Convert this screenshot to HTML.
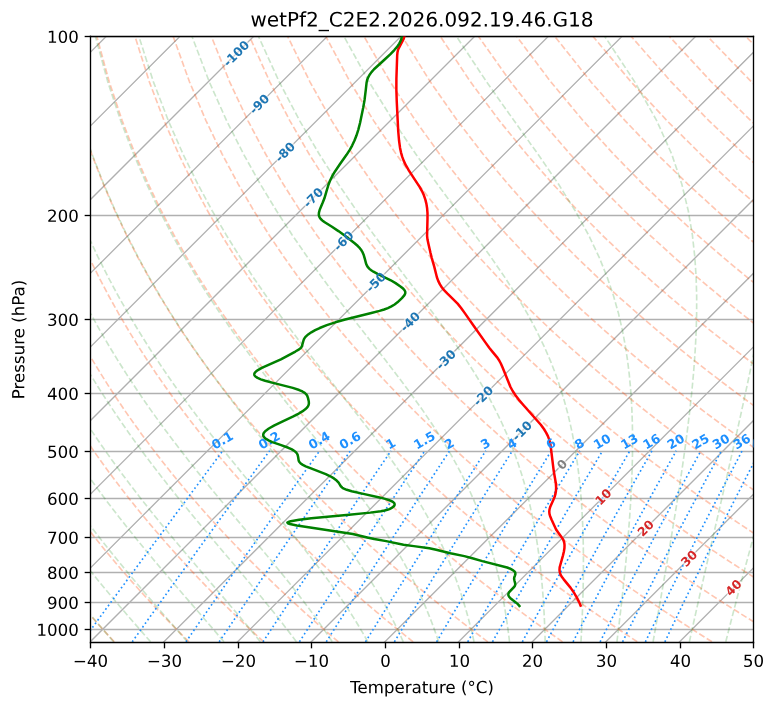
<!DOCTYPE html>
<html><head><meta charset="utf-8"><title>Skew-T</title>
<style>html,body{margin:0;padding:0;background:#fff;width:775px;height:708px;overflow:hidden;font-family:"Liberation Sans",sans-serif}svg{display:block}</style>
</head><body>
<svg width="775" height="708" viewBox="0 0 465 424.8" version="1.1">
 
 <defs>
  <style type="text/css">*{stroke-linejoin: round; stroke-linecap: butt}</style>
 </defs>
 <g id="figure_1">
  <g id="patch_1">
   <path d="M 0 424.8 
L 465 424.8 
L 465 0 
L 0 0 
z
" style="fill: #ffffff"/>
  </g>
  <g id="axes_1">
   <g id="patch_2">
    <path d="M 54.3 385.5 
L 452.1 385.5 
L 452.1 21.9 
L 54.3 21.9 
z
" style="fill: #ffffff"/>
   </g>
   <g id="line2d_1">
    <path d="M 10.1 21.9 
L 466 21.9 
" clip-path="url(#p07b7da3071)" style="fill: none; stroke: #b0b0b0; stroke-width: 0.8"/>
   </g>
   <g id="line2d_2">
    <path d="M 10.1 129.3 
L 466 129.3 
" clip-path="url(#p07b7da3071)" style="fill: none; stroke: #b0b0b0; stroke-width: 0.8"/>
   </g>
   <g id="line2d_3">
    <path d="M 10.1 191.7 
L 466 191.7 
" clip-path="url(#p07b7da3071)" style="fill: none; stroke: #b0b0b0; stroke-width: 0.8"/>
   </g>
   <g id="line2d_4">
    <path d="M 10.1 236.1 
L 466 236.1 
" clip-path="url(#p07b7da3071)" style="fill: none; stroke: #b0b0b0; stroke-width: 0.8"/>
   </g>
   <g id="line2d_5">
    <path d="M 10.1 270.9 
L 466 270.9 
" clip-path="url(#p07b7da3071)" style="fill: none; stroke: #b0b0b0; stroke-width: 0.8"/>
   </g>
   <g id="line2d_6">
    <path d="M 10.1 299.1 
L 466 299.1 
" clip-path="url(#p07b7da3071)" style="fill: none; stroke: #b0b0b0; stroke-width: 0.8"/>
   </g>
   <g id="line2d_7">
    <path d="M 10.1 322.5 
L 466 322.5 
" clip-path="url(#p07b7da3071)" style="fill: none; stroke: #b0b0b0; stroke-width: 0.8"/>
   </g>
   <g id="line2d_8">
    <path d="M 10.1 343.5 
L 466 343.5 
" clip-path="url(#p07b7da3071)" style="fill: none; stroke: #b0b0b0; stroke-width: 0.8"/>
   </g>
   <g id="line2d_9">
    <path d="M 10.1 361.5 
L 466 361.5 
" clip-path="url(#p07b7da3071)" style="fill: none; stroke: #b0b0b0; stroke-width: 0.8"/>
   </g>
   <g id="line2d_10">
    <path d="M 10.1 377.7 
L 466 377.7 
" clip-path="url(#p07b7da3071)" style="fill: none; stroke: #b0b0b0; stroke-width: 0.8"/>
   </g>
   <g id="line2d_11">
    <path clip-path="url(#p07b7da3071)" style="fill: none; stroke: #b0b0b0; stroke-width: 0.8; stroke-linecap: square"/>
   </g>
   <g id="line2d_12">
    <path clip-path="url(#p07b7da3071)" style="fill: none; stroke: #b0b0b0; stroke-width: 0.8; stroke-linecap: square"/>
   </g>
   <g id="line2d_13">
    <path clip-path="url(#p07b7da3071)" style="fill: none; stroke: #b0b0b0; stroke-width: 0.8; stroke-linecap: square"/>
   </g>
   <g id="line2d_14">
    <path clip-path="url(#p07b7da3071)" style="fill: none; stroke: #b0b0b0; stroke-width: 0.8; stroke-linecap: square"/>
   </g>
   <g id="line2d_15">
    <path d="M -1 42.387428 
L 42.387428 -1 
" clip-path="url(#p07b7da3071)" style="fill: none; stroke: #b0b0b0; stroke-width: 0.8; stroke-linecap: square"/>
   </g>
   <g id="line2d_16">
    <path d="M -1 86.589913 
L 86.589913 -1 
" clip-path="url(#p07b7da3071)" style="fill: none; stroke: #b0b0b0; stroke-width: 0.8; stroke-linecap: square"/>
   </g>
   <g id="line2d_17">
    <path d="M -1 130.792397 
L 130.792397 -1 
" clip-path="url(#p07b7da3071)" style="fill: none; stroke: #b0b0b0; stroke-width: 0.8; stroke-linecap: square"/>
   </g>
   <g id="line2d_18">
    <path d="M -1 174.994881 
L 174.994881 -1 
" clip-path="url(#p07b7da3071)" style="fill: none; stroke: #b0b0b0; stroke-width: 0.8; stroke-linecap: square"/>
   </g>
   <g id="line2d_19">
    <path d="M -1 219.197366 
L 219.197366 -1 
" clip-path="url(#p07b7da3071)" style="fill: none; stroke: #b0b0b0; stroke-width: 0.8; stroke-linecap: square"/>
   </g>
   <g id="line2d_20">
    <path d="M -1 263.39985 
L 263.39985 -1 
" clip-path="url(#p07b7da3071)" style="fill: none; stroke: #b0b0b0; stroke-width: 0.8; stroke-linecap: square"/>
   </g>
   <g id="line2d_21">
    <path d="M -1 307.602335 
L 307.602335 -1 
" clip-path="url(#p07b7da3071)" style="fill: none; stroke: #b0b0b0; stroke-width: 0.8; stroke-linecap: square"/>
   </g>
   <g id="line2d_22">
    <path d="M -1 351.804819 
L 351.804819 -1 
" clip-path="url(#p07b7da3071)" style="fill: none; stroke: #b0b0b0; stroke-width: 0.8; stroke-linecap: square"/>
   </g>
   <g id="line2d_23">
    <path d="M -1 396.007304 
L 396.007304 -1 
" clip-path="url(#p07b7da3071)" style="fill: none; stroke: #b0b0b0; stroke-width: 0.8; stroke-linecap: square"/>
   </g>
   <g id="line2d_24">
    <path d="M 25.944937 413.264851 
L 440.209788 -1 
" clip-path="url(#p07b7da3071)" style="fill: none; stroke: #b0b0b0; stroke-width: 0.8; stroke-linecap: square"/>
   </g>
   <g id="line2d_25">
    <path d="M 70.147422 413.264851 
L 466 17.412273 
" clip-path="url(#p07b7da3071)" style="fill: none; stroke: #b0b0b0; stroke-width: 0.8; stroke-linecap: square"/>
   </g>
   <g id="line2d_26">
    <path d="M 114.349906 413.264851 
L 466 61.614757 
" clip-path="url(#p07b7da3071)" style="fill: none; stroke: #b0b0b0; stroke-width: 0.8; stroke-linecap: square"/>
   </g>
   <g id="line2d_27">
    <path d="M 158.552391 413.264851 
L 466 105.817242 
" clip-path="url(#p07b7da3071)" style="fill: none; stroke: #b0b0b0; stroke-width: 0.8; stroke-linecap: square"/>
   </g>
   <g id="line2d_28">
    <path d="M 202.754875 413.264851 
L 466 150.019726 
" clip-path="url(#p07b7da3071)" style="fill: none; stroke: #b0b0b0; stroke-width: 0.8; stroke-linecap: square"/>
   </g>
   <g id="line2d_29">
    <path d="M 246.95736 413.264851 
L 466 194.222211 
" clip-path="url(#p07b7da3071)" style="fill: none; stroke: #b0b0b0; stroke-width: 0.8; stroke-linecap: square"/>
   </g>
   <g id="line2d_30">
    <path d="M 291.159844 413.264851 
L 466 238.424695 
" clip-path="url(#p07b7da3071)" style="fill: none; stroke: #b0b0b0; stroke-width: 0.8; stroke-linecap: square"/>
   </g>
   <g id="line2d_31">
    <path d="M 335.362329 413.264851 
L 466 282.62718 
" clip-path="url(#p07b7da3071)" style="fill: none; stroke: #b0b0b0; stroke-width: 0.8; stroke-linecap: square"/>
   </g>
   <g id="line2d_32">
    <path d="M 379.564813 413.264851 
L 466 326.829664 
" clip-path="url(#p07b7da3071)" style="fill: none; stroke: #b0b0b0; stroke-width: 0.8; stroke-linecap: square"/>
   </g>
   <g id="line2d_33">
    <path d="M 423.767297 413.264851 
L 466 371.032149 
" clip-path="url(#p07b7da3071)" style="fill: none; stroke: #b0b0b0; stroke-width: 0.8; stroke-linecap: square"/>
   </g>
   <g id="line2d_34">
    <path clip-path="url(#p07b7da3071)" style="fill: none; stroke: #b0b0b0; stroke-width: 0.8; stroke-linecap: square"/>
   </g>
   <g id="LineCollection_1">
    <path d="M 68.586947 385.089788 
L 65.917057 382.2097 
L 63.226779 379.274914 
L 60.515748 376.283313 
L 57.783587 373.232652 
L 55.029916 370.120554 
L 52.254345 366.944493 
L 49.45648 363.701785 
L 46.635919 360.389571 
L 43.792256 357.004807 
L 40.92508 353.544244 
L 38.033976 350.004409 
L 35.118528 346.381584 
L 32.178317 342.671784 
L 29.212927 338.870732 
L 26.221945 334.973823 
L 23.204964 330.976098 
L 20.161587 326.872202 
L 17.091431 322.656341 
L 13.994132 318.322234 
L 10.869351 313.863056 
L 7.716784 309.271373 
L 4.536166 304.539069 
L 1.32729 299.657258 
L -1 296.033213 
" clip-path="url(#p07b7da3071)" style="fill: none; stroke-dasharray: 3.7,1.6; stroke-dashoffset: 0; stroke: #ff4500; stroke-opacity: 0.3"/>
    <path d="M 113.409931 385.089788 
L 110.501998 382.2097 
L 107.570457 379.274914 
L 104.614834 376.283313 
L 101.634643 373.232652 
L 98.629384 370.120554 
L 95.598543 366.944493 
L 92.541593 363.701785 
L 89.457992 360.389571 
L 86.347187 357.004807 
L 83.208608 353.544244 
L 80.041676 350.004409 
L 76.845796 346.381584 
L 73.62036 342.671784 
L 70.364751 338.870732 
L 67.078342 334.973823 
L 63.760494 330.976098 
L 60.410565 326.872202 
L 57.027905 322.656341 
L 53.611867 318.322234 
L 50.161804 313.863056 
L 46.677079 309.271373 
L 43.15707 304.539069 
L 39.601177 299.657258 
L 36.008834 294.616185 
L 32.379523 289.405105 
L 28.712788 284.012152 
L 25.008257 278.424169 
L 21.265668 272.626519 
L 17.484905 266.602854 
L 13.666037 260.334833 
L 9.809376 253.801791 
L 5.915545 246.980324 
L 1.985576 239.843782 
L -1 234.209224 
" clip-path="url(#p07b7da3071)" style="fill: none; stroke-dasharray: 3.7,1.6; stroke-dashoffset: 0; stroke: #ff4500; stroke-opacity: 0.3"/>
    <path d="M 158.232915 385.089788 
L 155.086938 382.2097 
L 151.914134 379.274914 
L 148.71392 376.283313 
L 145.4857 373.232652 
L 142.228853 370.120554 
L 138.942741 366.944493 
L 135.626705 363.701785 
L 132.280065 360.389571 
L 128.902117 357.004807 
L 125.492137 353.544244 
L 122.049376 350.004409 
L 118.573063 346.381584 
L 115.062403 342.671784 
L 111.516576 338.870732 
L 107.934739 334.973823 
L 104.316025 330.976098 
L 100.659543 326.872202 
L 96.96438 322.656341 
L 93.229603 318.322234 
L 89.454257 313.863056 
L 85.637375 309.271373 
L 81.777974 304.539069 
L 77.875064 299.657258 
L 73.927656 294.616185 
L 69.934768 289.405105 
L 65.895436 284.012152 
L 61.808732 278.424169 
L 57.673784 272.626519 
L 53.489795 266.602854 
L 49.256085 260.334833 
L 44.972127 253.801791 
L 40.63761 246.980324 
L 36.25251 239.843782 
L 31.817193 232.361645 
L 27.33255 224.498731 
L 22.800176 216.214194 
L 18.222622 207.460244 
L 13.603737 198.180474 
L 8.949147 188.307654 
L 4.266944 177.760779 
L -0.431327 166.441019 
L -1 164.962414 
" clip-path="url(#p07b7da3071)" style="fill: none; stroke-dasharray: 3.7,1.6; stroke-dashoffset: 0; stroke: #ff4500; stroke-opacity: 0.3"/>
    <path d="M 203.055899 385.089788 
L 199.671879 382.2097 
L 196.257811 379.274914 
L 192.813007 376.283313 
L 189.336756 373.232652 
L 185.828321 370.120554 
L 182.286939 366.944493 
L 178.711818 363.701785 
L 175.102137 360.389571 
L 171.457047 357.004807 
L 167.775665 353.544244 
L 164.057076 350.004409 
L 160.300331 346.381584 
L 156.504446 342.671784 
L 152.668401 338.870732 
L 148.791137 334.973823 
L 144.871556 330.976098 
L 140.908521 326.872202 
L 136.900855 322.656341 
L 132.847338 318.322234 
L 128.746711 313.863056 
L 124.597671 309.271373 
L 120.398878 304.539069 
L 116.148952 299.657258 
L 111.846478 294.616185 
L 107.490012 289.405105 
L 103.078083 284.012152 
L 98.609208 278.424169 
L 94.081899 272.626519 
L 89.494685 266.602854 
L 84.846133 260.334833 
L 80.134879 253.801791 
L 75.359675 246.980324 
L 70.519444 239.843782 
L 65.613361 232.361645 
L 60.640961 224.498731 
L 55.60229 216.214194 
L 50.498111 207.460244 
L 45.330197 198.180474 
L 40.101742 188.307654 
L 34.817956 177.760779 
L 29.486936 166.441019 
L 24.120963 154.226076 
L 18.73849 140.962115 
L 13.367257 126.451883 
L 8.049349 110.436665 
L 2.849729 92.567754 
L -1 76.940711 
" clip-path="url(#p07b7da3071)" style="fill: none; stroke-dasharray: 3.7,1.6; stroke-dashoffset: 0; stroke: #ff4500; stroke-opacity: 0.3"/>
    <path d="M 247.878883 385.089788 
L 244.25682 382.2097 
L 240.601488 379.274914 
L 236.912093 376.283313 
L 233.187812 373.232652 
L 229.42779 370.120554 
L 225.631137 366.944493 
L 221.79693 363.701785 
L 217.92421 360.389571 
L 214.011978 357.004807 
L 210.059193 353.544244 
L 206.064776 350.004409 
L 202.027599 346.381584 
L 197.94649 342.671784 
L 193.820226 338.870732 
L 189.647534 334.973823 
L 185.427086 330.976098 
L 181.157499 326.872202 
L 176.83733 322.656341 
L 172.465074 318.322234 
L 168.039164 313.863056 
L 163.557967 309.271373 
L 159.019782 304.539069 
L 154.422839 299.657258 
L 149.7653 294.616185 
L 145.045256 289.405105 
L 140.260731 284.012152 
L 135.409684 278.424169 
L 130.490015 272.626519 
L 125.499575 266.602854 
L 120.43618 260.334833 
L 115.29763 253.801791 
L 110.08174 246.980324 
L 104.786378 239.843782 
L 99.409528 232.361645 
L 93.949371 224.498731 
L 88.404403 216.214194 
L 82.7736 207.460244 
L 77.056658 198.180474 
L 71.254337 188.307654 
L 65.368968 177.760779 
L 59.405199 166.441019 
L 53.371131 154.226076 
L 47.280072 140.962115 
L 41.153321 126.451883 
L 35.02473 110.436665 
L 28.94848 92.567754 
L 23.012954 72.359175 
L 17.367039 49.104601 
L 12.273905 21.72 
" clip-path="url(#p07b7da3071)" style="fill: none; stroke-dasharray: 3.7,1.6; stroke-dashoffset: 0; stroke: #ff4500; stroke-opacity: 0.3"/>
    <path d="M 292.701867 385.089788 
L 288.841761 382.2097 
L 284.945165 379.274914 
L 281.011179 376.283313 
L 277.038868 373.232652 
L 273.027258 370.120554 
L 268.975335 366.944493 
L 264.882043 363.701785 
L 260.746283 360.389571 
L 256.566908 357.004807 
L 252.342721 353.544244 
L 248.072476 350.004409 
L 243.754867 346.381584 
L 239.388533 342.671784 
L 234.972051 338.870732 
L 230.503931 334.973823 
L 225.982617 330.976098 
L 221.406477 326.872202 
L 216.773804 322.656341 
L 212.082809 318.322234 
L 207.331617 313.863056 
L 202.518262 309.271373 
L 197.640685 304.539069 
L 192.696727 299.657258 
L 187.684122 294.616185 
L 182.600501 289.405105 
L 177.443379 284.012152 
L 172.210159 278.424169 
L 166.89813 272.626519 
L 161.504465 266.602854 
L 156.026228 260.334833 
L 150.460382 253.801791 
L 144.803805 246.980324 
L 139.053312 239.843782 
L 133.205695 232.361645 
L 127.257782 224.498731 
L 121.206517 216.214194 
L 115.049089 207.460244 
L 108.783118 198.180474 
L 102.406932 188.307654 
L 95.919979 177.760779 
L 89.323462 166.441019 
L 82.621299 154.226076 
L 75.821655 140.962115 
L 68.939385 126.451883 
L 62.000111 110.436665 
L 55.04723 92.567754 
L 48.154571 72.359175 
L 41.450611 49.104601 
L 35.16847 21.72 
" clip-path="url(#p07b7da3071)" style="fill: none; stroke-dasharray: 3.7,1.6; stroke-dashoffset: 0; stroke: #ff4500; stroke-opacity: 0.3"/>
    <path d="M 337.524851 385.089788 
L 333.426701 382.2097 
L 329.288842 379.274914 
L 325.110266 376.283313 
L 320.889925 373.232652 
L 316.626727 370.120554 
L 312.319533 366.944493 
L 307.967156 363.701785 
L 303.568356 360.389571 
L 299.121838 357.004807 
L 294.62625 353.544244 
L 290.080175 350.004409 
L 285.482134 346.381584 
L 280.830576 342.671784 
L 276.123876 338.870732 
L 271.360329 334.973823 
L 266.538148 330.976098 
L 261.655456 326.872202 
L 256.710279 322.656341 
L 251.700545 318.322234 
L 246.62407 313.863056 
L 241.478558 309.271373 
L 236.261589 304.539069 
L 230.970614 299.657258 
L 225.602944 294.616185 
L 220.155745 289.405105 
L 214.626026 284.012152 
L 209.010635 278.424169 
L 203.306245 272.626519 
L 197.509355 266.602854 
L 191.616275 260.334833 
L 185.623134 253.801791 
L 179.525869 246.980324 
L 173.320245 239.843782 
L 167.001863 232.361645 
L 160.566193 224.498731 
L 154.008631 216.214194 
L 147.324578 207.460244 
L 140.509579 198.180474 
L 133.559527 188.307654 
L 126.470991 177.760779 
L 119.241725 166.441019 
L 111.871467 154.226076 
L 104.363237 140.962115 
L 96.725449 126.451883 
L 88.975492 110.436665 
L 81.145981 92.567754 
L 73.296187 72.359175 
L 65.534184 49.104601 
L 58.063035 21.72 
" clip-path="url(#p07b7da3071)" style="fill: none; stroke-dasharray: 3.7,1.6; stroke-dashoffset: 0; stroke: #ff4500; stroke-opacity: 0.3"/>
    <path d="M 382.347835 385.089788 
L 378.011642 382.2097 
L 373.632519 379.274914 
L 369.209352 376.283313 
L 364.740981 373.232652 
L 360.226195 370.120554 
L 355.663731 366.944493 
L 351.052268 363.701785 
L 346.390429 360.389571 
L 341.676769 357.004807 
L 336.909778 353.544244 
L 332.087875 350.004409 
L 327.209402 346.381584 
L 322.272619 342.671784 
L 317.2757 338.870732 
L 312.216726 334.973823 
L 307.093679 330.976098 
L 301.904434 326.872202 
L 296.646754 322.656341 
L 291.31828 318.322234 
L 285.916523 313.863056 
L 280.438854 309.271373 
L 274.882493 304.539069 
L 269.244501 299.657258 
L 263.521766 294.616185 
L 257.710989 289.405105 
L 251.808674 284.012152 
L 245.81111 278.424169 
L 239.714361 272.626519 
L 233.514244 266.602854 
L 227.206323 260.334833 
L 220.785885 253.801791 
L 214.247934 246.980324 
L 207.587179 239.843782 
L 200.79803 232.361645 
L 193.874604 224.498731 
L 186.810744 216.214194 
L 179.600067 207.460244 
L 172.236039 198.180474 
L 164.712121 188.307654 
L 157.022003 177.760779 
L 149.159988 166.441019 
L 141.121635 154.226076 
L 132.904819 140.962115 
L 124.511513 126.451883 
L 115.950873 110.436665 
L 107.244731 92.567754 
L 98.437804 72.359175 
L 89.617756 49.104601 
L 80.9576 21.72 
" clip-path="url(#p07b7da3071)" style="fill: none; stroke-dasharray: 3.7,1.6; stroke-dashoffset: 0; stroke: #ff4500; stroke-opacity: 0.3"/>
    <path d="M 427.170819 385.089788 
L 422.596583 382.2097 
L 417.976196 379.274914 
L 413.308438 376.283313 
L 408.592037 373.232652 
L 403.825663 370.120554 
L 399.007929 366.944493 
L 394.137381 363.701785 
L 389.212501 360.389571 
L 384.231699 357.004807 
L 379.193306 353.544244 
L 374.095575 350.004409 
L 368.93667 346.381584 
L 363.714663 342.671784 
L 358.427525 338.870732 
L 353.073124 334.973823 
L 347.649209 330.976098 
L 342.153412 326.872202 
L 336.583229 322.656341 
L 330.936016 318.322234 
L 325.208976 313.863056 
L 319.399149 309.271373 
L 313.503397 304.539069 
L 307.518389 299.657258 
L 301.440588 294.616185 
L 295.266234 289.405105 
L 288.991321 284.012152 
L 282.611586 278.424169 
L 276.122476 272.626519 
L 269.519134 266.602854 
L 262.796371 260.334833 
L 255.948637 253.801791 
L 248.969999 246.980324 
L 241.854113 239.843782 
L 234.594197 232.361645 
L 227.183014 224.498731 
L 219.612858 216.214194 
L 211.875556 207.460244 
L 203.9625 198.180474 
L 195.864716 188.307654 
L 187.573014 177.760779 
L 179.078251 166.441019 
L 170.371804 154.226076 
L 161.446402 140.962115 
L 152.297577 126.451883 
L 142.926254 110.436665 
L 133.343482 92.567754 
L 123.579421 72.359175 
L 113.701328 49.104601 
L 103.852165 21.72 
" clip-path="url(#p07b7da3071)" style="fill: none; stroke-dasharray: 3.7,1.6; stroke-dashoffset: 0; stroke: #ff4500; stroke-opacity: 0.3"/>
    <path d="M 466 381.496461 
L 462.319873 379.274914 
L 457.407525 376.283313 
L 452.443093 373.232652 
L 447.425132 370.120554 
L 442.352127 366.944493 
L 437.222494 363.701785 
L 432.034574 360.389571 
L 426.786629 357.004807 
L 421.476835 353.544244 
L 416.103275 350.004409 
L 410.663938 346.381584 
L 405.156706 342.671784 
L 399.57935 338.870732 
L 393.929521 334.973823 
L 388.20474 330.976098 
L 382.40239 326.872202 
L 376.519703 322.656341 
L 370.553751 318.322234 
L 364.501429 313.863056 
L 358.359445 309.271373 
L 352.124301 304.539069 
L 345.792276 299.657258 
L 339.35941 294.616185 
L 332.821478 289.405105 
L 326.173969 284.012152 
L 319.412061 278.424169 
L 312.530591 272.626519 
L 305.524024 266.602854 
L 298.386418 260.334833 
L 291.111388 253.801791 
L 283.692064 246.980324 
L 276.121047 239.843782 
L 268.390365 232.361645 
L 260.491425 224.498731 
L 252.414972 216.214194 
L 244.151045 207.460244 
L 235.68896 198.180474 
L 227.017311 188.307654 
L 218.124026 177.760779 
L 208.996514 166.441019 
L 199.621972 154.226076 
L 189.987984 140.962115 
L 180.083642 126.451883 
L 169.901635 110.436665 
L 159.442232 92.567754 
L 148.721038 72.359175 
L 137.784901 49.104601 
L 126.746729 21.72 
" clip-path="url(#p07b7da3071)" style="fill: none; stroke-dasharray: 3.7,1.6; stroke-dashoffset: 0; stroke: #ff4500; stroke-opacity: 0.3"/>
    <path d="M 466 354.932908 
L 463.760363 353.544244 
L 458.110975 350.004409 
L 452.391206 346.381584 
L 446.598749 342.671784 
L 440.731175 338.870732 
L 434.785918 334.973823 
L 428.760271 330.976098 
L 422.651368 326.872202 
L 416.456178 322.656341 
L 410.171487 318.322234 
L 403.793882 313.863056 
L 397.319741 309.271373 
L 390.745205 304.539069 
L 384.066164 299.657258 
L 377.278232 294.616185 
L 370.376722 289.405105 
L 363.356617 284.012152 
L 356.212537 278.424169 
L 348.938707 272.626519 
L 341.528914 266.602854 
L 333.976466 260.334833 
L 326.27414 253.801791 
L 318.414129 246.980324 
L 310.387981 239.843782 
L 302.186532 232.361645 
L 293.799836 224.498731 
L 285.217085 216.214194 
L 276.426534 207.460244 
L 267.415421 198.180474 
L 258.169906 188.307654 
L 248.675038 177.760779 
L 238.914777 166.441019 
L 228.87214 154.226076 
L 218.529567 140.962115 
L 207.869706 126.451883 
L 196.877016 110.436665 
L 185.540983 92.567754 
L 173.862655 72.359175 
L 161.868473 49.104601 
L 149.641294 21.72 
" clip-path="url(#p07b7da3071)" style="fill: none; stroke-dasharray: 3.7,1.6; stroke-dashoffset: 0; stroke: #ff4500; stroke-opacity: 0.3"/>
    <path d="M 466 328.855017 
L 462.900346 326.872202 
L 456.392653 322.656341 
L 449.789222 318.322234 
L 443.086335 313.863056 
L 436.280036 309.271373 
L 429.366108 304.539069 
L 422.340051 299.657258 
L 415.197054 294.616185 
L 407.931967 289.405105 
L 400.539264 284.012152 
L 393.013012 278.424169 
L 385.346822 272.626519 
L 377.533804 266.602854 
L 369.566514 260.334833 
L 361.436891 253.801791 
L 353.136194 246.980324 
L 344.654914 239.843782 
L 335.982699 232.361645 
L 327.108247 224.498731 
L 318.019199 216.214194 
L 308.702023 207.460244 
L 299.141881 198.180474 
L 289.322501 188.307654 
L 279.22605 177.760779 
L 268.83304 166.441019 
L 258.122308 154.226076 
L 247.071149 140.962115 
L 235.65577 126.451883 
L 223.852397 110.436665 
L 211.639733 92.567754 
L 199.004272 72.359175 
L 185.952045 49.104601 
L 172.535859 21.72 
" clip-path="url(#p07b7da3071)" style="fill: none; stroke-dasharray: 3.7,1.6; stroke-dashoffset: 0; stroke: #ff4500; stroke-opacity: 0.3"/>
    <path d="M 466 303.223442 
L 460.613939 299.657258 
L 453.115876 294.616185 
L 445.487211 289.405105 
L 437.721912 284.012152 
L 429.813488 278.424169 
L 421.754937 272.626519 
L 413.538694 266.602854 
L 405.156561 260.334833 
L 396.599643 253.801791 
L 387.858258 246.980324 
L 378.921848 239.843782 
L 369.778867 232.361645 
L 360.416657 224.498731 
L 350.821313 216.214194 
L 340.977512 207.460244 
L 330.868342 198.180474 
L 320.475096 188.307654 
L 309.777061 177.760779 
L 298.751303 166.441019 
L 287.372476 154.226076 
L 275.612732 140.962115 
L 263.441834 126.451883 
L 250.827778 110.436665 
L 237.738484 92.567754 
L 224.145889 72.359175 
L 210.035617 49.104601 
L 195.430424 21.72 
" clip-path="url(#p07b7da3071)" style="fill: none; stroke-dasharray: 3.7,1.6; stroke-dashoffset: 0; stroke: #ff4500; stroke-opacity: 0.3"/>
    <path d="M 466 278.002966 
L 458.163053 272.626519 
L 449.543584 266.602854 
L 440.746609 260.334833 
L 431.762395 253.801791 
L 422.580323 246.980324 
L 413.188782 239.843782 
L 403.575034 232.361645 
L 393.725068 224.498731 
L 383.623426 216.214194 
L 373.253001 207.460244 
L 362.594802 198.180474 
L 351.627691 188.307654 
L 340.328073 177.760779 
L 328.669566 166.441019 
L 316.622645 154.226076 
L 304.154314 140.962115 
L 291.227898 126.451883 
L 277.80316 110.436665 
L 263.837234 92.567754 
L 249.287506 72.359175 
L 234.11919 49.104601 
L 218.324989 21.72 
" clip-path="url(#p07b7da3071)" style="fill: none; stroke-dasharray: 3.7,1.6; stroke-dashoffset: 0; stroke: #ff4500; stroke-opacity: 0.3"/>
    <path d="M 466 253.145965 
L 457.302388 246.980324 
L 447.455716 239.843782 
L 437.371201 232.361645 
L 427.033479 224.498731 
L 416.42554 216.214194 
L 405.52849 207.460244 
L 394.321263 198.180474 
L 382.780285 188.307654 
L 370.879085 177.760779 
L 358.587829 166.441019 
L 345.872813 154.226076 
L 332.695897 140.962115 
L 319.013962 126.451883 
L 304.778541 110.436665 
L 289.935985 92.567754 
L 274.429123 72.359175 
L 258.202762 49.104601 
L 241.219554 21.72 
" clip-path="url(#p07b7da3071)" style="fill: none; stroke-dasharray: 3.7,1.6; stroke-dashoffset: 0; stroke: #ff4500; stroke-opacity: 0.3"/>
    <path d="M 466 228.608409 
L 460.34189 224.498731 
L 449.227654 216.214194 
L 437.803979 207.460244 
L 426.047723 198.180474 
L 413.93288 188.307654 
L 401.430096 177.760779 
L 388.506092 166.441019 
L 375.122981 154.226076 
L 361.237479 140.962115 
L 346.800026 126.451883 
L 331.753922 110.436665 
L 316.034736 92.567754 
L 299.57074 72.359175 
L 282.286334 49.104601 
L 264.114119 21.72 
" clip-path="url(#p07b7da3071)" style="fill: none; stroke-dasharray: 3.7,1.6; stroke-dashoffset: 0; stroke: #ff4500; stroke-opacity: 0.3"/>
    <path d="M 466 204.3838 
L 457.774184 198.180474 
L 445.085475 188.307654 
L 431.981108 177.760779 
L 418.424355 166.441019 
L 404.373149 154.226076 
L 389.779061 140.962115 
L 374.58609 126.451883 
L 358.729303 110.436665 
L 342.133486 92.567754 
L 324.712357 72.359175 
L 306.369907 49.104601 
L 287.008684 21.72 
" clip-path="url(#p07b7da3071)" style="fill: none; stroke-dasharray: 3.7,1.6; stroke-dashoffset: 0; stroke: #ff4500; stroke-opacity: 0.3"/>
    <path d="M 466 180.42935 
L 462.53212 177.760779 
L 448.342618 166.441019 
L 433.623317 154.226076 
L 418.320644 140.962115 
L 402.372154 126.451883 
L 385.704684 110.436665 
L 368.232237 92.567754 
L 349.853973 72.359175 
L 330.453479 49.104601 
L 309.903249 21.72 
" clip-path="url(#p07b7da3071)" style="fill: none; stroke-dasharray: 3.7,1.6; stroke-dashoffset: 0; stroke: #ff4500; stroke-opacity: 0.3"/>
    <path d="M 466 156.70799 
L 462.873486 154.226076 
L 446.862226 140.962115 
L 430.158219 126.451883 
L 412.680065 110.436665 
L 394.330987 92.567754 
L 374.99559 72.359175 
L 354.537051 49.104601 
L 332.797814 21.72 
" clip-path="url(#p07b7da3071)" style="fill: none; stroke-dasharray: 3.7,1.6; stroke-dashoffset: 0; stroke: #ff4500; stroke-opacity: 0.3"/>
    <path d="M 466 133.146814 
L 457.944283 126.451883 
L 439.655446 110.436665 
L 420.429738 92.567754 
L 400.137207 72.359175 
L 378.620623 49.104601 
L 355.692379 21.72 
" clip-path="url(#p07b7da3071)" style="fill: none; stroke-dasharray: 3.7,1.6; stroke-dashoffset: 0; stroke: #ff4500; stroke-opacity: 0.3"/>
    <path d="M 466 109.875925 
L 446.528488 92.567754 
L 425.278824 72.359175 
L 402.704196 49.104601 
L 378.586944 21.72 
" clip-path="url(#p07b7da3071)" style="fill: none; stroke-dasharray: 3.7,1.6; stroke-dashoffset: 0; stroke: #ff4500; stroke-opacity: 0.3"/>
    <path d="M 466 86.536849 
L 450.420441 72.359175 
L 426.787768 49.104601 
L 401.481509 21.72 
" clip-path="url(#p07b7da3071)" style="fill: none; stroke-dasharray: 3.7,1.6; stroke-dashoffset: 0; stroke: #ff4500; stroke-opacity: 0.3"/>
    <path d="M 466 63.353297 
L 450.87134 49.104601 
L 424.376074 21.72 
" clip-path="url(#p07b7da3071)" style="fill: none; stroke-dasharray: 3.7,1.6; stroke-dashoffset: 0; stroke: #ff4500; stroke-opacity: 0.3"/>
    <path d="M 466 40.246622 
L 447.270639 21.72 
" clip-path="url(#p07b7da3071)" style="fill: none; stroke-dasharray: 3.7,1.6; stroke-dashoffset: 0; stroke: #ff4500; stroke-opacity: 0.3"/>
    <path clip-path="url(#p07b7da3071)" style="fill: none; stroke-dasharray: 3.7,1.6; stroke-dashoffset: 0; stroke: #ff4500; stroke-opacity: 0.3"/>
    <path clip-path="url(#p07b7da3071)" style="fill: none; stroke-dasharray: 3.7,1.6; stroke-dashoffset: 0; stroke: #ff4500; stroke-opacity: 0.3"/>
    <path clip-path="url(#p07b7da3071)" style="fill: none; stroke-dasharray: 3.7,1.6; stroke-dashoffset: 0; stroke: #ff4500; stroke-opacity: 0.3"/>
    <path clip-path="url(#p07b7da3071)" style="fill: none; stroke-dasharray: 3.7,1.6; stroke-dashoffset: 0; stroke: #ff4500; stroke-opacity: 0.3"/>
    <path clip-path="url(#p07b7da3071)" style="fill: none; stroke-dasharray: 3.7,1.6; stroke-dashoffset: 0; stroke: #ff4500; stroke-opacity: 0.3"/>
    <path clip-path="url(#p07b7da3071)" style="fill: none; stroke-dasharray: 3.7,1.6; stroke-dashoffset: 0; stroke: #ff4500; stroke-opacity: 0.3"/>
   </g>
   <g id="LineCollection_2">
    <path d="M 68.189246 385.089788 
L 65.683806 382.2097 
L 63.144902 379.274914 
L 60.57272 376.283313 
L 57.967447 373.232652 
L 55.329271 370.120554 
L 52.658376 366.944493 
L 49.954938 363.701785 
L 47.219158 360.389571 
L 44.451204 357.004807 
L 41.651215 353.544244 
L 38.819324 350.004409 
L 35.955675 346.381584 
L 33.060392 342.671784 
L 30.133594 338.870732 
L 27.175381 334.973823 
L 24.185809 330.976098 
L 21.164935 326.872202 
L 18.112837 322.656341 
L 15.029575 318.322234 
L 11.915233 313.863056 
L 8.769855 309.271373 
L 5.5935 304.539069 
L 2.386302 299.657258 
L -0.851574 294.616185 
L -1 294.379531 
" clip-path="url(#p07b7da3071)" style="fill: none; stroke-dasharray: 3.7,1.6; stroke-dashoffset: 0; stroke: #008000; stroke-opacity: 0.2"/>
    <path d="M 90.370564 385.089788 
L 87.839994 382.2097 
L 85.268461 379.274914 
L 82.656158 376.283313 
L 80.003305 373.232652 
L 77.31014 370.120554 
L 74.576912 366.944493 
L 71.803879 363.701785 
L 68.991342 360.389571 
L 66.139576 357.004807 
L 63.248836 353.544244 
L 60.319377 350.004409 
L 57.351474 346.381584 
L 54.345383 342.671784 
L 51.301355 338.870732 
L 48.219617 334.973823 
L 45.100347 330.976098 
L 41.943712 326.872202 
L 38.749895 322.656341 
L 35.519044 318.322234 
L 32.251314 313.863056 
L 28.9468 309.271373 
L 25.605591 304.539069 
L 22.227825 299.657258 
L 18.813643 294.616185 
L 15.363218 289.405105 
L 11.876709 284.012152 
L 8.354395 278.424169 
L 4.796669 272.626519 
L 1.20406 266.602854 
L -1 262.793743 
" clip-path="url(#p07b7da3071)" style="fill: none; stroke-dasharray: 3.7,1.6; stroke-dashoffset: 0; stroke: #008000; stroke-opacity: 0.2"/>
    <path d="M 112.44999 385.089788 
L 109.934814 382.2097 
L 107.369916 379.274914 
L 104.755363 376.283313 
L 102.091277 373.232652 
L 99.377834 370.120554 
L 96.615251 366.944493 
L 93.803785 363.701785 
L 90.943774 360.389571 
L 88.035552 357.004807 
L 85.079457 353.544244 
L 82.075852 350.004409 
L 79.02514 346.381584 
L 75.927733 342.671784 
L 72.784039 338.870732 
L 69.594461 334.973823 
L 66.359355 330.976098 
L 63.079064 326.872202 
L 59.753948 322.656341 
L 56.384328 318.322234 
L 52.97052 313.863056 
L 49.512765 309.271373 
L 46.011274 304.539069 
L 42.466284 299.657258 
L 38.878012 294.616185 
L 35.24667 289.405105 
L 31.57242 284.012152 
L 27.855501 278.424169 
L 24.096219 272.626519 
L 20.294966 266.602854 
L 16.452183 260.334833 
L 12.568567 253.801791 
L 8.645091 246.980324 
L 4.682995 239.843782 
L 0.684009 232.361645 
L -1 229.078783 
" clip-path="url(#p07b7da3071)" style="fill: none; stroke-dasharray: 3.7,1.6; stroke-dashoffset: 0; stroke: #008000; stroke-opacity: 0.2"/>
    <path d="M 134.401623 385.089788 
L 131.951898 382.2097 
L 129.4431 379.274914 
L 126.874927 376.283313 
L 124.247172 373.232652 
L 121.559719 370.120554 
L 118.812542 366.944493 
L 116.005699 363.701785 
L 113.139371 360.389571 
L 110.21379 357.004807 
L 107.22924 353.544244 
L 104.186082 350.004409 
L 101.084766 346.381584 
L 97.925762 342.671784 
L 94.709633 338.870732 
L 91.436939 334.973823 
L 88.10821 330.976098 
L 84.723987 326.872202 
L 81.284865 322.656341 
L 77.791424 318.322234 
L 74.244219 313.863056 
L 70.643754 309.271373 
L 66.990468 304.539069 
L 63.284812 299.657258 
L 59.5272 294.616185 
L 55.71803 289.405105 
L 51.857605 284.012152 
L 47.946232 278.424169 
L 43.984261 272.626519 
L 39.972079 266.602854 
L 35.910049 260.334833 
L 31.798693 253.801791 
L 27.638748 246.980324 
L 23.431151 239.843782 
L 19.177173 232.361645 
L 14.878697 224.498731 
L 10.538244 216.214194 
L 6.159296 207.460244 
L 1.746794 198.180474 
L -1 192.071876 
" clip-path="url(#p07b7da3071)" style="fill: none; stroke-dasharray: 3.7,1.6; stroke-dashoffset: 0; stroke: #008000; stroke-opacity: 0.2"/>
    <path d="M 156.203919 385.089788 
L 153.877067 382.2097 
L 151.482462 379.274914 
L 149.01913 376.283313 
L 146.486209 373.232652 
L 143.882959 370.120554 
L 141.208765 366.944493 
L 138.463129 363.701785 
L 135.645766 360.389571 
L 132.756499 357.004807 
L 129.795249 353.544244 
L 126.762063 350.004409 
L 123.657127 346.381584 
L 120.480793 342.671784 
L 117.233561 338.870732 
L 113.915964 334.973823 
L 110.528664 330.976098 
L 107.072343 326.872202 
L 103.547743 322.656341 
L 99.955686 318.322234 
L 96.296998 313.863056 
L 92.572559 309.271373 
L 88.783147 304.539069 
L 84.929499 299.657258 
L 81.012393 294.616185 
L 77.032549 289.405105 
L 72.990641 284.012152 
L 68.887219 278.424169 
L 64.722827 272.626519 
L 60.498009 266.602854 
L 56.213303 260.334833 
L 51.869183 253.801791 
L 47.466287 246.980324 
L 43.005424 239.843782 
L 38.487544 232.361645 
L 33.914039 224.498731 
L 29.286908 216.214194 
L 24.608819 207.460244 
L 19.883703 198.180474 
L 15.117068 188.307654 
L 10.316684 177.760779 
L 5.493672 166.441019 
L 0.663772 154.226076 
L -1 149.641972 
" clip-path="url(#p07b7da3071)" style="fill: none; stroke-dasharray: 3.7,1.6; stroke-dashoffset: 0; stroke: #008000; stroke-opacity: 0.2"/>
    <path d="M 177.845972 385.089788 
L 175.702276 382.2097 
L 173.484544 379.274914 
L 171.190863 376.283313 
L 168.819414 373.232652 
L 166.368481 370.120554 
L 163.836476 366.944493 
L 161.221952 363.701785 
L 158.523635 360.389571 
L 155.740422 357.004807 
L 152.871388 353.544244 
L 149.915811 350.004409 
L 146.873188 346.381584 
L 143.743212 342.671784 
L 140.525825 338.870732 
L 137.22123 334.973823 
L 133.829743 330.976098 
L 130.351827 326.872202 
L 126.788132 322.656341 
L 123.139551 318.322234 
L 119.407108 313.863056 
L 115.591875 309.271373 
L 111.694992 304.539069 
L 107.717596 299.657258 
L 103.660904 294.616185 
L 99.526119 289.405105 
L 95.314418 284.012152 
L 91.026836 278.424169 
L 86.664396 272.626519 
L 82.228072 266.602854 
L 77.718756 260.334833 
L 73.137202 253.801791 
L 68.484234 246.980324 
L 63.760718 239.843782 
L 58.967514 232.361645 
L 54.105784 224.498731 
L 49.177098 216.214194 
L 44.183486 207.460244 
L 39.128014 198.180474 
L 34.015022 188.307654 
L 28.850809 177.760779 
L 23.644595 166.441019 
L 18.409756 154.226076 
L 13.165984 140.962115 
L 7.942438 126.451883 
L 2.782861 110.436665 
L -1 96.994049 
" clip-path="url(#p07b7da3071)" style="fill: none; stroke-dasharray: 3.7,1.6; stroke-dashoffset: 0; stroke: #008000; stroke-opacity: 0.2"/>
    <path d="M 199.33324 385.089788 
L 197.429492 382.2097 
L 195.449521 379.274914 
L 193.390421 376.283313 
L 191.249287 373.232652 
L 189.023243 370.120554 
L 186.709464 366.944493 
L 184.305206 363.701785 
L 181.807812 360.389571 
L 179.214779 357.004807 
L 176.523778 353.544244 
L 173.732678 350.004409 
L 170.839565 346.381584 
L 167.842782 342.671784 
L 164.740994 338.870732 
L 161.533153 334.973823 
L 158.218509 330.976098 
L 154.796656 326.872202 
L 151.267552 322.656341 
L 147.631464 318.322234 
L 143.889037 313.863056 
L 140.041114 309.271373 
L 136.088766 304.539069 
L 132.033377 299.657258 
L 127.876497 294.616185 
L 123.61982 289.405105 
L 119.265028 284.012152 
L 114.813857 278.424169 
L 110.268083 272.626519 
L 105.62943 266.602854 
L 100.899431 260.334833 
L 96.079575 253.801791 
L 91.171287 246.980324 
L 86.175838 239.843782 
L 81.094421 232.361645 
L 75.928369 224.498731 
L 70.679079 216.214194 
L 65.348286 207.460244 
L 59.938434 198.180474 
L 54.452803 188.307654 
L 48.89641 177.760779 
L 43.276526 166.441019 
L 37.604203 154.226076 
L 31.895907 140.962115 
L 26.176807 126.451883 
L 20.485355 110.436665 
L 14.881653 92.567754 
L 9.462023 72.359175 
L 4.386387 49.104601 
L -0.065887 21.72 
" clip-path="url(#p07b7da3071)" style="fill: none; stroke-dasharray: 3.7,1.6; stroke-dashoffset: 0; stroke: #008000; stroke-opacity: 0.2"/>
    <path d="M 220.690147 385.089788 
L 219.07281 382.2097 
L 217.382193 379.274914 
L 215.614627 376.283313 
L 213.766326 373.232652 
L 211.833398 370.120554 
L 209.811863 366.944493 
L 207.697678 363.701785 
L 205.486731 360.389571 
L 203.174919 357.004807 
L 200.758188 353.544244 
L 198.232547 350.004409 
L 195.594094 346.381584 
L 192.839111 342.671784 
L 189.964096 338.870732 
L 186.965839 334.973823 
L 183.84148 330.976098 
L 180.588538 326.872202 
L 177.204956 322.656341 
L 173.689213 318.322234 
L 170.040297 313.863056 
L 166.25768 309.271373 
L 162.341393 304.539069 
L 158.292046 299.657258 
L 154.110744 294.616185 
L 149.799036 289.405105 
L 145.358759 284.012152 
L 140.792165 278.424169 
L 136.101745 272.626519 
L 131.290118 266.602854 
L 126.359844 260.334833 
L 121.313571 253.801791 
L 116.153863 246.980324 
L 110.88303 239.843782 
L 105.503264 232.361645 
L 100.016683 224.498731 
L 94.425178 216.214194 
L 88.730761 207.460244 
L 82.935719 198.180474 
L 77.042775 188.307654 
L 71.055905 177.760779 
L 64.980698 166.441019 
L 58.82589 154.226076 
L 52.604721 140.962115 
L 46.338068 126.451883 
L 40.05869 110.436665 
L 33.81903 92.567754 
L 27.70494 72.359175 
L 21.861592 49.104601 
L 16.546562 21.72 
" clip-path="url(#p07b7da3071)" style="fill: none; stroke-dasharray: 3.7,1.6; stroke-dashoffset: 0; stroke: #008000; stroke-opacity: 0.2"/>
    <path d="M 241.957699 385.089788 
L 240.657405 382.2097 
L 239.291765 379.274914 
L 237.85684 376.283313 
L 236.348455 373.232652 
L 234.762203 370.120554 
L 233.09344 366.944493 
L 231.337285 363.701785 
L 229.488626 360.389571 
L 227.542136 357.004807 
L 225.49229 353.544244 
L 223.333386 350.004409 
L 221.059581 346.381584 
L 218.664921 342.671784 
L 216.143418 338.870732 
L 213.489131 334.973823 
L 210.696202 330.976098 
L 207.758957 326.872202 
L 204.672002 322.656341 
L 201.430361 318.322234 
L 198.029581 313.863056 
L 194.465794 309.271373 
L 190.735846 304.539069 
L 186.837441 299.657258 
L 182.769094 294.616185 
L 178.530228 289.405105 
L 174.121223 284.012152 
L 169.543394 278.424169 
L 164.798811 272.626519 
L 159.890143 266.602854 
L 154.820812 260.334833 
L 149.594644 253.801791 
L 144.215621 246.980324 
L 138.687808 239.843782 
L 133.015321 232.361645 
L 127.201999 224.498731 
L 121.251405 216.214194 
L 115.16698 207.460244 
L 108.95183 198.180474 
L 102.609227 188.307654 
L 96.142809 177.760779 
L 89.557255 166.441019 
L 82.859287 154.226076 
L 76.059219 140.962115 
L 69.173428 126.451883 
L 62.22866 110.436665 
L 55.268911 92.567754 
L 48.36832 72.359175 
L 41.65542 49.104601 
L 35.36317 21.72 
" clip-path="url(#p07b7da3071)" style="fill: none; stroke-dasharray: 3.7,1.6; stroke-dashoffset: 0; stroke: #008000; stroke-opacity: 0.2"/>
    <path d="M 263.186373 385.089788 
L 262.21517 382.2097 
L 261.190288 379.274914 
L 260.108053 376.283313 
L 258.964504 373.232652 
L 257.755381 370.120554 
L 256.476096 366.944493 
L 255.121707 363.701785 
L 253.686943 360.389571 
L 252.166126 357.004807 
L 250.553158 353.544244 
L 248.841541 350.004409 
L 247.024386 346.381584 
L 245.094359 342.671784 
L 243.043716 338.870732 
L 240.864326 334.973823 
L 238.547704 330.976098 
L 236.085066 326.872202 
L 233.467382 322.656341 
L 230.685516 318.322234 
L 227.730355 313.863056 
L 224.592909 309.271373 
L 221.264522 304.539069 
L 217.737095 299.657258 
L 214.003341 294.616185 
L 210.056916 289.405105 
L 205.892721 284.012152 
L 201.507086 278.424169 
L 196.897857 272.626519 
L 192.064539 266.602854 
L 187.008397 260.334833 
L 181.732232 253.801791 
L 176.239951 246.980324 
L 170.536914 239.843782 
L 164.629289 232.361645 
L 158.523553 224.498731 
L 152.22639 216.214194 
L 145.744423 207.460244 
L 139.083725 198.180474 
L 132.250122 188.307654 
L 125.248983 177.760779 
L 118.085787 166.441019 
L 110.766738 154.226076 
L 103.300178 140.962115 
L 95.698605 126.451883 
L 87.982622 110.436665 
L 80.187146 92.567754 
L 72.373184 72.359175 
L 64.650222 49.104601 
L 57.222755 21.72 
" clip-path="url(#p07b7da3071)" style="fill: none; stroke-dasharray: 3.7,1.6; stroke-dashoffset: 0; stroke: #008000; stroke-opacity: 0.2"/>
    <path d="M 284.426782 385.089788 
L 283.778608 382.2097 
L 283.090261 379.274914 
L 282.358732 376.283313 
L 281.580747 373.232652 
L 280.75274 370.120554 
L 279.870813 366.944493 
L 278.930693 363.701785 
L 277.92779 360.389571 
L 276.857052 357.004807 
L 275.712901 353.544244 
L 274.489254 350.004409 
L 273.179539 346.381584 
L 271.776557 342.671784 
L 270.272473 338.870732 
L 268.658715 334.973823 
L 266.925952 330.976098 
L 265.064127 326.872202 
L 263.062373 322.656341 
L 260.908997 318.322234 
L 258.5915 313.863056 
L 256.096628 309.271373 
L 253.410457 304.539069 
L 250.518489 299.657258 
L 247.405929 294.616185 
L 244.057873 289.405105 
L 240.459642 284.012152 
L 236.597259 278.424169 
L 232.45796 272.626519 
L 228.03057 266.602854 
L 223.30618 260.334833 
L 218.278544 253.801791 
L 212.944453 246.980324 
L 207.304067 239.843782 
L 201.360619 232.361645 
L 195.120241 224.498731 
L 188.591743 216.214194 
L 181.785488 207.460244 
L 174.712853 198.180474 
L 167.38559 188.307654 
L 159.814739 177.760779 
L 152.010938 166.441019 
L 143.983865 154.226076 
L 135.743414 140.962115 
L 127.300886 126.451883 
L 118.672318 110.436665 
L 109.884004 92.567754 
L 100.982799 72.359175 
L 92.056474 49.104601 
L 83.276125 21.72 
" clip-path="url(#p07b7da3071)" style="fill: none; stroke-dasharray: 3.7,1.6; stroke-dashoffset: 0; stroke: #008000; stroke-opacity: 0.2"/>
    <path d="M 305.721444 385.089788 
L 305.375243 382.2097 
L 305.002365 379.274914 
L 304.600646 376.283313 
L 304.167715 373.232652 
L 303.70097 370.120554 
L 303.197543 366.944493 
L 302.654249 363.701785 
L 302.067662 360.389571 
L 301.433964 357.004807 
L 300.74886 353.544244 
L 300.007598 350.004409 
L 299.204985 346.381584 
L 298.335206 342.671784 
L 297.391912 338.870732 
L 296.367978 334.973823 
L 295.255336 330.976098 
L 294.045014 326.872202 
L 292.727175 322.656341 
L 291.290838 318.322234 
L 289.723736 313.863056 
L 288.012169 309.271373 
L 286.140944 304.539069 
L 284.093332 299.657258 
L 281.85086 294.616185 
L 279.393281 289.405105 
L 276.698617 284.012152 
L 273.743252 278.424169 
L 270.502157 272.626519 
L 266.949334 266.602854 
L 263.058348 260.334833 
L 258.803261 253.801791 
L 254.159805 246.980324 
L 249.106492 239.843782 
L 243.626211 232.361645 
L 237.707482 224.498731 
L 231.345574 216.214194 
L 224.542781 207.460244 
L 217.308416 198.180474 
L 209.657753 188.307654 
L 201.610092 177.760779 
L 193.187222 166.441019 
L 184.410933 154.226076 
L 175.302106 140.962115 
L 165.879997 126.451883 
L 156.163686 110.436665 
L 146.176089 92.567754 
L 135.952353 72.359175 
L 125.557487 49.104601 
L 115.124083 21.72 
" clip-path="url(#p07b7da3071)" style="fill: none; stroke-dasharray: 3.7,1.6; stroke-dashoffset: 0; stroke: #008000; stroke-opacity: 0.2"/>
    <path d="M 327.099986 385.089788 
L 327.024293 382.2097 
L 326.93408 379.274914 
L 326.828009 376.283313 
L 326.704603 373.232652 
L 326.56223 370.120554 
L 326.399081 366.944493 
L 326.213114 363.701785 
L 326.002154 360.389571 
L 325.763789 357.004807 
L 325.49523 353.544244 
L 325.193331 350.004409 
L 324.854609 346.381584 
L 324.475263 342.671784 
L 324.050917 338.870732 
L 323.576798 334.973823 
L 323.047429 330.976098 
L 322.456463 326.872202 
L 321.796726 322.656341 
L 321.060263 318.322234 
L 320.237985 313.863056 
L 319.319535 309.271373 
L 318.292949 304.539069 
L 317.144476 299.657258 
L 315.858563 294.616185 
L 314.417326 289.405105 
L 312.800183 284.012152 
L 310.983431 278.424169 
L 308.940133 272.626519 
L 306.63949 266.602854 
L 304.046478 260.334833 
L 301.121789 253.801791 
L 297.821709 246.980324 
L 294.098553 239.843782 
L 289.901538 232.361645 
L 285.178612 224.498731 
L 279.879008 216.214194 
L 273.956952 207.460244 
L 267.376052 198.180474 
L 260.113643 188.307654 
L 252.164104 177.760779 
L 243.540305 166.441019 
L 234.270977 154.226076 
L 224.397038 140.962115 
L 213.964459 126.451883 
L 203.018964 110.436665 
L 191.603072 92.567754 
L 179.758506 72.359175 
L 167.538365 49.104601 
L 155.038184 21.72 
" clip-path="url(#p07b7da3071)" style="fill: none; stroke-dasharray: 3.7,1.6; stroke-dashoffset: 0; stroke: #008000; stroke-opacity: 0.2"/>
    <path d="M 348.578284 385.089788 
L 348.736026 382.2097 
L 348.889395 379.274914 
L 349.037743 376.283313 
L 349.180344 373.232652 
L 349.316394 370.120554 
L 349.444983 366.944493 
L 349.565015 363.701785 
L 349.675384 360.389571 
L 349.774976 357.004807 
L 349.862387 353.544244 
L 349.935935 350.004409 
L 349.993685 346.381584 
L 350.033469 342.671784 
L 350.052915 338.870732 
L 350.049474 334.973823 
L 350.020178 330.976098 
L 349.961507 326.872202 
L 349.869548 322.656341 
L 349.739614 318.322234 
L 349.566301 313.863056 
L 349.343549 309.271373 
L 349.064253 304.539069 
L 348.720318 299.657258 
L 348.302047 294.616185 
L 347.797872 289.405105 
L 347.194484 284.012152 
L 346.476211 278.424169 
L 345.624441 272.626519 
L 344.616672 266.602854 
L 343.426269 260.334833 
L 342.021448 253.801791 
L 340.363811 246.980324 
L 338.407196 239.843782 
L 336.096424 232.361645 
L 333.365252 224.498731 
L 330.13527 216.214194 
L 326.314797 207.460244 
L 321.799274 198.180474 
L 316.474072 188.307654 
L 310.221044 177.760779 
L 302.930416 166.441019 
L 294.516977 154.226076 
L 284.938028 140.962115 
L 274.20516 126.451883 
L 262.383053 110.436665 
L 249.572714 92.567754 
L 235.887336 72.359175 
L 221.434335 49.104601 
L 206.320362 21.72 
" clip-path="url(#p07b7da3071)" style="fill: none; stroke-dasharray: 3.7,1.6; stroke-dashoffset: 0; stroke: #008000; stroke-opacity: 0.2"/>
    <path d="M 370.160487 385.089788 
L 370.513099 382.2097 
L 370.869332 379.274914 
L 371.229063 376.283313 
L 371.592142 373.232652 
L 371.958389 370.120554 
L 372.327582 366.944493 
L 372.699372 363.701785 
L 373.073435 360.389571 
L 373.449597 357.004807 
L 373.827505 353.544244 
L 374.206628 350.004409 
L 374.586285 346.381584 
L 374.965665 342.671784 
L 375.343855 338.870732 
L 375.719869 334.973823 
L 376.092682 330.976098 
L 376.461156 326.872202 
L 376.823586 322.656341 
L 377.178297 318.322234 
L 377.523115 313.863056 
L 377.855344 309.271373 
L 378.171842 304.539069 
L 378.469102 299.657258 
L 378.742847 294.616185 
L 378.988133 289.405105 
L 379.198868 284.012152 
L 379.367344 278.424169 
L 379.484426 272.626519 
L 379.539421 266.602854 
L 379.519 260.334833 
L 379.406596 253.801791 
L 379.181409 246.980324 
L 378.818016 239.843782 
L 378.284422 232.361645 
L 377.539412 224.498731 
L 376.531027 216.214194 
L 375.192379 207.460244 
L 373.436501 198.180474 
L 371.151073 188.307654 
L 368.189741 177.760779 
L 364.364291 166.441019 
L 359.436925 154.226076 
L 353.120322 140.962115 
L 345.095489 126.451883 
L 335.062268 110.436665 
L 322.825786 92.567754 
L 308.382894 72.359175 
L 291.936027 49.104601 
L 273.803206 21.72 
" clip-path="url(#p07b7da3071)" style="fill: none; stroke-dasharray: 3.7,1.6; stroke-dashoffset: 0; stroke: #008000; stroke-opacity: 0.2"/>
    <path d="M 391.842392 385.089788 
L 392.352786 382.2097 
L 392.872832 379.274914 
L 393.402783 376.283313 
L 393.942897 373.232652 
L 394.49344 370.120554 
L 395.054676 366.944493 
L 395.626816 363.701785 
L 396.210101 360.389571 
L 396.804954 357.004807 
L 397.411714 353.544244 
L 398.030638 350.004409 
L 398.66193 346.381584 
L 399.305757 342.671784 
L 399.962281 338.870732 
L 400.631684 334.973823 
L 401.314207 330.976098 
L 402.010159 326.872202 
L 402.719475 322.656341 
L 403.442371 318.322234 
L 404.178962 313.863056 
L 404.929058 309.271373 
L 405.692234 304.539069 
L 406.467923 299.657258 
L 407.255512 294.616185 
L 408.0544 289.405105 
L 408.863312 284.012152 
L 409.68091 278.424169 
L 410.505023 272.626519 
L 411.332566 266.602854 
L 412.159817 260.334833 
L 412.982175 253.801791 
L 413.793564 246.980324 
L 414.585768 239.843782 
L 415.347352 232.361645 
L 416.064114 224.498731 
L 416.7171 216.214194 
L 417.280214 207.460244 
L 417.717846 198.180474 
L 417.981903 188.307654 
L 418.004042 177.760779 
L 417.68813 166.441019 
L 416.895171 154.226076 
L 415.421466 140.962115 
L 412.963582 126.451883 
L 409.067182 110.436665 
L 403.060444 92.567754 
L 394.010353 72.359175 
L 380.832935 49.104601 
L 362.764521 21.72 
" clip-path="url(#p07b7da3071)" style="fill: none; stroke-dasharray: 3.7,1.6; stroke-dashoffset: 0; stroke: #008000; stroke-opacity: 0.2"/>
    <path d="M 413.614842 385.089788 
L 414.249217 382.2097 
L 414.897641 379.274914 
L 415.560623 376.283313 
L 416.238702 373.232652 
L 416.932445 370.120554 
L 417.642447 366.944493 
L 418.369295 363.701785 
L 419.113611 360.389571 
L 419.876219 357.004807 
L 420.657915 353.544244 
L 421.459479 350.004409 
L 422.281694 346.381584 
L 423.125367 342.671784 
L 423.991363 338.870732 
L 424.880626 334.973823 
L 425.794217 330.976098 
L 426.733353 326.872202 
L 427.699109 322.656341 
L 428.692746 318.322234 
L 429.715795 313.863056 
L 430.76966 309.271373 
L 431.855697 304.539069 
L 432.975297 299.657258 
L 434.129984 294.616185 
L 435.321541 289.405105 
L 436.551971 284.012152 
L 437.82256 278.424169 
L 439.136317 272.626519 
L 440.495818 266.602854 
L 441.902866 260.334833 
L 443.358829 253.801791 
L 444.865051 246.980324 
L 446.423357 239.843782 
L 448.036587 232.361645 
L 449.706075 224.498731 
L 451.431725 216.214194 
L 453.212702 207.460244 
L 455.046251 198.180474 
L 456.926368 188.307654 
L 458.843211 177.760779 
L 460.777767 166.441019 
L 462.700122 154.226076 
L 464.559969 140.962115 
L 466 128.756343 
M 466 47.594716 
L 460.498177 21.72 
" clip-path="url(#p07b7da3071)" style="fill: none; stroke-dasharray: 3.7,1.6; stroke-dashoffset: 0; stroke: #008000; stroke-opacity: 0.2"/>
    <path d="M 435.466467 385.089788 
L 436.195152 382.2097 
L 436.940994 379.274914 
L 437.704677 376.283313 
L 438.486925 373.232652 
L 439.288505 370.120554 
L 440.110228 366.944493 
L 440.952938 363.701785 
L 441.817532 360.389571 
L 442.705056 357.004807 
L 443.616579 353.544244 
L 444.553202 350.004409 
L 445.516078 346.381584 
L 446.506437 342.671784 
L 447.52561 338.870732 
L 448.575061 334.973823 
L 449.65642 330.976098 
L 450.771343 326.872202 
L 451.921673 322.656341 
L 453.109465 318.322234 
L 454.336831 313.863056 
L 455.606004 309.271373 
L 456.919413 304.539069 
L 458.279769 299.657258 
L 459.690154 294.616185 
L 461.153747 289.405105 
L 462.674276 284.012152 
L 464.255721 278.424169 
L 465.902262 272.626519 
L 466 272.283481 
" clip-path="url(#p07b7da3071)" style="fill: none; stroke-dasharray: 3.7,1.6; stroke-dashoffset: 0; stroke: #008000; stroke-opacity: 0.2"/>
    <path d="M 457.385548 385.089788 
L 458.183165 382.2097 
L 459.000074 379.274914 
L 459.837069 376.283313 
L 460.694994 373.232652 
L 461.574745 370.120554 
L 462.477274 366.944493 
L 463.403579 363.701785 
L 464.354722 360.389571 
L 465.331912 357.004807 
L 466 354.703183 
" clip-path="url(#p07b7da3071)" style="fill: none; stroke-dasharray: 3.7,1.6; stroke-dashoffset: 0; stroke: #008000; stroke-opacity: 0.2"/>
   </g>
   <g id="matplotlib.axis_1">
    <g id="xtick_1">
     <g id="line2d_35">
      <defs>
       <path id="m1504cfccaf" d="M 0 0 
L 0 3.5 
" style="stroke: #000000; stroke-width: 0.8"/>
      </defs>
      <g>
       <use href="#m1504cfccaf" x="54.3" y="385.5" style="stroke: #000000; stroke-width: 0.8"/>
      </g>
     </g>
     <g id="text_1">
      <!-- −40 -->
      <g transform="translate(43.747656 400.098438) scale(0.1 -0.1)">
       <defs>
        <path id="DejaVuSans-2212" d="M 678 2272 
L 4684 2272 
L 4684 1741 
L 678 1741 
L 678 2272 
z
" transform="scale(0.015625)"/>
        <path id="DejaVuSans-34" d="M 2419 4116 
L 825 1625 
L 2419 1625 
L 2419 4116 
z
M 2253 4666 
L 3047 4666 
L 3047 1625 
L 3713 1625 
L 3713 1100 
L 3047 1100 
L 3047 0 
L 2419 0 
L 2419 1100 
L 313 1100 
L 313 1709 
L 2253 4666 
z
" transform="scale(0.015625)"/>
        <path id="DejaVuSans-30" d="M 2034 4250 
Q 1547 4250 1301 3770 
Q 1056 3291 1056 2328 
Q 1056 1369 1301 889 
Q 1547 409 2034 409 
Q 2525 409 2770 889 
Q 3016 1369 3016 2328 
Q 3016 3291 2770 3770 
Q 2525 4250 2034 4250 
z
M 2034 4750 
Q 2819 4750 3233 4129 
Q 3647 3509 3647 2328 
Q 3647 1150 3233 529 
Q 2819 -91 2034 -91 
Q 1250 -91 836 529 
Q 422 1150 422 2328 
Q 422 3509 836 4129 
Q 1250 4750 2034 4750 
z
" transform="scale(0.015625)"/>
       </defs>
       <use href="#DejaVuSans-2212"/>
       <use href="#DejaVuSans-34" transform="translate(83.789062 0)"/>
       <use href="#DejaVuSans-30" transform="translate(147.412109 0)"/>
      </g>
     </g>
    </g>
    <g id="xtick_2">
     <g id="line2d_36">
      <g>
       <use href="#m1504cfccaf" x="98.7" y="385.5" style="stroke: #000000; stroke-width: 0.8"/>
      </g>
     </g>
     <g id="text_2">
      <!-- −30 -->
      <g transform="translate(88.147656 400.098438) scale(0.1 -0.1)">
       <defs>
        <path id="DejaVuSans-33" d="M 2597 2516 
Q 3050 2419 3304 2112 
Q 3559 1806 3559 1356 
Q 3559 666 3084 287 
Q 2609 -91 1734 -91 
Q 1441 -91 1130 -33 
Q 819 25 488 141 
L 488 750 
Q 750 597 1062 519 
Q 1375 441 1716 441 
Q 2309 441 2620 675 
Q 2931 909 2931 1356 
Q 2931 1769 2642 2001 
Q 2353 2234 1838 2234 
L 1294 2234 
L 1294 2753 
L 1863 2753 
Q 2328 2753 2575 2939 
Q 2822 3125 2822 3475 
Q 2822 3834 2567 4026 
Q 2313 4219 1838 4219 
Q 1578 4219 1281 4162 
Q 984 4106 628 3988 
L 628 4550 
Q 988 4650 1302 4700 
Q 1616 4750 1894 4750 
Q 2613 4750 3031 4423 
Q 3450 4097 3450 3541 
Q 3450 3153 3228 2886 
Q 3006 2619 2597 2516 
z
" transform="scale(0.015625)"/>
       </defs>
       <use href="#DejaVuSans-2212"/>
       <use href="#DejaVuSans-33" transform="translate(83.789062 0)"/>
       <use href="#DejaVuSans-30" transform="translate(147.412109 0)"/>
      </g>
     </g>
    </g>
    <g id="xtick_3">
     <g id="line2d_37">
      <g>
       <use href="#m1504cfccaf" x="143.1" y="385.5" style="stroke: #000000; stroke-width: 0.8"/>
      </g>
     </g>
     <g id="text_3">
      <!-- −20 -->
      <g transform="translate(132.547656 400.098438) scale(0.1 -0.1)">
       <defs>
        <path id="DejaVuSans-32" d="M 1228 531 
L 3431 531 
L 3431 0 
L 469 0 
L 469 531 
Q 828 903 1448 1529 
Q 2069 2156 2228 2338 
Q 2531 2678 2651 2914 
Q 2772 3150 2772 3378 
Q 2772 3750 2511 3984 
Q 2250 4219 1831 4219 
Q 1534 4219 1204 4116 
Q 875 4013 500 3803 
L 500 4441 
Q 881 4594 1212 4672 
Q 1544 4750 1819 4750 
Q 2544 4750 2975 4387 
Q 3406 4025 3406 3419 
Q 3406 3131 3298 2873 
Q 3191 2616 2906 2266 
Q 2828 2175 2409 1742 
Q 1991 1309 1228 531 
z
" transform="scale(0.015625)"/>
       </defs>
       <use href="#DejaVuSans-2212"/>
       <use href="#DejaVuSans-32" transform="translate(83.789062 0)"/>
       <use href="#DejaVuSans-30" transform="translate(147.412109 0)"/>
      </g>
     </g>
    </g>
    <g id="xtick_4">
     <g id="line2d_38">
      <g>
       <use href="#m1504cfccaf" x="186.9" y="385.5" style="stroke: #000000; stroke-width: 0.8"/>
      </g>
     </g>
     <g id="text_4">
      <!-- −10 -->
      <g transform="translate(176.347656 400.098438) scale(0.1 -0.1)">
       <defs>
        <path id="DejaVuSans-31" d="M 794 531 
L 1825 531 
L 1825 4091 
L 703 3866 
L 703 4441 
L 1819 4666 
L 2450 4666 
L 2450 531 
L 3481 531 
L 3481 0 
L 794 0 
L 794 531 
z
" transform="scale(0.015625)"/>
       </defs>
       <use href="#DejaVuSans-2212"/>
       <use href="#DejaVuSans-31" transform="translate(83.789062 0)"/>
       <use href="#DejaVuSans-30" transform="translate(147.412109 0)"/>
      </g>
     </g>
    </g>
    <g id="xtick_5">
     <g id="line2d_39">
      <g>
       <use href="#m1504cfccaf" x="231.3" y="385.5" style="stroke: #000000; stroke-width: 0.8"/>
      </g>
     </g>
     <g id="text_5">
      <!-- 0 -->
      <g transform="translate(228.11875 400.098438) scale(0.1 -0.1)">
       <use href="#DejaVuSans-30"/>
      </g>
     </g>
    </g>
    <g id="xtick_6">
     <g id="line2d_40">
      <g>
       <use href="#m1504cfccaf" x="275.7" y="385.5" style="stroke: #000000; stroke-width: 0.8"/>
      </g>
     </g>
     <g id="text_6">
      <!-- 10 -->
      <g transform="translate(269.3375 400.098438) scale(0.1 -0.1)">
       <use href="#DejaVuSans-31"/>
       <use href="#DejaVuSans-30" transform="translate(63.623047 0)"/>
      </g>
     </g>
    </g>
    <g id="xtick_7">
     <g id="line2d_41">
      <g>
       <use href="#m1504cfccaf" x="319.5" y="385.5" style="stroke: #000000; stroke-width: 0.8"/>
      </g>
     </g>
     <g id="text_7">
      <!-- 20 -->
      <g transform="translate(313.1375 400.098438) scale(0.1 -0.1)">
       <use href="#DejaVuSans-32"/>
       <use href="#DejaVuSans-30" transform="translate(63.623047 0)"/>
      </g>
     </g>
    </g>
    <g id="xtick_8">
     <g id="line2d_42">
      <g>
       <use href="#m1504cfccaf" x="363.9" y="385.5" style="stroke: #000000; stroke-width: 0.8"/>
      </g>
     </g>
     <g id="text_8">
      <!-- 30 -->
      <g transform="translate(357.5375 400.098438) scale(0.1 -0.1)">
       <use href="#DejaVuSans-33"/>
       <use href="#DejaVuSans-30" transform="translate(63.623047 0)"/>
      </g>
     </g>
    </g>
    <g id="xtick_9">
     <g id="line2d_43">
      <g>
       <use href="#m1504cfccaf" x="408.3" y="385.5" style="stroke: #000000; stroke-width: 0.8"/>
      </g>
     </g>
     <g id="text_9">
      <!-- 40 -->
      <g transform="translate(401.9375 400.098438) scale(0.1 -0.1)">
       <use href="#DejaVuSans-34"/>
       <use href="#DejaVuSans-30" transform="translate(63.623047 0)"/>
      </g>
     </g>
    </g>
    <g id="xtick_10">
     <g id="line2d_44">
      <g>
       <use href="#m1504cfccaf" x="452.1" y="385.5" style="stroke: #000000; stroke-width: 0.8"/>
      </g>
     </g>
     <g id="text_10">
      <!-- 50 -->
      <g transform="translate(445.7375 400.098438) scale(0.1 -0.1)">
       <defs>
        <path id="DejaVuSans-35" d="M 691 4666 
L 3169 4666 
L 3169 4134 
L 1269 4134 
L 1269 2991 
Q 1406 3038 1543 3061 
Q 1681 3084 1819 3084 
Q 2600 3084 3056 2656 
Q 3513 2228 3513 1497 
Q 3513 744 3044 326 
Q 2575 -91 1722 -91 
Q 1428 -91 1123 -41 
Q 819 9 494 109 
L 494 744 
Q 775 591 1075 516 
Q 1375 441 1709 441 
Q 2250 441 2565 725 
Q 2881 1009 2881 1497 
Q 2881 1984 2565 2268 
Q 2250 2553 1709 2553 
Q 1456 2553 1204 2497 
Q 953 2441 691 2322 
L 691 4666 
z
" transform="scale(0.015625)"/>
       </defs>
       <use href="#DejaVuSans-35"/>
       <use href="#DejaVuSans-30" transform="translate(63.623047 0)"/>
      </g>
     </g>
    </g>
    <g id="text_11">
     <!-- Temperature (°C) -->
     <g transform="translate(210.048437 415.876563) scale(0.1 -0.1)">
      <defs>
       <path id="DejaVuSans-54" d="M -19 4666 
L 3928 4666 
L 3928 4134 
L 2272 4134 
L 2272 0 
L 1638 0 
L 1638 4134 
L -19 4134 
L -19 4666 
z
" transform="scale(0.015625)"/>
       <path id="DejaVuSans-65" d="M 3597 1894 
L 3597 1613 
L 953 1613 
Q 991 1019 1311 708 
Q 1631 397 2203 397 
Q 2534 397 2845 478 
Q 3156 559 3463 722 
L 3463 178 
Q 3153 47 2828 -22 
Q 2503 -91 2169 -91 
Q 1331 -91 842 396 
Q 353 884 353 1716 
Q 353 2575 817 3079 
Q 1281 3584 2069 3584 
Q 2775 3584 3186 3129 
Q 3597 2675 3597 1894 
z
M 3022 2063 
Q 3016 2534 2758 2815 
Q 2500 3097 2075 3097 
Q 1594 3097 1305 2825 
Q 1016 2553 972 2059 
L 3022 2063 
z
" transform="scale(0.015625)"/>
       <path id="DejaVuSans-6d" d="M 3328 2828 
Q 3544 3216 3844 3400 
Q 4144 3584 4550 3584 
Q 5097 3584 5394 3201 
Q 5691 2819 5691 2113 
L 5691 0 
L 5113 0 
L 5113 2094 
Q 5113 2597 4934 2840 
Q 4756 3084 4391 3084 
Q 3944 3084 3684 2787 
Q 3425 2491 3425 1978 
L 3425 0 
L 2847 0 
L 2847 2094 
Q 2847 2600 2669 2842 
Q 2491 3084 2119 3084 
Q 1678 3084 1418 2786 
Q 1159 2488 1159 1978 
L 1159 0 
L 581 0 
L 581 3500 
L 1159 3500 
L 1159 2956 
Q 1356 3278 1631 3431 
Q 1906 3584 2284 3584 
Q 2666 3584 2933 3390 
Q 3200 3197 3328 2828 
z
" transform="scale(0.015625)"/>
       <path id="DejaVuSans-70" d="M 1159 525 
L 1159 -1331 
L 581 -1331 
L 581 3500 
L 1159 3500 
L 1159 2969 
Q 1341 3281 1617 3432 
Q 1894 3584 2278 3584 
Q 2916 3584 3314 3078 
Q 3713 2572 3713 1747 
Q 3713 922 3314 415 
Q 2916 -91 2278 -91 
Q 1894 -91 1617 61 
Q 1341 213 1159 525 
z
M 3116 1747 
Q 3116 2381 2855 2742 
Q 2594 3103 2138 3103 
Q 1681 3103 1420 2742 
Q 1159 2381 1159 1747 
Q 1159 1113 1420 752 
Q 1681 391 2138 391 
Q 2594 391 2855 752 
Q 3116 1113 3116 1747 
z
" transform="scale(0.015625)"/>
       <path id="DejaVuSans-72" d="M 2631 2963 
Q 2534 3019 2420 3045 
Q 2306 3072 2169 3072 
Q 1681 3072 1420 2755 
Q 1159 2438 1159 1844 
L 1159 0 
L 581 0 
L 581 3500 
L 1159 3500 
L 1159 2956 
Q 1341 3275 1631 3429 
Q 1922 3584 2338 3584 
Q 2397 3584 2469 3576 
Q 2541 3569 2628 3553 
L 2631 2963 
z
" transform="scale(0.015625)"/>
       <path id="DejaVuSans-61" d="M 2194 1759 
Q 1497 1759 1228 1600 
Q 959 1441 959 1056 
Q 959 750 1161 570 
Q 1363 391 1709 391 
Q 2188 391 2477 730 
Q 2766 1069 2766 1631 
L 2766 1759 
L 2194 1759 
z
M 3341 1997 
L 3341 0 
L 2766 0 
L 2766 531 
Q 2569 213 2275 61 
Q 1981 -91 1556 -91 
Q 1019 -91 701 211 
Q 384 513 384 1019 
Q 384 1609 779 1909 
Q 1175 2209 1959 2209 
L 2766 2209 
L 2766 2266 
Q 2766 2663 2505 2880 
Q 2244 3097 1772 3097 
Q 1472 3097 1187 3025 
Q 903 2953 641 2809 
L 641 3341 
Q 956 3463 1253 3523 
Q 1550 3584 1831 3584 
Q 2591 3584 2966 3190 
Q 3341 2797 3341 1997 
z
" transform="scale(0.015625)"/>
       <path id="DejaVuSans-74" d="M 1172 4494 
L 1172 3500 
L 2356 3500 
L 2356 3053 
L 1172 3053 
L 1172 1153 
Q 1172 725 1289 603 
Q 1406 481 1766 481 
L 2356 481 
L 2356 0 
L 1766 0 
Q 1100 0 847 248 
Q 594 497 594 1153 
L 594 3053 
L 172 3053 
L 172 3500 
L 594 3500 
L 594 4494 
L 1172 4494 
z
" transform="scale(0.015625)"/>
       <path id="DejaVuSans-75" d="M 544 1381 
L 544 3500 
L 1119 3500 
L 1119 1403 
Q 1119 906 1312 657 
Q 1506 409 1894 409 
Q 2359 409 2629 706 
Q 2900 1003 2900 1516 
L 2900 3500 
L 3475 3500 
L 3475 0 
L 2900 0 
L 2900 538 
Q 2691 219 2414 64 
Q 2138 -91 1772 -91 
Q 1169 -91 856 284 
Q 544 659 544 1381 
z
M 1991 3584 
L 1991 3584 
z
" transform="scale(0.015625)"/>
       <path id="DejaVuSans-20" transform="scale(0.015625)"/>
       <path id="DejaVuSans-28" d="M 1984 4856 
Q 1566 4138 1362 3434 
Q 1159 2731 1159 2009 
Q 1159 1288 1364 580 
Q 1569 -128 1984 -844 
L 1484 -844 
Q 1016 -109 783 600 
Q 550 1309 550 2009 
Q 550 2706 781 3412 
Q 1013 4119 1484 4856 
L 1984 4856 
z
" transform="scale(0.015625)"/>
       <path id="DejaVuSans-b0" d="M 1600 4347 
Q 1350 4347 1178 4173 
Q 1006 4000 1006 3750 
Q 1006 3503 1178 3333 
Q 1350 3163 1600 3163 
Q 1850 3163 2022 3333 
Q 2194 3503 2194 3750 
Q 2194 3997 2020 4172 
Q 1847 4347 1600 4347 
z
M 1600 4750 
Q 1800 4750 1984 4673 
Q 2169 4597 2303 4453 
Q 2447 4313 2519 4134 
Q 2591 3956 2591 3750 
Q 2591 3338 2302 3052 
Q 2013 2766 1594 2766 
Q 1172 2766 890 3047 
Q 609 3328 609 3750 
Q 609 4169 896 4459 
Q 1184 4750 1600 4750 
z
" transform="scale(0.015625)"/>
       <path id="DejaVuSans-43" d="M 4122 4306 
L 4122 3641 
Q 3803 3938 3442 4084 
Q 3081 4231 2675 4231 
Q 1875 4231 1450 3742 
Q 1025 3253 1025 2328 
Q 1025 1406 1450 917 
Q 1875 428 2675 428 
Q 3081 428 3442 575 
Q 3803 722 4122 1019 
L 4122 359 
Q 3791 134 3420 21 
Q 3050 -91 2638 -91 
Q 1578 -91 968 557 
Q 359 1206 359 2328 
Q 359 3453 968 4101 
Q 1578 4750 2638 4750 
Q 3056 4750 3426 4639 
Q 3797 4528 4122 4306 
z
" transform="scale(0.015625)"/>
       <path id="DejaVuSans-29" d="M 513 4856 
L 1013 4856 
Q 1481 4119 1714 3412 
Q 1947 2706 1947 2009 
Q 1947 1309 1714 600 
Q 1481 -109 1013 -844 
L 513 -844 
Q 928 -128 1133 580 
Q 1338 1288 1338 2009 
Q 1338 2731 1133 3434 
Q 928 4138 513 4856 
z
" transform="scale(0.015625)"/>
      </defs>
      <use href="#DejaVuSans-54"/>
      <use href="#DejaVuSans-65" transform="translate(44.083984 0)"/>
      <use href="#DejaVuSans-6d" transform="translate(105.607422 0)"/>
      <use href="#DejaVuSans-70" transform="translate(203.019531 0)"/>
      <use href="#DejaVuSans-65" transform="translate(266.496094 0)"/>
      <use href="#DejaVuSans-72" transform="translate(328.019531 0)"/>
      <use href="#DejaVuSans-61" transform="translate(369.132812 0)"/>
      <use href="#DejaVuSans-74" transform="translate(430.412109 0)"/>
      <use href="#DejaVuSans-75" transform="translate(469.621094 0)"/>
      <use href="#DejaVuSans-72" transform="translate(533 0)"/>
      <use href="#DejaVuSans-65" transform="translate(571.863281 0)"/>
      <use href="#DejaVuSans-20" transform="translate(633.386719 0)"/>
      <use href="#DejaVuSans-28" transform="translate(665.173828 0)"/>
      <use href="#DejaVuSans-b0" transform="translate(704.1875 0)"/>
      <use href="#DejaVuSans-43" transform="translate(754.1875 0)"/>
      <use href="#DejaVuSans-29" transform="translate(824.011719 0)"/>
     </g>
    </g>
   </g>
   <g id="matplotlib.axis_2">
    <g id="ytick_1">
     <g id="line2d_45">
      <defs>
       <path id="m5d545ce8f8" d="M 0 0 
L -3.5 0 
" style="stroke: #000000; stroke-width: 0.8"/>
      </defs>
      <g>
       <use href="#m5d545ce8f8" x="54.3" y="21.9" style="stroke: #000000; stroke-width: 0.8"/>
      </g>
     </g>
     <g id="text_12">
      <!-- 100 -->
      <g transform="translate(28.2125 25.699219) scale(0.1 -0.1)">
       <use href="#DejaVuSans-31"/>
       <use href="#DejaVuSans-30" transform="translate(63.623047 0)"/>
       <use href="#DejaVuSans-30" transform="translate(127.246094 0)"/>
      </g>
     </g>
    </g>
    <g id="ytick_2">
     <g id="line2d_46">
      <g>
       <use href="#m5d545ce8f8" x="54.3" y="129.3" style="stroke: #000000; stroke-width: 0.8"/>
      </g>
     </g>
     <g id="text_13">
      <!-- 200 -->
      <g transform="translate(28.2125 133.099219) scale(0.1 -0.1)">
       <use href="#DejaVuSans-32"/>
       <use href="#DejaVuSans-30" transform="translate(63.623047 0)"/>
       <use href="#DejaVuSans-30" transform="translate(127.246094 0)"/>
      </g>
     </g>
    </g>
    <g id="ytick_3">
     <g id="line2d_47">
      <g>
       <use href="#m5d545ce8f8" x="54.3" y="191.7" style="stroke: #000000; stroke-width: 0.8"/>
      </g>
     </g>
     <g id="text_14">
      <!-- 300 -->
      <g transform="translate(28.2125 195.499219) scale(0.1 -0.1)">
       <use href="#DejaVuSans-33"/>
       <use href="#DejaVuSans-30" transform="translate(63.623047 0)"/>
       <use href="#DejaVuSans-30" transform="translate(127.246094 0)"/>
      </g>
     </g>
    </g>
    <g id="ytick_4">
     <g id="line2d_48">
      <g>
       <use href="#m5d545ce8f8" x="54.3" y="236.1" style="stroke: #000000; stroke-width: 0.8"/>
      </g>
     </g>
     <g id="text_15">
      <!-- 400 -->
      <g transform="translate(28.2125 239.899219) scale(0.1 -0.1)">
       <use href="#DejaVuSans-34"/>
       <use href="#DejaVuSans-30" transform="translate(63.623047 0)"/>
       <use href="#DejaVuSans-30" transform="translate(127.246094 0)"/>
      </g>
     </g>
    </g>
    <g id="ytick_5">
     <g id="line2d_49">
      <g>
       <use href="#m5d545ce8f8" x="54.3" y="270.9" style="stroke: #000000; stroke-width: 0.8"/>
      </g>
     </g>
     <g id="text_16">
      <!-- 500 -->
      <g transform="translate(28.2125 274.699219) scale(0.1 -0.1)">
       <use href="#DejaVuSans-35"/>
       <use href="#DejaVuSans-30" transform="translate(63.623047 0)"/>
       <use href="#DejaVuSans-30" transform="translate(127.246094 0)"/>
      </g>
     </g>
    </g>
    <g id="ytick_6">
     <g id="line2d_50">
      <g>
       <use href="#m5d545ce8f8" x="54.3" y="299.1" style="stroke: #000000; stroke-width: 0.8"/>
      </g>
     </g>
     <g id="text_17">
      <!-- 600 -->
      <g transform="translate(28.2125 302.899219) scale(0.1 -0.1)">
       <defs>
        <path id="DejaVuSans-36" d="M 2113 2584 
Q 1688 2584 1439 2293 
Q 1191 2003 1191 1497 
Q 1191 994 1439 701 
Q 1688 409 2113 409 
Q 2538 409 2786 701 
Q 3034 994 3034 1497 
Q 3034 2003 2786 2293 
Q 2538 2584 2113 2584 
z
M 3366 4563 
L 3366 3988 
Q 3128 4100 2886 4159 
Q 2644 4219 2406 4219 
Q 1781 4219 1451 3797 
Q 1122 3375 1075 2522 
Q 1259 2794 1537 2939 
Q 1816 3084 2150 3084 
Q 2853 3084 3261 2657 
Q 3669 2231 3669 1497 
Q 3669 778 3244 343 
Q 2819 -91 2113 -91 
Q 1303 -91 875 529 
Q 447 1150 447 2328 
Q 447 3434 972 4092 
Q 1497 4750 2381 4750 
Q 2619 4750 2861 4703 
Q 3103 4656 3366 4563 
z
" transform="scale(0.015625)"/>
       </defs>
       <use href="#DejaVuSans-36"/>
       <use href="#DejaVuSans-30" transform="translate(63.623047 0)"/>
       <use href="#DejaVuSans-30" transform="translate(127.246094 0)"/>
      </g>
     </g>
    </g>
    <g id="ytick_7">
     <g id="line2d_51">
      <g>
       <use href="#m5d545ce8f8" x="54.3" y="322.5" style="stroke: #000000; stroke-width: 0.8"/>
      </g>
     </g>
     <g id="text_18">
      <!-- 700 -->
      <g transform="translate(28.2125 326.299219) scale(0.1 -0.1)">
       <defs>
        <path id="DejaVuSans-37" d="M 525 4666 
L 3525 4666 
L 3525 4397 
L 1831 0 
L 1172 0 
L 2766 4134 
L 525 4134 
L 525 4666 
z
" transform="scale(0.015625)"/>
       </defs>
       <use href="#DejaVuSans-37"/>
       <use href="#DejaVuSans-30" transform="translate(63.623047 0)"/>
       <use href="#DejaVuSans-30" transform="translate(127.246094 0)"/>
      </g>
     </g>
    </g>
    <g id="ytick_8">
     <g id="line2d_52">
      <g>
       <use href="#m5d545ce8f8" x="54.3" y="343.5" style="stroke: #000000; stroke-width: 0.8"/>
      </g>
     </g>
     <g id="text_19">
      <!-- 800 -->
      <g transform="translate(28.2125 347.299219) scale(0.1 -0.1)">
       <defs>
        <path id="DejaVuSans-38" d="M 2034 2216 
Q 1584 2216 1326 1975 
Q 1069 1734 1069 1313 
Q 1069 891 1326 650 
Q 1584 409 2034 409 
Q 2484 409 2743 651 
Q 3003 894 3003 1313 
Q 3003 1734 2745 1975 
Q 2488 2216 2034 2216 
z
M 1403 2484 
Q 997 2584 770 2862 
Q 544 3141 544 3541 
Q 544 4100 942 4425 
Q 1341 4750 2034 4750 
Q 2731 4750 3128 4425 
Q 3525 4100 3525 3541 
Q 3525 3141 3298 2862 
Q 3072 2584 2669 2484 
Q 3125 2378 3379 2068 
Q 3634 1759 3634 1313 
Q 3634 634 3220 271 
Q 2806 -91 2034 -91 
Q 1263 -91 848 271 
Q 434 634 434 1313 
Q 434 1759 690 2068 
Q 947 2378 1403 2484 
z
M 1172 3481 
Q 1172 3119 1398 2916 
Q 1625 2713 2034 2713 
Q 2441 2713 2670 2916 
Q 2900 3119 2900 3481 
Q 2900 3844 2670 4047 
Q 2441 4250 2034 4250 
Q 1625 4250 1398 4047 
Q 1172 3844 1172 3481 
z
" transform="scale(0.015625)"/>
       </defs>
       <use href="#DejaVuSans-38"/>
       <use href="#DejaVuSans-30" transform="translate(63.623047 0)"/>
       <use href="#DejaVuSans-30" transform="translate(127.246094 0)"/>
      </g>
     </g>
    </g>
    <g id="ytick_9">
     <g id="line2d_53">
      <g>
       <use href="#m5d545ce8f8" x="54.3" y="361.5" style="stroke: #000000; stroke-width: 0.8"/>
      </g>
     </g>
     <g id="text_20">
      <!-- 900 -->
      <g transform="translate(28.2125 365.299219) scale(0.1 -0.1)">
       <defs>
        <path id="DejaVuSans-39" d="M 703 97 
L 703 672 
Q 941 559 1184 500 
Q 1428 441 1663 441 
Q 2288 441 2617 861 
Q 2947 1281 2994 2138 
Q 2813 1869 2534 1725 
Q 2256 1581 1919 1581 
Q 1219 1581 811 2004 
Q 403 2428 403 3163 
Q 403 3881 828 4315 
Q 1253 4750 1959 4750 
Q 2769 4750 3195 4129 
Q 3622 3509 3622 2328 
Q 3622 1225 3098 567 
Q 2575 -91 1691 -91 
Q 1453 -91 1209 -44 
Q 966 3 703 97 
z
M 1959 2075 
Q 2384 2075 2632 2365 
Q 2881 2656 2881 3163 
Q 2881 3666 2632 3958 
Q 2384 4250 1959 4250 
Q 1534 4250 1286 3958 
Q 1038 3666 1038 3163 
Q 1038 2656 1286 2365 
Q 1534 2075 1959 2075 
z
" transform="scale(0.015625)"/>
       </defs>
       <use href="#DejaVuSans-39"/>
       <use href="#DejaVuSans-30" transform="translate(63.623047 0)"/>
       <use href="#DejaVuSans-30" transform="translate(127.246094 0)"/>
      </g>
     </g>
    </g>
    <g id="ytick_10">
     <g id="line2d_54">
      <g>
       <use href="#m5d545ce8f8" x="54.3" y="377.7" style="stroke: #000000; stroke-width: 0.8"/>
      </g>
     </g>
     <g id="text_21">
      <!-- 1000 -->
      <g transform="translate(21.85 381.499219) scale(0.1 -0.1)">
       <use href="#DejaVuSans-31"/>
       <use href="#DejaVuSans-30" transform="translate(63.623047 0)"/>
       <use href="#DejaVuSans-30" transform="translate(127.246094 0)"/>
       <use href="#DejaVuSans-30" transform="translate(190.869141 0)"/>
      </g>
     </g>
    </g>
    <g id="text_22">
     <!-- Pressure (hPa) -->
     <g transform="translate(14.570312 239.557812) rotate(-90) scale(0.1 -0.1)">
      <defs>
       <path id="DejaVuSans-50" d="M 1259 4147 
L 1259 2394 
L 2053 2394 
Q 2494 2394 2734 2622 
Q 2975 2850 2975 3272 
Q 2975 3691 2734 3919 
Q 2494 4147 2053 4147 
L 1259 4147 
z
M 628 4666 
L 2053 4666 
Q 2838 4666 3239 4311 
Q 3641 3956 3641 3272 
Q 3641 2581 3239 2228 
Q 2838 1875 2053 1875 
L 1259 1875 
L 1259 0 
L 628 0 
L 628 4666 
z
" transform="scale(0.015625)"/>
       <path id="DejaVuSans-73" d="M 2834 3397 
L 2834 2853 
Q 2591 2978 2328 3040 
Q 2066 3103 1784 3103 
Q 1356 3103 1142 2972 
Q 928 2841 928 2578 
Q 928 2378 1081 2264 
Q 1234 2150 1697 2047 
L 1894 2003 
Q 2506 1872 2764 1633 
Q 3022 1394 3022 966 
Q 3022 478 2636 193 
Q 2250 -91 1575 -91 
Q 1294 -91 989 -36 
Q 684 19 347 128 
L 347 722 
Q 666 556 975 473 
Q 1284 391 1588 391 
Q 1994 391 2212 530 
Q 2431 669 2431 922 
Q 2431 1156 2273 1281 
Q 2116 1406 1581 1522 
L 1381 1569 
Q 847 1681 609 1914 
Q 372 2147 372 2553 
Q 372 3047 722 3315 
Q 1072 3584 1716 3584 
Q 2034 3584 2315 3537 
Q 2597 3491 2834 3397 
z
" transform="scale(0.015625)"/>
       <path id="DejaVuSans-68" d="M 3513 2113 
L 3513 0 
L 2938 0 
L 2938 2094 
Q 2938 2591 2744 2837 
Q 2550 3084 2163 3084 
Q 1697 3084 1428 2787 
Q 1159 2491 1159 1978 
L 1159 0 
L 581 0 
L 581 4863 
L 1159 4863 
L 1159 2956 
Q 1366 3272 1645 3428 
Q 1925 3584 2291 3584 
Q 2894 3584 3203 3211 
Q 3513 2838 3513 2113 
z
" transform="scale(0.015625)"/>
      </defs>
      <use href="#DejaVuSans-50"/>
      <use href="#DejaVuSans-72" transform="translate(58.552734 0)"/>
      <use href="#DejaVuSans-65" transform="translate(97.416016 0)"/>
      <use href="#DejaVuSans-73" transform="translate(158.939453 0)"/>
      <use href="#DejaVuSans-73" transform="translate(211.039062 0)"/>
      <use href="#DejaVuSans-75" transform="translate(263.138672 0)"/>
      <use href="#DejaVuSans-72" transform="translate(326.517578 0)"/>
      <use href="#DejaVuSans-65" transform="translate(365.380859 0)"/>
      <use href="#DejaVuSans-20" transform="translate(426.904297 0)"/>
      <use href="#DejaVuSans-28" transform="translate(458.691406 0)"/>
      <use href="#DejaVuSans-68" transform="translate(497.705078 0)"/>
      <use href="#DejaVuSans-50" transform="translate(561.083984 0)"/>
      <use href="#DejaVuSans-61" transform="translate(616.886719 0)"/>
      <use href="#DejaVuSans-29" transform="translate(678.166016 0)"/>
     </g>
    </g>
   </g>
   <g id="LineCollection_3">
    <path d="M 49.207319 385.089788 
L 50.416154 383.428917 
L 51.638587 381.750002 
L 52.87492 380.052646 
L 54.125466 378.336439 
L 55.390551 376.600959 
L 56.670508 374.845767 
L 57.965685 373.070411 
L 59.27644 371.274421 
L 60.603145 369.457313 
L 61.946185 367.618584 
L 63.30596 365.757713 
L 64.682883 363.87416 
L 66.077383 361.967367 
L 67.489907 360.036751 
L 68.920916 358.08171 
L 70.370892 356.101619 
L 71.840333 354.095827 
L 73.329759 352.063658 
L 74.839711 350.004409 
L 76.37075 347.917348 
L 77.923462 345.801714 
L 79.498458 343.656715 
L 81.096373 341.481522 
L 82.717872 339.275274 
L 84.363648 337.037071 
L 86.034423 334.765975 
L 87.730954 332.461003 
L 89.454033 330.121131 
L 91.204486 327.745284 
L 92.983181 325.332339 
L 94.791027 322.881119 
L 96.628976 320.390391 
L 98.498028 317.85886 
L 100.399233 315.285167 
L 102.333696 312.667884 
L 104.302579 310.005508 
L 106.307105 307.296458 
L 108.348564 304.539069 
L 110.428315 301.731585 
L 112.547796 298.872151 
L 114.708525 295.958808 
L 116.912109 292.989485 
L 119.160249 289.961989 
L 121.454751 286.873993 
L 123.797532 283.723031 
L 126.190627 280.506481 
L 128.636205 277.221556 
L 131.136576 273.865283 
L 133.694206 270.434497 
" clip-path="url(#p07b7da3071)" style="fill: none; stroke-dasharray: 1,1.65; stroke-dashoffset: 0; stroke: #1e90ff"/>
    <path d="M 79.35129 385.089788 
L 80.529157 383.428917 
L 81.720334 381.750002 
L 82.925118 380.052646 
L 84.143815 378.336439 
L 85.376743 376.600959 
L 86.624232 374.845767 
L 87.886621 373.070411 
L 89.164261 371.274421 
L 90.457519 369.457313 
L 91.766771 367.618584 
L 93.092408 365.757713 
L 94.434838 363.87416 
L 95.79448 361.967367 
L 97.171773 360.036751 
L 98.567169 358.08171 
L 99.98114 356.101619 
L 101.414177 354.095827 
L 102.866788 352.063658 
L 104.339504 350.004409 
L 105.832877 347.917348 
L 107.34748 345.801714 
L 108.883914 343.656715 
L 110.442802 341.481522 
L 112.024796 339.275274 
L 113.630575 337.037071 
L 115.26085 334.765975 
L 116.916363 332.461003 
L 118.59789 330.121131 
L 120.306244 327.745284 
L 122.042276 325.332339 
L 123.806877 322.881119 
L 125.600984 320.390391 
L 127.425577 317.85886 
L 129.281688 315.285167 
L 131.170401 312.667884 
L 133.092857 310.005508 
L 135.050257 307.296458 
L 137.043867 304.539069 
L 139.075024 301.731585 
L 141.145138 298.872151 
L 143.255701 295.958808 
L 145.40829 292.989485 
L 147.604577 289.961989 
L 149.846335 286.873993 
L 152.135447 283.723031 
L 154.473914 280.506481 
L 156.863865 277.221556 
L 159.307571 273.865283 
L 161.807453 270.434497 
" clip-path="url(#p07b7da3071)" style="fill: none; stroke-dasharray: 1,1.65; stroke-dashoffset: 0; stroke: #1e90ff"/>
    <path d="M 111.589773 385.089788 
L 112.733386 383.428917 
L 113.889992 381.750002 
L 115.059881 380.052646 
L 116.243354 378.336439 
L 117.440722 376.600959 
L 118.652306 374.845767 
L 119.878439 373.070411 
L 121.119465 371.274421 
L 122.375742 369.457313 
L 123.647638 367.618584 
L 124.935537 365.757713 
L 126.239836 363.87416 
L 127.560947 361.967367 
L 128.899298 360.036751 
L 130.255333 358.08171 
L 131.629513 356.101619 
L 133.022319 354.095827 
L 134.434248 352.063658 
L 135.86582 350.004409 
L 137.317575 347.917348 
L 138.790075 345.801714 
L 140.283907 343.656715 
L 141.799683 341.481522 
L 143.338038 339.275274 
L 144.899641 337.037071 
L 146.485185 334.765975 
L 148.095399 332.461003 
L 149.731041 330.121131 
L 151.392909 327.745284 
L 153.081835 325.332339 
L 154.798693 322.881119 
L 156.544399 320.390391 
L 158.319914 317.85886 
L 160.12625 315.285167 
L 161.964469 312.667884 
L 163.835687 310.005508 
L 165.741083 307.296458 
L 167.681896 304.539069 
L 169.659436 301.731585 
L 171.675086 298.872151 
L 173.730307 295.958808 
L 175.826646 292.989485 
L 177.965741 289.961989 
L 180.149331 286.873993 
L 182.37926 283.723031 
L 184.657491 280.506481 
L 186.986111 277.221556 
L 189.367347 273.865283 
L 191.803573 270.434497 
" clip-path="url(#p07b7da3071)" style="fill: none; stroke-dasharray: 1,1.65; stroke-dashoffset: 0; stroke: #1e90ff"/>
    <path d="M 131.505088 385.089788 
L 132.626954 383.428917 
L 133.761613 381.750002 
L 134.909352 380.052646 
L 136.070465 378.336439 
L 137.245261 376.600959 
L 138.434056 374.845767 
L 139.637179 373.070411 
L 140.854967 371.274421 
L 142.087775 369.457313 
L 143.335965 367.618584 
L 144.599916 365.757713 
L 145.88002 363.87416 
L 147.176683 361.967367 
L 148.490327 360.036751 
L 149.821389 358.08171 
L 151.170326 356.101619 
L 152.537611 354.095827 
L 153.923734 352.063658 
L 155.329208 350.004409 
L 156.754566 347.917348 
L 158.200363 345.801714 
L 159.667178 343.656715 
L 161.155612 341.481522 
L 162.666296 339.275274 
L 164.199886 337.037071 
L 165.757069 334.765975 
L 167.338562 332.461003 
L 168.945114 330.121131 
L 170.577512 327.745284 
L 172.236578 325.332339 
L 173.923172 322.881119 
L 175.638201 320.390391 
L 177.382613 317.85886 
L 179.157404 315.285167 
L 180.963624 312.667884 
L 182.802375 310.005508 
L 184.67482 307.296458 
L 186.582182 304.539069 
L 188.525755 301.731585 
L 190.506903 298.872151 
L 192.527069 295.958808 
L 194.58778 292.989485 
L 196.690653 289.961989 
L 198.837405 286.873993 
L 201.029857 283.723031 
L 203.269947 280.506481 
L 205.559736 277.221556 
L 207.901423 273.865283 
L 210.297352 270.434497 
" clip-path="url(#p07b7da3071)" style="fill: none; stroke-dasharray: 1,1.65; stroke-dashoffset: 0; stroke: #1e90ff"/>
    <path d="M 157.794574 385.089788 
L 158.887048 383.428917 
L 159.992046 381.750002 
L 161.109848 380.052646 
L 162.240745 378.336439 
L 163.385038 376.600959 
L 164.543038 374.845767 
L 165.715067 373.070411 
L 166.901457 371.274421 
L 168.102555 369.457313 
L 169.318717 367.618584 
L 170.550314 365.757713 
L 171.797732 363.87416 
L 173.061367 361.967367 
L 174.341636 360.036751 
L 175.638967 358.08171 
L 176.953807 356.101619 
L 178.28662 354.095827 
L 179.63789 352.063658 
L 181.008119 350.004409 
L 182.397829 347.917348 
L 183.807566 345.801714 
L 185.237897 343.656715 
L 186.689414 341.481522 
L 188.162736 339.275274 
L 189.658506 337.037071 
L 191.177399 334.765975 
L 192.720119 332.461003 
L 194.287402 330.121131 
L 195.88002 327.745284 
L 197.498781 325.332339 
L 199.14453 322.881119 
L 200.818156 320.390391 
L 202.520591 317.85886 
L 204.252814 315.285167 
L 206.015855 312.667884 
L 207.810798 310.005508 
L 209.638785 307.296458 
L 211.501017 304.539069 
L 213.398766 301.731585 
L 215.333372 298.872151 
L 217.306252 295.958808 
L 219.318908 292.989485 
L 221.372928 289.961989 
L 223.47 286.873993 
L 225.611913 283.723031 
L 227.800573 280.506481 
L 230.038005 277.221556 
L 232.326369 273.865283 
L 234.667973 270.434497 
" clip-path="url(#p07b7da3071)" style="fill: none; stroke-dasharray: 1,1.65; stroke-dashoffset: 0; stroke: #1e90ff"/>
    <path d="M 179.674825 385.089788 
L 180.742243 383.428917 
L 181.821955 381.750002 
L 182.914238 380.052646 
L 184.019379 378.336439 
L 185.137672 376.600959 
L 186.269424 374.845767 
L 187.414952 373.070411 
L 188.574583 371.274421 
L 189.748657 369.457313 
L 190.937525 367.618584 
L 192.141552 365.757713 
L 193.361117 363.87416 
L 194.596611 361.967367 
L 195.848443 360.036751 
L 197.117035 358.08171 
L 198.402826 356.101619 
L 199.706274 354.095827 
L 201.027853 352.063658 
L 202.368059 350.004409 
L 203.727405 347.917348 
L 205.106428 345.801714 
L 206.505686 343.656715 
L 207.925763 341.481522 
L 209.367266 339.275274 
L 210.830831 337.037071 
L 212.317119 334.765975 
L 213.826825 332.461003 
L 215.360674 330.121131 
L 216.919425 327.745284 
L 218.503872 325.332339 
L 220.11485 322.881119 
L 221.753233 320.390391 
L 223.419938 317.85886 
L 225.115931 315.285167 
L 226.842224 312.667884 
L 228.599885 310.005508 
L 230.390039 307.296458 
L 232.21387 304.539069 
L 234.072629 301.731585 
L 235.967636 298.872151 
L 237.900288 295.958808 
L 239.872064 292.989485 
L 241.884529 289.961989 
L 243.939344 286.873993 
L 246.038274 283.723031 
L 248.183194 280.506481 
L 250.376102 277.221556 
L 252.619127 273.865283 
L 254.91454 270.434497 
" clip-path="url(#p07b7da3071)" style="fill: none; stroke-dasharray: 1,1.65; stroke-dashoffset: 0; stroke: #1e90ff"/>
    <path d="M 195.773791 385.089788 
L 196.822427 383.428917 
L 197.883187 381.750002 
L 198.956344 380.052646 
L 200.042181 378.336439 
L 201.140989 376.600959 
L 202.253071 374.845767 
L 203.378739 373.070411 
L 204.518317 371.274421 
L 205.672141 369.457313 
L 206.840557 367.618584 
L 208.023927 365.757713 
L 209.222622 363.87416 
L 210.437033 361.967367 
L 211.667559 360.036751 
L 212.91462 358.08171 
L 214.178649 356.101619 
L 215.460099 354.095827 
L 216.759437 352.063658 
L 218.077153 350.004409 
L 219.413755 347.917348 
L 220.769774 345.801714 
L 222.14576 343.656715 
L 223.542289 341.481522 
L 224.959963 339.275274 
L 226.399409 337.037071 
L 227.861282 334.765975 
L 229.346267 332.461003 
L 230.85508 330.121131 
L 232.388472 327.745284 
L 233.947229 325.332339 
L 235.532174 322.881119 
L 237.144172 320.390391 
L 238.78413 317.85886 
L 240.453 315.285167 
L 242.151786 312.667884 
L 243.881541 310.005508 
L 245.643378 307.296458 
L 247.438468 304.539069 
L 249.268047 301.731585 
L 251.13342 298.872151 
L 253.035969 295.958808 
L 254.977155 292.989485 
L 256.958526 289.961989 
L 258.981725 286.873993 
L 261.048497 283.723031 
L 263.160695 280.506481 
L 265.320297 277.221556 
L 267.529406 273.865283 
L 269.79027 270.434497 
" clip-path="url(#p07b7da3071)" style="fill: none; stroke-dasharray: 1,1.65; stroke-dashoffset: 0; stroke: #1e90ff"/>
    <path d="M 219.313943 385.089788 
L 220.33459 383.428917 
L 221.367108 381.750002 
L 222.411765 380.052646 
L 223.468837 378.336439 
L 224.538612 376.600959 
L 225.621385 374.845767 
L 226.717464 373.070411 
L 227.827166 371.274421 
L 228.95082 369.457313 
L 230.088768 367.618584 
L 231.241363 365.757713 
L 232.408972 363.87416 
L 233.591974 361.967367 
L 234.790766 360.036751 
L 236.005757 358.08171 
L 237.237374 356.101619 
L 238.486059 354.095827 
L 239.752274 352.063658 
L 241.036498 350.004409 
L 242.33923 347.917348 
L 243.660991 345.801714 
L 245.002323 343.656715 
L 246.36379 341.481522 
L 247.745984 339.275274 
L 249.149521 337.037071 
L 250.575043 334.765975 
L 252.023224 332.461003 
L 253.494768 330.121131 
L 254.990411 327.745284 
L 256.510927 325.332339 
L 258.057123 322.881119 
L 259.62985 320.390391 
L 261.229998 317.85886 
L 262.858504 315.285167 
L 264.516353 312.667884 
L 266.204583 310.005508 
L 267.924284 307.296458 
L 269.676608 304.539069 
L 271.462771 301.731585 
L 273.284056 298.872151 
L 275.14182 295.958808 
L 277.0375 292.989485 
L 278.972618 289.961989 
L 280.948789 286.873993 
L 282.96773 283.723031 
L 285.031263 280.506481 
L 287.141331 277.221556 
L 289.300004 273.865283 
L 291.509493 270.434497 
" clip-path="url(#p07b7da3071)" style="fill: none; stroke-dasharray: 1,1.65; stroke-dashoffset: 0; stroke: #1e90ff"/>
    <path d="M 236.643536 385.089788 
L 237.643179 383.428917 
L 238.654503 381.750002 
L 239.677773 380.052646 
L 240.713261 378.336439 
L 241.761251 376.600959 
L 242.822033 374.845767 
L 243.895912 373.070411 
L 244.983199 371.274421 
L 246.08422 369.457313 
L 247.199311 367.618584 
L 248.328819 365.757713 
L 249.473108 363.87416 
L 250.632551 361.967367 
L 251.807539 360.036751 
L 252.998476 358.08171 
L 254.205782 356.101619 
L 255.429895 354.095827 
L 256.671268 352.063658 
L 257.930375 350.004409 
L 259.207708 347.917348 
L 260.50378 345.801714 
L 261.819127 343.656715 
L 263.154305 341.481522 
L 264.509897 339.275274 
L 265.886511 337.037071 
L 267.284781 334.765975 
L 268.705371 332.461003 
L 270.148977 330.121131 
L 271.616324 327.745284 
L 273.108175 325.332339 
L 274.625328 322.881119 
L 276.168621 320.390391 
L 277.738934 317.85886 
L 279.337191 315.285167 
L 280.964364 312.667884 
L 282.621476 310.005508 
L 284.309604 307.296458 
L 286.029887 304.539069 
L 287.783522 301.731585 
L 289.571776 298.872151 
L 291.395991 295.958808 
L 293.257583 292.989485 
L 295.158055 289.961989 
L 297.099003 286.873993 
L 299.08212 283.723031 
L 301.109207 280.506481 
L 303.182182 277.221556 
L 305.303088 273.865283 
L 307.47411 270.434497 
" clip-path="url(#p07b7da3071)" style="fill: none; stroke-dasharray: 1,1.65; stroke-dashoffset: 0; stroke: #1e90ff"/>
    <path d="M 261.988169 385.089788 
L 262.956483 383.428917 
L 263.936197 381.750002 
L 264.92757 380.052646 
L 265.930869 378.336439 
L 266.946369 376.600959 
L 267.974358 374.845767 
L 269.015131 373.070411 
L 270.068994 371.274421 
L 271.136266 369.457313 
L 272.217274 367.618584 
L 273.312362 365.757713 
L 274.421882 363.87416 
L 275.546202 361.967367 
L 276.685703 360.036751 
L 277.840782 358.08171 
L 279.011849 356.101619 
L 280.199333 354.095827 
L 281.403678 352.063658 
L 282.625349 350.004409 
L 283.864827 347.917348 
L 285.122614 345.801714 
L 286.399235 343.656715 
L 287.695237 341.481522 
L 289.011188 339.275274 
L 290.347684 337.037071 
L 291.705349 334.765975 
L 293.084831 332.461003 
L 294.486812 330.121131 
L 295.912003 327.745284 
L 297.361152 325.332339 
L 298.835041 322.881119 
L 300.334492 320.390391 
L 301.860365 317.85886 
L 303.413569 315.285167 
L 304.995054 312.667884 
L 306.605825 310.005508 
L 308.246937 307.296458 
L 309.919506 304.539069 
L 311.624707 301.731585 
L 313.363783 298.872151 
L 315.138048 295.958808 
L 316.948893 292.989485 
L 318.797791 289.961989 
L 320.686307 286.873993 
L 322.616103 283.723031 
L 324.588945 280.506481 
L 326.606714 277.221556 
L 328.671418 273.865283 
L 330.785198 270.434497 
" clip-path="url(#p07b7da3071)" style="fill: none; stroke-dasharray: 1,1.65; stroke-dashoffset: 0; stroke: #1e90ff"/>
    <path d="M 280.641576 385.089788 
L 281.58637 383.428917 
L 282.542354 381.750002 
L 283.509781 380.052646 
L 284.488915 378.336439 
L 285.480028 376.600959 
L 286.4834 374.845767 
L 287.499324 373.070411 
L 288.5281 371.274421 
L 289.570042 369.457313 
L 290.625473 367.618584 
L 291.694728 365.757713 
L 292.778157 363.87416 
L 293.87612 361.967367 
L 294.988992 360.036751 
L 296.117164 358.08171 
L 297.261041 356.101619 
L 298.421043 354.095827 
L 299.597609 352.063658 
L 300.791194 350.004409 
L 302.002273 347.917348 
L 303.231342 345.801714 
L 304.478915 343.656715 
L 305.74553 341.481522 
L 307.031749 339.275274 
L 308.338158 337.037071 
L 309.665369 334.765975 
L 311.014023 332.461003 
L 312.384789 330.121131 
L 313.77837 327.745284 
L 315.195501 325.332339 
L 316.636952 322.881119 
L 318.103532 320.390391 
L 319.596089 317.85886 
L 321.115518 315.285167 
L 322.662755 312.667884 
L 324.23879 310.005508 
L 325.844662 307.296458 
L 327.481471 304.539069 
L 329.150373 301.731585 
L 330.852595 298.872151 
L 332.58943 295.958808 
L 334.362249 292.989485 
L 336.172504 289.961989 
L 338.021738 286.873993 
L 339.911587 283.723031 
L 341.843794 280.506481 
L 343.820212 277.221556 
L 345.842819 273.865283 
L 347.913727 270.434497 
" clip-path="url(#p07b7da3071)" style="fill: none; stroke-dasharray: 1,1.65; stroke-dashoffset: 0; stroke: #1e90ff"/>
    <path d="M 295.500637 385.089788 
L 296.426414 383.428917 
L 297.363211 381.750002 
L 298.311279 380.052646 
L 299.270877 378.336439 
L 300.242274 376.600959 
L 301.225746 374.845767 
L 302.221582 373.070411 
L 303.23008 371.274421 
L 304.251546 369.457313 
L 305.286302 367.618584 
L 306.334677 365.757713 
L 307.397017 363.87416 
L 308.473677 361.967367 
L 309.565028 360.036751 
L 310.671455 358.08171 
L 311.793357 356.101619 
L 312.931151 354.095827 
L 314.085267 352.063658 
L 315.256157 350.004409 
L 316.44429 347.917348 
L 317.650152 345.801714 
L 318.874255 343.656715 
L 320.117127 341.481522 
L 321.379325 339.275274 
L 322.661425 337.037071 
L 323.964034 334.765975 
L 325.287784 332.461003 
L 326.633335 330.121131 
L 328.001382 327.745284 
L 329.39265 325.332339 
L 330.8079 322.881119 
L 332.24793 320.390391 
L 333.71358 317.85886 
L 335.205732 315.285167 
L 336.725311 312.667884 
L 338.273294 310.005508 
L 339.85071 307.296458 
L 341.458643 304.539069 
L 343.098237 301.731585 
L 344.770702 298.872151 
L 346.477317 295.958808 
L 348.219437 292.989485 
L 349.998496 289.961989 
L 351.816019 286.873993 
L 353.673623 283.723031 
L 355.57303 280.506481 
L 357.516071 277.221556 
L 359.504703 273.865283 
L 361.541012 270.434497 
" clip-path="url(#p07b7da3071)" style="fill: none; stroke-dasharray: 1,1.65; stroke-dashoffset: 0; stroke: #1e90ff"/>
    <path d="M 313.409656 385.089788 
L 314.312181 383.428917 
L 315.22552 381.750002 
L 316.149919 380.052646 
L 317.085633 378.336439 
L 318.032927 376.600959 
L 318.992072 374.845767 
L 319.963352 373.070411 
L 320.94706 371.274421 
L 321.943498 369.457313 
L 322.952981 367.618584 
L 323.975835 365.757713 
L 325.012399 363.87416 
L 326.063022 361.967367 
L 327.12807 360.036751 
L 328.207921 358.08171 
L 329.302968 356.101619 
L 330.41362 354.095827 
L 331.540303 352.063658 
L 332.68346 350.004409 
L 333.843552 347.917348 
L 335.02106 345.801714 
L 336.216484 343.656715 
L 337.430347 341.481522 
L 338.663195 339.275274 
L 339.915598 337.037071 
L 341.18815 334.765975 
L 342.481475 332.461003 
L 343.796224 330.121131 
L 345.133079 327.745284 
L 346.492755 325.332339 
L 347.876001 322.881119 
L 349.283604 320.390391 
L 350.716391 317.85886 
L 352.175228 315.285167 
L 353.661029 312.667884 
L 355.174756 310.005508 
L 356.717421 307.296458 
L 358.290093 304.539069 
L 359.8939 301.731585 
L 361.530032 298.872151 
L 363.19975 295.958808 
L 364.90439 292.989485 
L 366.645365 289.961989 
L 368.424175 286.873993 
L 370.242417 283.723031 
L 372.101786 280.506481 
L 374.004089 277.221556 
L 375.951252 273.865283 
L 377.945334 270.434497 
" clip-path="url(#p07b7da3071)" style="fill: none; stroke-dasharray: 1,1.65; stroke-dashoffset: 0; stroke: #1e90ff"/>
    <path d="M 327.916829 385.089788 
L 328.800255 383.428917 
L 329.694325 381.750002 
L 330.599282 380.052646 
L 331.515378 378.336439 
L 332.442874 376.600959 
L 333.382038 374.845767 
L 334.33315 373.070411 
L 335.296498 371.274421 
L 336.272381 369.457313 
L 337.26111 367.618584 
L 338.263005 365.757713 
L 339.278401 363.87416 
L 340.307644 361.967367 
L 341.351093 360.036751 
L 342.409122 358.08171 
L 343.482118 356.101619 
L 344.570486 354.095827 
L 345.674645 352.063658 
L 346.795033 350.004409 
L 347.932104 347.917348 
L 349.086334 345.801714 
L 350.258215 343.656715 
L 351.448265 341.481522 
L 352.657021 339.275274 
L 353.885046 337.037071 
L 355.132928 334.765975 
L 356.401281 332.461003 
L 357.690748 330.121131 
L 359.002004 327.745284 
L 360.335753 325.332339 
L 361.692735 322.881119 
L 363.073727 320.390391 
L 364.479545 317.85886 
L 365.911046 315.285167 
L 367.369132 312.667884 
L 368.854752 310.005508 
L 370.368905 307.296458 
L 371.912649 304.539069 
L 373.487095 301.731585 
L 375.093422 298.872151 
L 376.732874 295.958808 
L 378.406769 292.989485 
L 380.116505 289.961989 
L 381.863564 286.873993 
L 383.649522 283.723031 
L 385.476056 280.506481 
L 387.344949 277.221556 
L 389.258107 273.865283 
L 391.217561 270.434497 
" clip-path="url(#p07b7da3071)" style="fill: none; stroke-dasharray: 1,1.65; stroke-dashoffset: 0; stroke: #1e90ff"/>
    <path d="M 343.82957 385.089788 
L 344.691771 383.428917 
L 345.56443 381.750002 
L 346.447785 380.052646 
L 347.342084 378.336439 
L 348.247584 376.600959 
L 349.164548 374.845767 
L 350.093253 373.070411 
L 351.033982 371.274421 
L 351.98703 369.457313 
L 352.952702 367.618584 
L 353.931314 365.757713 
L 354.923197 363.87416 
L 355.92869 361.967367 
L 356.948147 360.036751 
L 357.981937 358.08171 
L 359.030442 356.101619 
L 360.094059 354.095827 
L 361.173202 352.063658 
L 362.268302 350.004409 
L 363.379807 347.917348 
L 364.508184 345.801714 
L 365.653921 343.656715 
L 366.817526 341.481522 
L 367.99953 339.275274 
L 369.200486 337.037071 
L 370.420975 334.765975 
L 371.661601 332.461003 
L 372.922999 330.121131 
L 374.205832 327.745284 
L 375.510796 325.332339 
L 376.838621 322.881119 
L 378.190072 320.390391 
L 379.565954 317.85886 
L 380.96711 315.285167 
L 382.394431 312.667884 
L 383.848853 310.005508 
L 385.331362 307.296458 
L 386.842998 304.539069 
L 388.38486 301.731585 
L 389.958109 298.872151 
L 391.563972 295.958808 
L 393.203751 292.989485 
L 394.878823 289.961989 
L 396.590651 286.873993 
L 398.340789 283.723031 
L 400.130892 280.506481 
L 401.96272 277.221556 
L 403.838152 273.865283 
L 405.759194 270.434497 
" clip-path="url(#p07b7da3071)" style="fill: none; stroke-dasharray: 1,1.65; stroke-dashoffset: 0; stroke: #1e90ff"/>
    <path d="M 360.06463 385.089788 
L 360.904885 383.428917 
L 361.755402 381.750002 
L 362.616419 380.052646 
L 363.488179 378.336439 
L 364.370934 376.600959 
L 365.264945 374.845767 
L 366.170482 373.070411 
L 367.087824 371.274421 
L 368.017262 369.457313 
L 368.959097 367.618584 
L 369.91364 365.757713 
L 370.881214 363.87416 
L 371.862155 361.967367 
L 372.856811 360.036751 
L 373.865545 358.08171 
L 374.888733 356.101619 
L 375.926767 354.095827 
L 376.980053 352.063658 
L 378.049016 350.004409 
L 379.134098 347.917348 
L 380.235757 345.801714 
L 381.354475 343.656715 
L 382.490752 341.481522 
L 383.64511 339.275274 
L 384.818094 337.037071 
L 386.010277 334.765975 
L 387.222253 332.461003 
L 388.454648 330.121131 
L 389.708116 327.745284 
L 390.983341 325.332339 
L 392.281042 322.881119 
L 393.601974 320.390391 
L 394.946929 317.85886 
L 396.31674 315.285167 
L 397.712282 312.667884 
L 399.134479 310.005508 
L 400.584302 307.296458 
L 402.062777 304.539069 
L 403.570986 301.731585 
L 405.110074 298.872151 
L 406.681251 295.958808 
L 408.285799 292.989485 
L 409.925076 289.961989 
L 411.600526 286.873993 
L 413.31368 283.723031 
L 415.066169 280.506481 
L 416.85973 277.221556 
L 418.696216 273.865283 
L 420.577604 270.434497 
" clip-path="url(#p07b7da3071)" style="fill: none; stroke-dasharray: 1,1.65; stroke-dashoffset: 0; stroke: #1e90ff"/>
    <path d="M 373.556175 385.089788 
L 374.377964 383.428917 
L 375.209854 381.750002 
L 376.052079 380.052646 
L 376.904877 378.336439 
L 377.768499 376.600959 
L 378.643201 374.845767 
L 379.529249 373.070411 
L 380.42692 371.274421 
L 381.336499 369.457313 
L 382.258284 367.618584 
L 383.192581 365.757713 
L 384.13971 363.87416 
L 385.100002 361.967367 
L 386.0738 360.036751 
L 387.061462 358.08171 
L 388.06336 356.101619 
L 389.079879 354.095827 
L 390.111422 352.063658 
L 391.158407 350.004409 
L 392.221269 347.917348 
L 393.300463 345.801714 
L 394.396462 343.656715 
L 395.509761 341.481522 
L 396.640875 339.275274 
L 397.790343 337.037071 
L 398.958728 334.765975 
L 400.146619 332.461003 
L 401.354633 330.121131 
L 402.583414 327.745284 
L 403.833641 325.332339 
L 405.106021 322.881119 
L 406.401301 320.390391 
L 407.720262 317.85886 
L 409.063727 315.285167 
L 410.432561 312.667884 
L 411.827676 310.005508 
L 413.25003 307.296458 
L 414.700638 304.539069 
L 416.180568 301.731585 
L 417.690951 298.872151 
L 419.232982 295.958808 
L 420.807929 292.989485 
L 422.417132 289.961989 
L 424.062019 286.873993 
L 425.744102 283.723031 
L 427.464993 280.506481 
L 429.226409 277.221556 
L 431.03018 273.865283 
L 432.878262 270.434497 
" clip-path="url(#p07b7da3071)" style="fill: none; stroke-dasharray: 1,1.65; stroke-dashoffset: 0; stroke: #1e90ff"/>
    <path d="M 387.236307 385.089788 
L 388.039163 383.428917 
L 388.851955 381.750002 
L 389.674912 380.052646 
L 390.50827 378.336439 
L 391.352276 376.600959 
L 392.207181 374.845767 
L 393.07325 373.070411 
L 393.950755 371.274421 
L 394.839976 369.457313 
L 395.741208 367.618584 
L 396.654752 365.757713 
L 397.580923 363.87416 
L 398.520049 361.967367 
L 399.472467 360.036751 
L 400.438531 358.08171 
L 401.418607 356.101619 
L 402.413076 354.095827 
L 403.422334 352.063658 
L 404.446793 350.004409 
L 405.486885 347.917348 
L 406.543056 345.801714 
L 407.615774 343.656715 
L 408.705526 341.481522 
L 409.812822 339.275274 
L 410.938193 337.037071 
L 412.082193 334.765975 
L 413.245406 332.461003 
L 414.428439 330.121131 
L 415.631928 327.745284 
L 416.856543 325.332339 
L 418.102982 322.881119 
L 419.371982 320.390391 
L 420.664314 317.85886 
L 421.980791 315.285167 
L 423.322266 312.667884 
L 424.689639 310.005508 
L 426.083858 307.296458 
L 427.505922 304.539069 
L 428.956888 301.731585 
L 430.437872 298.872151 
L 431.950055 295.958808 
L 433.494686 292.989485 
L 435.073093 289.961989 
L 436.686682 286.873993 
L 438.33695 283.723031 
L 440.025487 280.506481 
L 441.753989 277.221556 
L 443.524265 273.865283 
L 445.338247 270.434497 
" clip-path="url(#p07b7da3071)" style="fill: none; stroke-dasharray: 1,1.65; stroke-dashoffset: 0; stroke: #1e90ff"/>
    <path d="M 398.936069 385.089788 
L 399.722566 383.428917 
L 400.518856 381.750002 
L 401.325164 380.052646 
L 402.141726 378.336439 
L 402.968783 376.600959 
L 403.806585 374.845767 
L 404.655393 373.070411 
L 405.515474 371.274421 
L 406.387108 369.457313 
L 407.270583 367.618584 
L 408.166199 365.757713 
L 409.074266 363.87416 
L 409.995107 361.967367 
L 410.929057 360.036751 
L 411.876465 358.08171 
L 412.837691 356.101619 
L 413.813114 354.095827 
L 414.803123 352.063658 
L 415.808128 350.004409 
L 416.828552 347.917348 
L 417.864839 345.801714 
L 418.91745 343.656715 
L 419.986868 341.481522 
L 421.073594 339.275274 
L 422.178154 337.037071 
L 423.301098 334.765975 
L 424.443 332.461003 
L 425.604461 330.121131 
L 426.786112 327.745284 
L 427.988611 325.332339 
L 429.212653 322.881119 
L 430.458963 320.390391 
L 431.728304 317.85886 
L 433.021481 315.285167 
L 434.339336 312.667884 
L 435.68276 310.005508 
L 437.052691 307.296458 
L 438.450116 304.539069 
L 439.87608 301.731585 
L 441.331688 298.872151 
L 442.818106 295.958808 
L 444.336572 292.989485 
L 445.888398 289.961989 
L 447.474976 286.873993 
L 449.097786 283.723031 
L 450.758402 280.506481 
L 452.458501 277.221556 
L 454.199873 273.865283 
L 455.984431 270.434497 
" clip-path="url(#p07b7da3071)" style="fill: none; stroke-dasharray: 1,1.65; stroke-dashoffset: 0; stroke: #1e90ff"/>
   </g>
   <g id="patch_3">
    <path d="M 54.3 385.5 
L 54.3 21.9 
" style="fill: none; stroke: #000000; stroke-width: 0.8; stroke-linejoin: miter; stroke-linecap: square"/>
   </g>
   <g id="patch_4">
    <path d="M 452.1 385.5 
L 452.1 21.9 
" style="fill: none; stroke: #000000; stroke-width: 0.8; stroke-linejoin: miter; stroke-linecap: square"/>
   </g>
   <g id="patch_5">
    <path d="M 54.3 385.5 
L 452.1 385.5 
" style="fill: none; stroke: #000000; stroke-width: 0.8; stroke-linejoin: miter; stroke-linecap: square"/>
   </g>
   <g id="patch_6">
    <path d="M 54.3 21.9 
L 452.1 21.9 
" style="fill: none; stroke: #000000; stroke-width: 0.8; stroke-linejoin: miter; stroke-linecap: square"/>
   </g>
   <g id="line2d_55">
    <path d="M 242.60536 21.9 
L 242.242256 23.182303 
L 241.639801 24.464606 
L 238.907811 29.593817 
L 238.501577 31.303554 
L 238.302539 33.440726 
L 237.842554 47.118623 
L 237.815531 53.530138 
L 238.04124 60.796521 
L 238.938324 78.748761 
L 239.423028 84.305407 
L 240.004118 88.57975 
L 240.617301 91.57179 
L 241.347898 94.136395 
L 242.32099 96.701001 
L 243.565603 99.265607 
L 245.296745 102.257647 
L 247.807459 106.104556 
L 251.754668 112.088636 
L 253.186198 114.653242 
L 254.337329 117.217847 
L 255.216825 119.782453 
L 255.849824 122.347059 
L 256.261463 124.911665 
L 256.495471 127.903705 
L 256.503397 130.895745 
L 256.247551 141.581602 
L 256.496801 143.718773 
L 257.040571 146.283379 
L 258.312209 151.840025 
L 259.069371 154.832065 
L 260.539987 159.961277 
L 262.133884 166.372791 
L 262.922184 168.509962 
L 263.975913 170.647134 
L 265.065213 172.356871 
L 266.418995 174.066608 
L 268.477259 176.20378 
L 274.564826 182.18786 
L 276.653648 184.752466 
L 279.092144 188.17194 
L 284.491389 195.865757 
L 291.108693 205.269312 
L 293.533726 208.688786 
L 295.658694 211.253392 
L 298.155132 214.245432 
L 299.325823 215.955169 
L 300.496982 218.09234 
L 301.617394 220.656946 
L 306.283785 232.197672 
L 307.689408 234.762278 
L 309.374285 237.326884 
L 311.339164 239.891489 
L 314.268796 243.310964 
L 324.490108 254.85169 
L 326.353719 257.416295 
L 327.672875 259.553467 
L 328.750756 261.690638 
L 329.567732 263.82781 
L 330.116252 265.964981 
L 330.514766 268.529587 
L 332.240742 282.634919 
L 333.507827 289.901302 
L 333.66639 292.465907 
L 333.562897 294.603079 
L 333.283588 296.312816 
L 332.797024 298.022553 
L 331.901133 300.159725 
L 330.175039 304.006633 
L 329.690578 305.71637 
L 329.55969 306.998673 
L 329.684831 308.280976 
L 330.03674 309.563279 
L 330.903482 311.700451 
L 333.650076 317.684531 
L 334.810545 319.394268 
L 337.614071 323.241176 
L 338.222829 324.523479 
L 338.576651 325.805782 
L 338.720268 327.088085 
L 338.665088 328.797822 
L 338.342738 330.934994 
L 337.715541 333.499599 
L 335.800535 340.338548 
L 335.703111 342.048285 
L 335.859201 343.330588 
L 336.260384 344.612891 
L 336.946026 345.895194 
L 338.222618 347.604931 
L 342.397205 352.734143 
L 344.451269 355.726183 
L 346.205241 358.718223 
L 347.472135 361.282829 
L 348.362591 363.42 
L 348.362591 363.42 
" clip-path="url(#p07b7da3071)" style="fill: none; stroke: #ff0000; stroke-width: 1.5; stroke-linecap: square"/>
   </g>
   <g id="text_23">
    <!-- wetPf2_C2E2.2026.092.19.46.G18 -->
    <g transform="translate(150.274687 15.9) scale(0.12 -0.12)">
     <defs>
      <path id="DejaVuSans-77" d="M 269 3500 
L 844 3500 
L 1563 769 
L 2278 3500 
L 2956 3500 
L 3675 769 
L 4391 3500 
L 4966 3500 
L 4050 0 
L 3372 0 
L 2619 2869 
L 1863 0 
L 1184 0 
L 269 3500 
z
" transform="scale(0.015625)"/>
      <path id="DejaVuSans-66" d="M 2375 4863 
L 2375 4384 
L 1825 4384 
Q 1516 4384 1395 4259 
Q 1275 4134 1275 3809 
L 1275 3500 
L 2222 3500 
L 2222 3053 
L 1275 3053 
L 1275 0 
L 697 0 
L 697 3053 
L 147 3053 
L 147 3500 
L 697 3500 
L 697 3744 
Q 697 4328 969 4595 
Q 1241 4863 1831 4863 
L 2375 4863 
z
" transform="scale(0.015625)"/>
      <path id="DejaVuSans-5f" d="M 3263 -1063 
L 3263 -1509 
L -63 -1509 
L -63 -1063 
L 3263 -1063 
z
" transform="scale(0.015625)"/>
      <path id="DejaVuSans-45" d="M 628 4666 
L 3578 4666 
L 3578 4134 
L 1259 4134 
L 1259 2753 
L 3481 2753 
L 3481 2222 
L 1259 2222 
L 1259 531 
L 3634 531 
L 3634 0 
L 628 0 
L 628 4666 
z
" transform="scale(0.015625)"/>
      <path id="DejaVuSans-2e" d="M 684 794 
L 1344 794 
L 1344 0 
L 684 0 
L 684 794 
z
" transform="scale(0.015625)"/>
      <path id="DejaVuSans-47" d="M 3809 666 
L 3809 1919 
L 2778 1919 
L 2778 2438 
L 4434 2438 
L 4434 434 
Q 4069 175 3628 42 
Q 3188 -91 2688 -91 
Q 1594 -91 976 548 
Q 359 1188 359 2328 
Q 359 3472 976 4111 
Q 1594 4750 2688 4750 
Q 3144 4750 3555 4637 
Q 3966 4525 4313 4306 
L 4313 3634 
Q 3963 3931 3569 4081 
Q 3175 4231 2741 4231 
Q 1884 4231 1454 3753 
Q 1025 3275 1025 2328 
Q 1025 1384 1454 906 
Q 1884 428 2741 428 
Q 3075 428 3337 486 
Q 3600 544 3809 666 
z
" transform="scale(0.015625)"/>
     </defs>
     <use href="#DejaVuSans-77"/>
     <use href="#DejaVuSans-65" transform="translate(81.787109 0)"/>
     <use href="#DejaVuSans-74" transform="translate(143.310547 0)"/>
     <use href="#DejaVuSans-50" transform="translate(182.519531 0)"/>
     <use href="#DejaVuSans-66" transform="translate(242.822266 0)"/>
     <use href="#DejaVuSans-32" transform="translate(278.027344 0)"/>
     <use href="#DejaVuSans-5f" transform="translate(341.650391 0)"/>
     <use href="#DejaVuSans-43" transform="translate(391.650391 0)"/>
     <use href="#DejaVuSans-32" transform="translate(461.474609 0)"/>
     <use href="#DejaVuSans-45" transform="translate(525.097656 0)"/>
     <use href="#DejaVuSans-32" transform="translate(588.28125 0)"/>
     <use href="#DejaVuSans-2e" transform="translate(651.904297 0)"/>
     <use href="#DejaVuSans-32" transform="translate(683.691406 0)"/>
     <use href="#DejaVuSans-30" transform="translate(747.314453 0)"/>
     <use href="#DejaVuSans-32" transform="translate(810.9375 0)"/>
     <use href="#DejaVuSans-36" transform="translate(874.560547 0)"/>
     <use href="#DejaVuSans-2e" transform="translate(938.183594 0)"/>
     <use href="#DejaVuSans-30" transform="translate(969.970703 0)"/>
     <use href="#DejaVuSans-39" transform="translate(1033.59375 0)"/>
     <use href="#DejaVuSans-32" transform="translate(1097.216797 0)"/>
     <use href="#DejaVuSans-2e" transform="translate(1160.839844 0)"/>
     <use href="#DejaVuSans-31" transform="translate(1192.626953 0)"/>
     <use href="#DejaVuSans-39" transform="translate(1256.25 0)"/>
     <use href="#DejaVuSans-2e" transform="translate(1319.873047 0)"/>
     <use href="#DejaVuSans-34" transform="translate(1351.660156 0)"/>
     <use href="#DejaVuSans-36" transform="translate(1415.283203 0)"/>
     <use href="#DejaVuSans-2e" transform="translate(1478.90625 0)"/>
     <use href="#DejaVuSans-47" transform="translate(1510.693359 0)"/>
     <use href="#DejaVuSans-31" transform="translate(1588.183594 0)"/>
     <use href="#DejaVuSans-38" transform="translate(1651.806641 0)"/>
    </g>
   </g>
   <g id="text_24">
    <g clip-path="url(#p07b7da3071)">
     <!-- 0.1 -->
     <g style="fill: #1e90ff" transform="translate(128.913254 269.845689) rotate(-30) scale(0.076 -0.076)">
      <defs>
       <path id="DejaVuSans-Bold-30" d="M 2944 2338 
Q 2944 3213 2780 3570 
Q 2616 3928 2228 3928 
Q 1841 3928 1675 3570 
Q 1509 3213 1509 2338 
Q 1509 1453 1675 1090 
Q 1841 728 2228 728 
Q 2613 728 2778 1090 
Q 2944 1453 2944 2338 
z
M 4147 2328 
Q 4147 1169 3647 539 
Q 3147 -91 2228 -91 
Q 1306 -91 806 539 
Q 306 1169 306 2328 
Q 306 3491 806 4120 
Q 1306 4750 2228 4750 
Q 3147 4750 3647 4120 
Q 4147 3491 4147 2328 
z
" transform="scale(0.015625)"/>
       <path id="DejaVuSans-Bold-2e" d="M 653 1209 
L 1778 1209 
L 1778 0 
L 653 0 
L 653 1209 
z
" transform="scale(0.015625)"/>
       <path id="DejaVuSans-Bold-31" d="M 750 831 
L 1813 831 
L 1813 3847 
L 722 3622 
L 722 4441 
L 1806 4666 
L 2950 4666 
L 2950 831 
L 4013 831 
L 4013 0 
L 750 0 
L 750 831 
z
" transform="scale(0.015625)"/>
      </defs>
      <use href="#DejaVuSans-Bold-30"/>
      <use href="#DejaVuSans-Bold-2e" transform="translate(69.580078 0)"/>
      <use href="#DejaVuSans-Bold-31" transform="translate(107.568359 0)"/>
     </g>
    </g>
   </g>
   <g id="text_25">
    <g clip-path="url(#p07b7da3071)">
     <!-- 0.2 -->
     <g style="fill: #1e90ff" transform="translate(157.026501 269.845689) rotate(-30) scale(0.076 -0.076)">
      <defs>
       <path id="DejaVuSans-Bold-32" d="M 1844 884 
L 3897 884 
L 3897 0 
L 506 0 
L 506 884 
L 2209 2388 
Q 2438 2594 2547 2791 
Q 2656 2988 2656 3200 
Q 2656 3528 2436 3728 
Q 2216 3928 1850 3928 
Q 1569 3928 1234 3808 
Q 900 3688 519 3450 
L 519 4475 
Q 925 4609 1322 4679 
Q 1719 4750 2100 4750 
Q 2938 4750 3402 4381 
Q 3866 4013 3866 3353 
Q 3866 2972 3669 2642 
Q 3472 2313 2841 1759 
L 1844 884 
z
" transform="scale(0.015625)"/>
      </defs>
      <use href="#DejaVuSans-Bold-30"/>
      <use href="#DejaVuSans-Bold-2e" transform="translate(69.580078 0)"/>
      <use href="#DejaVuSans-Bold-32" transform="translate(107.568359 0)"/>
     </g>
    </g>
   </g>
   <g id="text_26">
    <g clip-path="url(#p07b7da3071)">
     <!-- 0.4 -->
     <g style="fill: #1e90ff" transform="translate(187.022621 269.845689) rotate(-30) scale(0.076 -0.076)">
      <defs>
       <path id="DejaVuSans-Bold-34" d="M 2356 3675 
L 1038 1722 
L 2356 1722 
L 2356 3675 
z
M 2156 4666 
L 3494 4666 
L 3494 1722 
L 4159 1722 
L 4159 850 
L 3494 850 
L 3494 0 
L 2356 0 
L 2356 850 
L 288 850 
L 288 1881 
L 2156 4666 
z
" transform="scale(0.015625)"/>
      </defs>
      <use href="#DejaVuSans-Bold-30"/>
      <use href="#DejaVuSans-Bold-2e" transform="translate(69.580078 0)"/>
      <use href="#DejaVuSans-Bold-34" transform="translate(107.568359 0)"/>
     </g>
    </g>
   </g>
   <g id="text_27">
    <g clip-path="url(#p07b7da3071)">
     <!-- 0.6 -->
     <g style="fill: #1e90ff" transform="translate(205.5164 269.845689) rotate(-30) scale(0.076 -0.076)">
      <defs>
       <path id="DejaVuSans-Bold-36" d="M 2316 2303 
Q 2000 2303 1842 2098 
Q 1684 1894 1684 1484 
Q 1684 1075 1842 870 
Q 2000 666 2316 666 
Q 2634 666 2792 870 
Q 2950 1075 2950 1484 
Q 2950 1894 2792 2098 
Q 2634 2303 2316 2303 
z
M 3803 4544 
L 3803 3681 
Q 3506 3822 3243 3889 
Q 2981 3956 2731 3956 
Q 2194 3956 1894 3657 
Q 1594 3359 1544 2772 
Q 1750 2925 1990 3001 
Q 2231 3078 2516 3078 
Q 3231 3078 3670 2659 
Q 4109 2241 4109 1563 
Q 4109 813 3618 361 
Q 3128 -91 2303 -91 
Q 1394 -91 895 523 
Q 397 1138 397 2266 
Q 397 3422 980 4083 
Q 1563 4744 2578 4744 
Q 2900 4744 3203 4694 
Q 3506 4644 3803 4544 
z
" transform="scale(0.015625)"/>
      </defs>
      <use href="#DejaVuSans-Bold-30"/>
      <use href="#DejaVuSans-Bold-2e" transform="translate(69.580078 0)"/>
      <use href="#DejaVuSans-Bold-36" transform="translate(107.568359 0)"/>
     </g>
    </g>
   </g>
   <g id="text_28">
    <g clip-path="url(#p07b7da3071)">
     <!-- 1 -->
     <g style="fill: #1e90ff" transform="translate(233.426792 269.845689) rotate(-30) scale(0.076 -0.076)">
      <use href="#DejaVuSans-Bold-31"/>
     </g>
    </g>
   </g>
   <g id="text_29">
    <g clip-path="url(#p07b7da3071)">
     <!-- 1.5 -->
     <g style="fill: #1e90ff" transform="translate(250.133588 269.845689) rotate(-30) scale(0.076 -0.076)">
      <defs>
       <path id="DejaVuSans-Bold-35" d="M 678 4666 
L 3669 4666 
L 3669 3781 
L 1638 3781 
L 1638 3059 
Q 1775 3097 1914 3117 
Q 2053 3138 2203 3138 
Q 3056 3138 3531 2711 
Q 4006 2284 4006 1522 
Q 4006 766 3489 337 
Q 2972 -91 2053 -91 
Q 1656 -91 1267 -14 
Q 878 63 494 219 
L 494 1166 
Q 875 947 1217 837 
Q 1559 728 1863 728 
Q 2300 728 2551 942 
Q 2803 1156 2803 1522 
Q 2803 1891 2551 2103 
Q 2300 2316 1863 2316 
Q 1603 2316 1309 2248 
Q 1016 2181 678 2041 
L 678 4666 
z
" transform="scale(0.015625)"/>
      </defs>
      <use href="#DejaVuSans-Bold-31"/>
      <use href="#DejaVuSans-Bold-2e" transform="translate(69.580078 0)"/>
      <use href="#DejaVuSans-Bold-35" transform="translate(107.568359 0)"/>
     </g>
    </g>
   </g>
   <g id="text_30">
    <g clip-path="url(#p07b7da3071)">
     <!-- 2 -->
     <g style="fill: #1e90ff" transform="translate(268.549088 269.845689) rotate(-30) scale(0.076 -0.076)">
      <use href="#DejaVuSans-Bold-32"/>
     </g>
    </g>
   </g>
   <g id="text_31">
    <g clip-path="url(#p07b7da3071)">
     <!-- 3 -->
     <g style="fill: #1e90ff" transform="translate(290.268312 269.845689) rotate(-30) scale(0.076 -0.076)">
      <defs>
       <path id="DejaVuSans-Bold-33" d="M 2981 2516 
Q 3453 2394 3698 2092 
Q 3944 1791 3944 1325 
Q 3944 631 3412 270 
Q 2881 -91 1863 -91 
Q 1503 -91 1142 -33 
Q 781 25 428 141 
L 428 1069 
Q 766 900 1098 814 
Q 1431 728 1753 728 
Q 2231 728 2486 893 
Q 2741 1059 2741 1369 
Q 2741 1688 2480 1852 
Q 2219 2016 1709 2016 
L 1228 2016 
L 1228 2791 
L 1734 2791 
Q 2188 2791 2409 2933 
Q 2631 3075 2631 3366 
Q 2631 3634 2415 3781 
Q 2200 3928 1806 3928 
Q 1516 3928 1219 3862 
Q 922 3797 628 3669 
L 628 4550 
Q 984 4650 1334 4700 
Q 1684 4750 2022 4750 
Q 2931 4750 3382 4451 
Q 3834 4153 3834 3553 
Q 3834 3144 3618 2883 
Q 3403 2622 2981 2516 
z
" transform="scale(0.015625)"/>
      </defs>
      <use href="#DejaVuSans-Bold-33"/>
     </g>
    </g>
   </g>
   <g id="text_32">
    <g clip-path="url(#p07b7da3071)">
     <!-- 4 -->
     <g style="fill: #1e90ff" transform="translate(306.232928 269.845689) rotate(-30) scale(0.076 -0.076)">
      <use href="#DejaVuSans-Bold-34"/>
     </g>
    </g>
   </g>
   <g id="text_33">
    <g clip-path="url(#p07b7da3071)">
     <!-- 6 -->
     <g style="fill: #1e90ff" transform="translate(329.544016 269.845689) rotate(-30) scale(0.076 -0.076)">
      <use href="#DejaVuSans-Bold-36"/>
     </g>
    </g>
   </g>
   <g id="text_34">
    <g clip-path="url(#p07b7da3071)">
     <!-- 8 -->
     <g style="fill: #1e90ff" transform="translate(346.672545 269.845689) rotate(-30) scale(0.076 -0.076)">
      <defs>
       <path id="DejaVuSans-Bold-38" d="M 2228 2088 
Q 1891 2088 1709 1903 
Q 1528 1719 1528 1375 
Q 1528 1031 1709 848 
Q 1891 666 2228 666 
Q 2563 666 2741 848 
Q 2919 1031 2919 1375 
Q 2919 1722 2741 1905 
Q 2563 2088 2228 2088 
z
M 1350 2484 
Q 925 2613 709 2878 
Q 494 3144 494 3541 
Q 494 4131 934 4440 
Q 1375 4750 2228 4750 
Q 3075 4750 3515 4442 
Q 3956 4134 3956 3541 
Q 3956 3144 3739 2878 
Q 3522 2613 3097 2484 
Q 3572 2353 3814 2058 
Q 4056 1763 4056 1313 
Q 4056 619 3595 264 
Q 3134 -91 2228 -91 
Q 1319 -91 855 264 
Q 391 619 391 1313 
Q 391 1763 633 2058 
Q 875 2353 1350 2484 
z
M 1631 3419 
Q 1631 3141 1786 2991 
Q 1941 2841 2228 2841 
Q 2509 2841 2662 2991 
Q 2816 3141 2816 3419 
Q 2816 3697 2662 3845 
Q 2509 3994 2228 3994 
Q 1941 3994 1786 3844 
Q 1631 3694 1631 3419 
z
" transform="scale(0.015625)"/>
      </defs>
      <use href="#DejaVuSans-Bold-38"/>
     </g>
    </g>
   </g>
   <g id="text_35">
    <g clip-path="url(#p07b7da3071)">
     <!-- 10 -->
     <g style="fill: #1e90ff" transform="translate(358.010086 269.845689) rotate(-30) scale(0.076 -0.076)">
      <use href="#DejaVuSans-Bold-31"/>
      <use href="#DejaVuSans-Bold-30" transform="translate(69.580078 0)"/>
     </g>
    </g>
   </g>
   <g id="text_36">
    <g clip-path="url(#p07b7da3071)">
     <!-- 13 -->
     <g style="fill: #1e90ff" transform="translate(374.414408 269.845689) rotate(-30) scale(0.076 -0.076)">
      <use href="#DejaVuSans-Bold-31"/>
      <use href="#DejaVuSans-Bold-33" transform="translate(69.580078 0)"/>
     </g>
    </g>
   </g>
   <g id="text_37">
    <g clip-path="url(#p07b7da3071)">
     <!-- 16 -->
     <g style="fill: #1e90ff" transform="translate(387.686635 269.845689) rotate(-30) scale(0.076 -0.076)">
      <use href="#DejaVuSans-Bold-31"/>
      <use href="#DejaVuSans-Bold-36" transform="translate(69.580078 0)"/>
     </g>
    </g>
   </g>
   <g id="text_38">
    <g clip-path="url(#p07b7da3071)">
     <!-- 20 -->
     <g style="fill: #1e90ff" transform="translate(402.228268 269.845689) rotate(-30) scale(0.076 -0.076)">
      <use href="#DejaVuSans-Bold-32"/>
      <use href="#DejaVuSans-Bold-30" transform="translate(69.580078 0)"/>
     </g>
    </g>
   </g>
   <g id="text_39">
    <g clip-path="url(#p07b7da3071)">
     <!-- 25 -->
     <g style="fill: #1e90ff" transform="translate(417.046679 269.845689) rotate(-30) scale(0.076 -0.076)">
      <use href="#DejaVuSans-Bold-32"/>
      <use href="#DejaVuSans-Bold-35" transform="translate(69.580078 0)"/>
     </g>
    </g>
   </g>
   <g id="text_40">
    <g clip-path="url(#p07b7da3071)">
     <!-- 30 -->
     <g style="fill: #1e90ff" transform="translate(429.347336 269.845689) rotate(-30) scale(0.076 -0.076)">
      <use href="#DejaVuSans-Bold-33"/>
      <use href="#DejaVuSans-Bold-30" transform="translate(69.580078 0)"/>
     </g>
    </g>
   </g>
   <g id="text_41">
    <g clip-path="url(#p07b7da3071)">
     <!-- 36 -->
     <g style="fill: #1e90ff" transform="translate(441.807321 269.845689) rotate(-30) scale(0.076 -0.076)">
      <use href="#DejaVuSans-Bold-33"/>
      <use href="#DejaVuSans-Bold-36" transform="translate(69.580078 0)"/>
     </g>
    </g>
   </g>
   <g id="text_42">
    <g clip-path="url(#p07b7da3071)">
     <!-- 42 -->
     <g style="fill: #1e90ff" transform="translate(452.453505 269.845689) rotate(-30) scale(0.076 -0.076)">
      <use href="#DejaVuSans-Bold-34"/>
      <use href="#DejaVuSans-Bold-32" transform="translate(69.580078 0)"/>
     </g>
    </g>
   </g>
   <g id="text_43">
    <path d="M 135.444166 38.342433 
L 137.048281 36.738317 
L 137.791473 37.481508 
L 136.187357 39.085624 
L 135.444166 38.342433 
z
M 139.143975 37.039804 
L 140.013075 36.170704 
L 137.547217 33.704846 
L 136.839182 34.780797 
L 136.169574 34.111189 
L 136.871886 33.040961 
L 137.807211 32.105635 
L 140.942678 35.241101 
L 141.811778 34.372001 
L 142.491197 35.05142 
L 139.823394 37.719223 
L 139.143975 37.039804 
z
M 143.346501 30.373055 
Q 142.631108 29.657662 142.205142 29.499867 
Q 141.778359 29.341254 141.461133 29.658479 
Q 141.144725 29.974888 141.301703 30.403306 
Q 141.457863 30.830907 142.173256 31.5463 
Q 142.896825 32.269869 143.329331 32.430935 
Q 143.76102 32.591183 144.077428 32.274775 
Q 144.392201 31.960002 144.231136 31.52913 
Q 144.07007 31.096624 143.346501 30.373055 
z
M 144.33824 29.397668 
Q 145.28583 30.345257 145.392117 31.269136 
Q 145.498404 32.193015 144.747036 32.944383 
Q 143.993216 33.698203 143.069337 33.591916 
Q 142.145458 33.485629 141.197869 32.538039 
Q 140.247009 31.58718 140.141539 30.664118 
Q 140.035252 29.740239 140.789072 28.986419 
Q 141.54044 28.235051 142.464319 28.341338 
Q 143.387381 28.446808 144.33824 29.397668 
z
M 146.987341 26.732215 
Q 146.271948 26.016822 145.845982 25.859026 
Q 145.419199 25.700413 145.101974 26.017639 
Q 144.785565 26.334047 144.942543 26.762466 
Q 145.098703 27.190066 145.814096 27.90546 
Q 146.537666 28.629029 146.970172 28.790094 
Q 147.40186 28.950342 147.718269 28.633934 
Q 148.033042 28.319161 147.871976 27.88829 
Q 147.71091 27.455784 146.987341 26.732215 
z
M 147.979081 25.756827 
Q 148.92667 26.704417 149.032957 27.628296 
Q 149.139244 28.552175 148.387877 29.303542 
Q 147.634057 30.057362 146.710177 29.951075 
Q 145.786298 29.844788 144.838709 28.897199 
Q 143.887849 27.946339 143.78238 27.023278 
Q 143.676093 26.099398 144.429913 25.345578 
Q 145.18128 24.594211 146.105159 24.700498 
Q 147.028221 24.805967 147.979081 25.756827 
z
" clip-path="url(#p07b7da3071)" style="fill: #ffffff; fill-opacity: 0.5; stroke: #ffffff; stroke-opacity: 0.5; stroke-width: 2"/>
   </g>
   <g id="text_44">
    <path d="M 151.098532 66.890551 
L 152.702647 65.286436 
L 153.445839 66.029627 
L 151.841723 67.633743 
L 151.098532 66.890551 
z
M 155.30443 66.272247 
L 154.598848 65.566665 
Q 154.943872 65.442391 155.21286 65.282961 
Q 155.482665 65.122713 155.691969 64.913409 
Q 156.131834 64.473544 156.133469 63.984624 
Q 156.134286 63.494887 155.697692 62.971628 
Q 155.651907 63.272502 155.518639 63.533313 
Q 155.385372 63.794125 155.155628 64.023869 
Q 154.570232 64.609265 153.870374 64.627252 
Q 153.170515 64.645239 152.613734 64.088459 
Q 151.99727 63.471994 152.026703 62.701822 
Q 152.056136 61.93165 152.728197 61.259589 
Q 153.474659 60.513128 154.387092 60.607968 
Q 155.298707 60.701992 156.218498 61.621783 
Q 157.164453 62.567737 157.22659 63.586457 
Q 157.289544 64.604359 156.456418 65.437486 
Q 156.188247 65.705656 155.902908 65.910872 
Q 155.618386 66.116905 155.30443 66.272247 
z
M 154.680607 63.221811 
Q 154.938967 62.963452 154.902175 62.666666 
Q 154.864566 62.369062 154.529353 62.033849 
Q 154.19741 61.701907 153.898989 61.66348 
Q 153.599751 61.624236 153.341391 61.882595 
Q 153.083032 62.140954 153.122277 62.440193 
Q 153.160703 62.738614 153.492646 63.070556 
Q 153.827859 63.405769 154.125462 63.443378 
Q 154.422248 63.48017 154.680607 63.221811 
z
M 159.000867 58.921174 
Q 158.285474 58.20578 157.859508 58.047985 
Q 157.432725 57.889372 157.115499 58.206598 
Q 156.799091 58.523006 156.956069 58.951424 
Q 157.112229 59.379025 157.827622 60.094418 
Q 158.551191 60.817987 158.983697 60.979053 
Q 159.415386 61.139301 159.731794 60.822893 
Q 160.046567 60.50812 159.885502 60.077249 
Q 159.724436 59.644743 159.000867 58.921174 
z
M 159.992606 57.945786 
Q 160.940196 58.893375 161.046483 59.817255 
Q 161.15277 60.741134 160.401402 61.492501 
Q 159.647582 62.246321 158.723703 62.140034 
Q 157.799824 62.033747 156.852235 61.086158 
Q 155.901375 60.135298 155.795905 59.212236 
Q 155.689618 58.288357 156.443438 57.534537 
Q 157.194806 56.78317 158.118685 56.889457 
Q 159.041746 56.994926 159.992606 57.945786 
z
" clip-path="url(#p07b7da3071)" style="fill: #ffffff; fill-opacity: 0.5; stroke: #ffffff; stroke-opacity: 0.5; stroke-width: 2"/>
   </g>
   <g id="text_45">
    <path d="M 166.547367 95.6442 
L 168.151483 94.040084 
L 168.894675 94.783275 
L 167.290559 96.387391 
L 166.547367 95.6442 
z
M 170.427864 92.105457 
Q 170.152336 92.380985 170.154789 92.681041 
Q 170.157241 92.979463 170.438493 93.260714 
Q 170.719745 93.541966 171.017348 93.543601 
Q 171.314952 93.543601 171.590481 93.268073 
Q 171.864374 92.994179 171.861104 92.699846 
Q 171.857016 92.404695 171.575764 92.123444 
Q 171.292059 91.839739 170.996909 91.835651 
Q 170.701758 91.831563 170.427864 92.105457 
z
M 169.386252 92.499536 
Q 168.933306 92.741543 168.540044 92.701481 
Q 168.146782 92.659784 167.822198 92.3352 
Q 167.339819 91.852821 167.446923 91.240444 
Q 167.554028 90.626432 168.251434 89.929026 
Q 168.943935 89.236525 169.555494 89.128603 
Q 170.16787 89.019864 170.652702 89.504696 
Q 170.977286 89.82928 171.017348 90.224177 
Q 171.056593 90.618256 170.814586 91.071202 
Q 171.310046 90.789951 171.749094 90.833283 
Q 172.188141 90.876615 172.556057 91.244532 
Q 173.123466 91.811941 173.036801 92.479096 
Q 172.950136 93.146251 172.209398 93.88699 
Q 171.466207 94.630181 170.796599 94.719299 
Q 170.126991 94.808416 169.559582 94.241007 
Q 169.191665 93.873091 169.148333 93.434044 
Q 169.105 92.994997 169.386252 92.499536 
z
M 168.851547 91.505344 
Q 169.078837 91.732634 169.328203 91.728547 
Q 169.577569 91.724459 169.812218 91.48981 
Q 170.041961 91.260066 170.044414 91.012336 
Q 170.047684 90.763788 169.820393 90.536497 
Q 169.593103 90.309206 169.34619 90.314112 
Q 169.099277 90.317382 168.869534 90.547126 
Q 168.634885 90.781775 168.630797 91.03114 
Q 168.626709 91.280506 168.851547 91.505344 
z
M 174.449703 87.674822 
Q 173.73431 86.959429 173.308344 86.801634 
Q 172.881561 86.643021 172.564335 86.960247 
Q 172.247927 87.276655 172.404905 87.705073 
Q 172.561065 88.132674 173.276458 88.848067 
Q 174.000027 89.571636 174.432533 89.732702 
Q 174.864222 89.89295 175.18063 89.576542 
Q 175.495403 89.261769 175.334338 88.830898 
Q 175.173272 88.398391 174.449703 87.674822 
z
M 175.441442 86.699435 
Q 176.389032 87.647024 176.495319 88.570903 
Q 176.601606 89.494782 175.850238 90.24615 
Q 175.096418 90.99997 174.172539 90.893683 
Q 173.24866 90.787396 172.30107 89.839806 
Q 171.350211 88.888947 171.244741 87.965885 
Q 171.138454 87.042006 171.892274 86.288186 
Q 172.643642 85.536818 173.567521 85.643105 
Q 174.490582 85.748575 175.441442 86.699435 
z
" clip-path="url(#p07b7da3071)" style="fill: #ffffff; fill-opacity: 0.5; stroke: #ffffff; stroke-opacity: 0.5; stroke-width: 2"/>
   </g>
   <g id="text_46">
    <path d="M 183.447941 122.946111 
L 185.052057 121.341995 
L 185.795248 122.085186 
L 184.191133 123.689302 
L 183.447941 122.946111 
z
M 183.74902 118.77128 
L 186.623674 115.896626 
L 187.178001 116.450954 
L 188.951359 121.198712 
L 187.993141 122.15693 
L 186.309718 117.65772 
L 184.472589 119.49485 
L 183.74902 118.77128 
z
M 191.350277 114.976733 
Q 190.634883 114.26134 190.208918 114.103544 
Q 189.782135 113.944931 189.464909 114.262157 
Q 189.148501 114.578565 189.305478 115.006984 
Q 189.461639 115.434584 190.177032 116.149978 
Q 190.900601 116.873547 191.333107 117.034612 
Q 191.764796 117.19486 192.081204 116.878452 
Q 192.395977 116.563679 192.234911 116.132808 
Q 192.073846 115.700302 191.350277 114.976733 
z
M 192.342016 114.001345 
Q 193.289605 114.948935 193.395892 115.872814 
Q 193.502179 116.796693 192.750812 117.54806 
Q 191.996992 118.30188 191.073113 118.195593 
Q 190.149234 118.089306 189.201644 117.141717 
Q 188.250784 116.190857 188.145315 115.267796 
Q 188.039028 114.343916 188.792848 113.590096 
Q 189.544215 112.838729 190.468095 112.945016 
Q 191.391156 113.050486 192.342016 114.001345 
z
" clip-path="url(#p07b7da3071)" style="fill: #ffffff; fill-opacity: 0.5; stroke: #ffffff; stroke-opacity: 0.5; stroke-width: 2"/>
   </g>
   <g id="text_47">
    <path d="M 201.660678 148.935858 
L 203.264794 147.331742 
L 204.007986 148.074933 
L 202.40387 149.679049 
L 201.660678 148.935858 
z
M 205.437341 145.149384 
Q 205.178982 145.407743 205.217409 145.704529 
Q 205.255018 146.000497 205.590231 146.33571 
Q 205.924626 146.670105 206.221412 146.708532 
Q 206.517381 146.746142 206.77574 146.487782 
Q 207.035734 146.227788 206.998125 145.93182 
Q 206.959698 145.635034 206.625303 145.300639 
Q 206.29009 144.965426 205.994122 144.927816 
Q 205.697336 144.88939 205.437341 145.149384 
z
M 204.820877 142.1014 
L 205.526459 142.806982 
Q 205.168353 142.934527 204.898548 143.094775 
Q 204.62956 143.254205 204.425162 143.458603 
Q 203.986115 143.89765 203.985298 144.387388 
Q 203.983662 144.876308 204.422709 145.397114 
Q 204.466042 145.103599 204.600127 144.84524 
Q 204.734212 144.585245 204.967226 144.352232 
Q 205.551804 143.767653 206.253298 143.751301 
Q 206.953975 143.734132 207.508302 144.288459 
Q 208.121497 144.901654 208.08961 145.672643 
Q 208.058542 146.442815 207.384028 147.117328 
Q 206.640837 147.86052 205.730857 147.766497 
Q 204.820877 147.670838 203.898633 146.748594 
Q 202.953496 145.803458 202.889724 144.786373 
Q 202.825952 143.769288 203.655808 142.939432 
Q 203.919073 142.676168 204.207683 142.469317 
Q 204.496293 142.262466 204.820877 142.1014 
z
M 209.563014 140.96648 
Q 208.847621 140.251087 208.421655 140.093292 
Q 207.994872 139.934679 207.677646 140.251904 
Q 207.361238 140.568313 207.518216 140.996731 
Q 207.674376 141.424332 208.389769 142.139725 
Q 209.113338 142.863294 209.545844 143.02436 
Q 209.977533 143.184608 210.293941 142.868199 
Q 210.608714 142.553426 210.447649 142.122555 
Q 210.286583 141.690049 209.563014 140.96648 
z
M 210.554753 139.991092 
Q 211.502343 140.938682 211.60863 141.862561 
Q 211.714917 142.78644 210.963549 143.537808 
Q 210.209729 144.291628 209.28585 144.185341 
Q 208.361971 144.079054 207.414382 143.131464 
Q 206.463522 142.180604 206.358052 141.257543 
Q 206.251765 140.333664 207.005585 139.579844 
Q 207.756953 138.828476 208.680832 138.934763 
Q 209.603893 139.040233 210.554753 139.991092 
z
" clip-path="url(#p07b7da3071)" style="fill: #ffffff; fill-opacity: 0.5; stroke: #ffffff; stroke-opacity: 0.5; stroke-width: 2"/>
   </g>
   <g id="text_48">
    <path d="M 221.065214 173.733807 
L 222.66933 172.129691 
L 223.412521 172.872883 
L 221.808405 174.476998 
L 221.065214 173.733807 
z
M 221.57069 169.354579 
L 224.016108 166.909161 
L 224.739678 167.63273 
L 223.079148 169.293259 
L 223.669449 169.883561 
Q 223.750391 169.740482 223.847684 169.610485 
Q 223.94416 169.47967 224.066799 169.357032 
Q 224.764205 168.659625 225.501673 168.620381 
Q 226.239142 168.581137 226.862147 169.204142 
Q 227.480247 169.822242 227.408299 170.595684 
Q 227.335533 171.368308 226.584166 172.119676 
Q 226.259581 172.44426 225.878583 172.699349 
Q 225.497586 172.954437 225.056086 173.140848 
L 224.281826 172.366589 
Q 224.772381 172.234139 225.141933 172.044457 
Q 225.510667 171.853958 225.759215 171.60541 
Q 226.116503 171.248122 226.146754 170.867942 
Q 226.177822 170.486944 225.878583 170.187705 
Q 225.576892 169.886014 225.197529 169.918717 
Q 224.818166 169.949786 224.460879 170.307074 
Q 224.248305 170.519648 224.063529 170.815616 
Q 223.878753 171.109949 223.71687 171.500758 
L 221.57069 169.354579 
z
M 228.967549 165.764429 
Q 228.252156 165.049036 227.82619 164.891241 
Q 227.399407 164.732628 227.082181 165.049854 
Q 226.765773 165.366262 226.922751 165.79468 
Q 227.078911 166.222281 227.794304 166.937674 
Q 228.517873 167.661243 228.95038 167.822309 
Q 229.382068 167.982557 229.698477 167.666149 
Q 230.01325 167.351376 229.852184 166.920505 
Q 229.691118 166.487998 228.967549 165.764429 
z
M 229.959288 164.789042 
Q 230.906878 165.736631 231.013165 166.66051 
Q 231.119452 167.58439 230.368085 168.335757 
Q 229.614265 169.089577 228.690385 168.98329 
Q 227.766506 168.877003 226.818917 167.929413 
Q 225.868057 166.978554 225.762588 166.055492 
Q 225.656301 165.131613 226.410121 164.377793 
Q 227.161488 163.626426 228.085367 163.732713 
Q 229.008429 163.838182 229.959288 164.789042 
z
" clip-path="url(#p07b7da3071)" style="fill: #ffffff; fill-opacity: 0.5; stroke: #ffffff; stroke-opacity: 0.5; stroke-width: 2"/>
   </g>
   <g id="text_49">
    <path d="M 241.557019 197.444486 
L 243.161135 195.84037 
L 243.904327 196.583561 
L 242.300211 198.187677 
L 241.557019 197.444486 
z
M 244.244649 192.503572 
L 244.76382 195.177916 
L 245.841407 194.100329 
L 244.244649 192.503572 
z
M 243.270897 191.856856 
L 244.364835 190.762918 
L 246.771827 193.169909 
L 247.315526 192.626211 
L 248.028466 193.339151 
L 247.484767 193.88285 
L 248.179721 194.577803 
L 247.249301 195.508223 
L 246.554347 194.81327 
L 244.863567 196.504051 
L 244.020629 195.661113 
L 243.270897 191.856856 
z
M 249.459355 189.475108 
Q 248.743962 188.759715 248.317996 188.60192 
Q 247.891213 188.443307 247.573987 188.760532 
Q 247.257579 189.076941 247.414557 189.505359 
Q 247.570717 189.93296 248.28611 190.648353 
Q 249.009679 191.371922 249.442185 191.532988 
Q 249.873874 191.693236 250.190282 191.376828 
Q 250.505055 191.062055 250.34399 190.631183 
Q 250.182924 190.198677 249.459355 189.475108 
z
M 250.451094 188.499721 
Q 251.398683 189.44731 251.50497 190.371189 
Q 251.611257 191.295068 250.85989 192.046436 
Q 250.10607 192.800256 249.182191 192.693969 
Q 248.258312 192.587682 247.310722 191.640092 
Q 246.359863 190.689232 246.254393 189.766171 
Q 246.148106 188.842292 246.901926 188.088472 
Q 247.653294 187.337104 248.577173 187.443391 
Q 249.500234 187.548861 250.451094 188.499721 
z
" clip-path="url(#p07b7da3071)" style="fill: #ffffff; fill-opacity: 0.5; stroke: #ffffff; stroke-opacity: 0.5; stroke-width: 2"/>
   </g>
   <g id="text_50">
    <path d="M 263.044744 220.159246 
L 264.64886 218.55513 
L 265.392051 219.298322 
L 263.787935 220.902437 
L 263.044744 220.159246 
z
M 267.190958 215.654926 
Q 267.676608 215.368769 268.123831 215.415372 
Q 268.571054 215.460339 268.952052 215.841337 
Q 269.519461 216.408746 269.379653 217.138856 
Q 269.240662 217.868148 268.408353 218.700457 
Q 268.11402 218.99479 267.771449 219.242521 
Q 267.428878 219.490251 267.045427 219.684021 
L 266.286701 218.925295 
Q 266.70122 218.787122 267.042974 218.585994 
Q 267.385545 218.384049 267.64881 218.120784 
Q 268.039619 217.729975 268.113202 217.386587 
Q 268.185968 217.04238 267.932514 216.788927 
Q 267.671702 216.528115 267.324226 216.607421 
Q 266.976749 216.686728 266.559777 217.1037 
L 266.166515 217.496961 
L 265.532881 216.863328 
L 265.946583 216.449626 
Q 266.31777 216.078439 266.382359 215.781653 
Q 266.447767 215.484049 266.209848 215.24613 
Q 265.990733 215.027015 265.693947 215.083429 
Q 265.397978 215.139026 265.075847 215.461157 
Q 264.838745 215.698259 264.649882 215.995045 
Q 264.4602 216.291013 264.32448 216.636037 
L 263.604181 215.915738 
Q 263.813485 215.542916 264.058762 215.215879 
Q 264.30404 214.888842 264.580386 214.612496 
Q 265.323578 213.869305 265.936772 213.745031 
Q 266.549966 213.619122 267.040521 214.109677 
Q 267.374916 214.444072 267.411708 214.834064 
Q 267.449317 215.223238 267.190958 215.654926 
z
M 270.947079 212.189868 
Q 270.231686 211.474475 269.80572 211.31668 
Q 269.378937 211.158067 269.061711 211.475293 
Q 268.745303 211.791701 268.902281 212.220119 
Q 269.058441 212.64772 269.773834 213.363113 
Q 270.497403 214.086682 270.92991 214.247748 
Q 271.361598 214.407996 271.678006 214.091588 
Q 271.992779 213.776815 271.831714 213.345944 
Q 271.670648 212.913437 270.947079 212.189868 
z
M 271.938818 211.214481 
Q 272.886408 212.16207 272.992695 213.085949 
Q 273.098982 214.009828 272.347615 214.761196 
Q 271.593794 215.515016 270.669915 215.408729 
Q 269.746036 215.302442 268.798447 214.354852 
Q 267.847587 213.403993 267.742118 212.480931 
Q 267.635831 211.557052 268.389651 210.803232 
Q 269.141018 210.051865 270.064897 210.158152 
Q 270.987959 210.263621 271.938818 211.214481 
z
" clip-path="url(#p07b7da3071)" style="fill: #ffffff; fill-opacity: 0.5; stroke: #ffffff; stroke-opacity: 0.5; stroke-width: 2"/>
   </g>
   <g id="text_51">
    <path d="M 285.448085 241.958389 
L 287.052201 240.354273 
L 287.795392 241.097465 
L 286.191276 242.701581 
L 285.448085 241.958389 
z
M 289.999008 239.717982 
L 291.677525 238.039465 
L 292.400276 238.762217 
L 289.627821 241.534672 
L 288.905069 240.811921 
L 289.06777 238.189902 
Q 289.086575 237.83425 289.014627 237.584066 
Q 288.942679 237.333883 288.769349 237.160554 
Q 288.501179 236.892383 288.15779 236.908735 
Q 287.814401 236.925087 287.515163 237.224326 
Q 287.285419 237.454069 287.109637 237.826074 
Q 286.934672 238.197261 286.817756 238.70335 
L 285.979724 237.865318 
Q 286.20211 237.423818 286.469462 237.042003 
Q 286.735997 236.65937 287.0475 236.347867 
Q 287.732642 235.662725 288.413696 235.585053 
Q 289.093933 235.506565 289.633544 236.046175 
Q 289.945047 236.357678 290.053786 236.788549 
Q 290.161709 237.218603 290.098754 238.187449 
L 289.999008 239.717982 
z
M 293.35042 233.989011 
Q 292.635027 233.273618 292.209062 233.115823 
Q 291.782279 232.95721 291.465053 233.274436 
Q 291.148645 233.590844 291.305622 234.019262 
Q 291.461782 234.446863 292.177176 235.162256 
Q 292.900745 235.885825 293.333251 236.046891 
Q 293.76494 236.207139 294.081348 235.890731 
Q 294.396121 235.575958 294.235055 235.145087 
Q 294.07399 234.71258 293.35042 233.989011 
z
M 294.34216 233.013624 
Q 295.289749 233.961213 295.396036 234.885092 
Q 295.502323 235.808972 294.750956 236.560339 
Q 293.997136 237.314159 293.073257 237.207872 
Q 292.149378 237.101585 291.201788 236.153995 
Q 290.250928 235.203136 290.145459 234.280074 
Q 290.039172 233.356195 290.792992 232.602375 
Q 291.544359 231.851008 292.468238 231.957295 
Q 293.3913 232.062764 294.34216 233.013624 
z
" clip-path="url(#p07b7da3071)" style="fill: #ffffff; fill-opacity: 0.5; stroke: #ffffff; stroke-opacity: 0.5; stroke-width: 2"/>
   </g>
   <g id="text_52">
    <path d="M 308.696079 262.91288 
L 310.300195 261.308764 
L 311.043386 262.051955 
L 309.43927 263.656071 
L 308.696079 262.91288 
z
M 312.395888 261.610251 
L 313.264989 260.74115 
L 310.799131 258.275292 
L 310.091096 259.351244 
L 309.421488 258.681636 
L 310.1238 257.611407 
L 311.059125 256.676082 
L 314.194591 259.811548 
L 315.063692 258.942447 
L 315.743111 259.621867 
L 313.075307 262.28967 
L 312.395888 261.610251 
z
M 316.598414 254.943502 
Q 315.883021 254.228109 315.457056 254.070313 
Q 315.030273 253.9117 314.713047 254.228926 
Q 314.396639 254.545334 314.553616 254.973753 
Q 314.709776 255.401353 315.42517 256.116747 
Q 316.148739 256.840316 316.581245 257.001381 
Q 317.012934 257.161629 317.329342 256.845221 
Q 317.644115 256.530448 317.483049 256.099577 
Q 317.321984 255.667071 316.598414 254.943502 
z
M 317.590154 253.968114 
Q 318.537743 254.915704 318.64403 255.839583 
Q 318.750317 256.763462 317.99895 257.514829 
Q 317.24513 258.268649 316.321251 258.162362 
Q 315.397372 258.056075 314.449782 257.108486 
Q 313.498922 256.157626 313.393453 255.234565 
Q 313.287166 254.310685 314.040986 253.556865 
Q 314.792353 252.805498 315.716232 252.911785 
Q 316.639294 253.017254 317.590154 253.968114 
z
" clip-path="url(#p07b7da3071)" style="fill: #ffffff; fill-opacity: 0.5; stroke: #ffffff; stroke-opacity: 0.5; stroke-width: 2"/>
   </g>
   <g id="text_53">
    <path d="M 337.721602 278.022799 
Q 337.006208 277.307406 336.580243 277.149611 
Q 336.15346 276.990998 335.836234 277.308223 
Q 335.519826 277.624632 335.676804 278.05305 
Q 335.832964 278.480651 336.548357 279.196044 
Q 337.271926 279.919613 337.704432 280.080679 
Q 338.136121 280.240927 338.452529 279.924518 
Q 338.767302 279.609745 338.606236 279.178874 
Q 338.445171 278.746368 337.721602 278.022799 
z
M 338.713341 277.047411 
Q 339.66093 277.995001 339.767217 278.91888 
Q 339.873504 279.842759 339.122137 280.594127 
Q 338.368317 281.347947 337.444438 281.24166 
Q 336.520559 281.135373 335.572969 280.187783 
Q 334.62211 279.236923 334.51664 278.313862 
Q 334.410353 277.389983 335.164173 276.636163 
Q 335.91554 275.884795 336.83942 275.991082 
Q 337.762481 276.096552 338.713341 277.047411 
z
" clip-path="url(#p07b7da3071)" style="fill: #ffffff; fill-opacity: 0.5; stroke: #ffffff; stroke-opacity: 0.5; stroke-width: 2"/>
   </g>
   <g id="text_54">
    <path d="M 360.094582 302.316526 
L 360.963683 301.447425 
L 358.497825 298.981567 
L 357.78979 300.057518 
L 357.120182 299.38791 
L 357.822494 298.317682 
L 358.757819 297.382357 
L 361.893285 300.517823 
L 362.762386 299.648722 
L 363.441805 300.328141 
L 360.774001 302.995945 
L 360.094582 302.316526 
z
M 364.297109 295.649777 
Q 363.581715 294.934383 363.15575 294.776588 
Q 362.728967 294.617975 362.411741 294.935201 
Q 362.095333 295.251609 362.25231 295.680028 
Q 362.408471 296.107628 363.123864 296.823021 
Q 363.847433 297.546591 364.279939 297.707656 
Q 364.711628 297.867904 365.028036 297.551496 
Q 365.342809 297.236723 365.181743 296.805852 
Q 365.020678 296.373346 364.297109 295.649777 
z
M 365.288848 294.674389 
Q 366.236437 295.621978 366.342724 296.545858 
Q 366.449011 297.469737 365.697644 298.221104 
Q 364.943824 298.974924 364.019945 298.868637 
Q 363.096066 298.76235 362.148476 297.814761 
Q 361.197616 296.863901 361.092147 295.940839 
Q 360.98586 295.01696 361.73968 294.26314 
Q 362.491047 293.511773 363.414927 293.61806 
Q 364.337988 293.723529 365.288848 294.674389 
z
" clip-path="url(#p07b7da3071)" style="fill: #ffffff; fill-opacity: 0.5; stroke: #ffffff; stroke-opacity: 0.5; stroke-width: 2"/>
   </g>
   <g id="text_55">
    <path d="M 386.375777 320.151151 
L 388.054293 318.472634 
L 388.777045 319.195386 
L 386.00459 321.967841 
L 385.281838 321.24509 
L 385.444539 318.623071 
Q 385.463344 318.267419 385.391396 318.017236 
Q 385.319447 317.767052 385.146118 317.593723 
Q 384.877948 317.325553 384.534559 317.341904 
Q 384.19117 317.358256 383.891931 317.657495 
Q 383.662188 317.887238 383.486406 318.259243 
Q 383.311441 318.63043 383.194525 319.136519 
L 382.356493 318.298487 
Q 382.578878 317.856988 382.846231 317.475172 
Q 383.112766 317.092539 383.424269 316.781036 
Q 384.109411 316.095894 384.790465 316.018223 
Q 385.470702 315.939734 386.010313 316.479345 
Q 386.321815 316.790847 386.430555 317.221718 
Q 386.538477 317.651772 386.475523 318.620619 
L 386.375777 320.151151 
z
M 389.727189 314.42218 
Q 389.011796 313.706787 388.58583 313.548992 
Q 388.159047 313.390379 387.841822 313.707605 
Q 387.525413 314.024013 387.682391 314.452431 
Q 387.838551 314.880032 388.553944 315.595425 
Q 389.277514 316.318994 389.71002 316.48006 
Q 390.141708 316.640308 390.458117 316.3239 
Q 390.77289 316.009127 390.611824 315.578256 
Q 390.450758 315.14575 389.727189 314.42218 
z
M 390.718929 313.446793 
Q 391.666518 314.394382 391.772805 315.318261 
Q 391.879092 316.242141 391.127725 316.993508 
Q 390.373905 317.747328 389.450025 317.641041 
Q 388.526146 317.534754 387.578557 316.587165 
Q 386.627697 315.636305 386.522228 314.713243 
Q 386.415941 313.789364 387.169761 313.035544 
Q 387.921128 312.284177 388.845007 312.390464 
Q 389.768069 312.495933 390.718929 313.446793 
z
" clip-path="url(#p07b7da3071)" style="fill: #ffffff; fill-opacity: 0.5; stroke: #ffffff; stroke-opacity: 0.5; stroke-width: 2"/>
   </g>
   <g id="text_56">
    <path d="M 412.030899 336.029893 
Q 412.516548 335.743735 412.963771 335.790338 
Q 413.410994 335.835306 413.791992 336.216304 
Q 414.359401 336.783713 414.219593 337.513822 
Q 414.080602 338.243115 413.248294 339.075424 
Q 412.95396 339.369757 412.611389 339.617487 
Q 412.268818 339.865218 411.885367 340.058987 
L 411.126642 339.300261 
Q 411.541161 339.162088 411.882914 338.960961 
Q 412.225486 338.759015 412.48875 338.495751 
Q 412.879559 338.104942 412.953143 337.761553 
Q 413.025908 337.417347 412.772455 337.163893 
Q 412.511643 336.903081 412.164166 336.982388 
Q 411.81669 337.061694 411.399718 337.478666 
L 411.006456 337.871928 
L 410.372822 337.238294 
L 410.786523 336.824592 
Q 411.15771 336.453405 411.2223 336.156619 
Q 411.287707 335.859016 411.049788 335.621096 
Q 410.830673 335.401982 410.533887 335.458396 
Q 410.237919 335.513992 409.915788 335.836123 
Q 409.678686 336.073225 409.489822 336.370011 
Q 409.300141 336.665979 409.16442 337.011003 
L 408.444122 336.290704 
Q 408.653425 335.917882 408.898703 335.590846 
Q 409.143981 335.263809 409.420327 334.987463 
Q 410.163518 334.244271 410.776712 334.119997 
Q 411.389906 333.994088 411.880462 334.484643 
Q 412.214857 334.819039 412.251649 335.20903 
Q 412.289258 335.598204 412.030899 336.029893 
z
M 415.78702 332.564835 
Q 415.071626 331.849441 414.645661 331.691646 
Q 414.218878 331.533033 413.901652 331.850259 
Q 413.585244 332.166667 413.742221 332.595085 
Q 413.898382 333.022686 414.613775 333.738079 
Q 415.337344 334.461649 415.76985 334.622714 
Q 416.201539 334.782962 416.517947 334.466554 
Q 416.83272 334.151781 416.671654 333.72091 
Q 416.510589 333.288404 415.78702 332.564835 
z
M 416.778759 331.589447 
Q 417.726348 332.537036 417.832635 333.460916 
Q 417.938922 334.384795 417.187555 335.136162 
Q 416.433735 335.889982 415.509856 335.783695 
Q 414.585977 335.677408 413.638387 334.729819 
Q 412.687527 333.778959 412.582058 332.855897 
Q 412.475771 331.932018 413.229591 331.178198 
Q 413.980958 330.426831 414.904838 330.533118 
Q 415.827899 330.638587 416.778759 331.589447 
z
" clip-path="url(#p07b7da3071)" style="fill: #ffffff; fill-opacity: 0.5; stroke: #ffffff; stroke-opacity: 0.5; stroke-width: 2"/>
   </g>
   <g id="text_57">
    <path d="M 437.22101 353.147087 
L 437.740181 355.821431 
L 438.817768 354.743845 
L 437.22101 353.147087 
z
M 436.247258 352.500371 
L 437.341196 351.406433 
L 439.748188 353.813425 
L 440.291886 353.269726 
L 441.004827 353.982666 
L 440.461128 354.526365 
L 441.156081 355.221318 
L 440.225661 356.151738 
L 439.530708 355.456785 
L 437.839927 357.147566 
L 436.99699 356.304628 
L 436.247258 352.500371 
z
M 442.435715 350.118623 
Q 441.720322 349.40323 441.294357 349.245435 
Q 440.867574 349.086822 440.550348 349.404048 
Q 440.23394 349.720456 440.390917 350.148874 
Q 440.547077 350.576475 441.262471 351.291868 
Q 441.98604 352.015437 442.418546 352.176503 
Q 442.850235 352.336751 443.166643 352.020343 
Q 443.481416 351.70557 443.32035 351.274699 
Q 443.159285 350.842192 442.435715 350.118623 
z
M 443.427455 349.143236 
Q 444.375044 350.090825 444.481331 351.014704 
Q 444.587618 351.938583 443.836251 352.689951 
Q 443.082431 353.443771 442.158552 353.337484 
Q 441.234672 353.231197 440.287083 352.283607 
Q 439.336223 351.332748 439.230754 350.409686 
Q 439.124467 349.485807 439.878287 348.731987 
Q 440.629654 347.98062 441.553533 348.086906 
Q 442.476595 348.192376 443.427455 349.143236 
z
" clip-path="url(#p07b7da3071)" style="fill: #ffffff; fill-opacity: 0.5; stroke: #ffffff; stroke-opacity: 0.5; stroke-width: 2"/>
   </g>
   <g id="line2d_56">
    <path d="M 241.063547 21.9 
L 240.848376 23.182979 
L 240.417367 24.465957 
L 239.545707 26.176596 
L 238.383373 27.887234 
L 236.602687 30.025532 
L 234.122198 32.591489 
L 230.474748 36.012766 
L 224.401142 41.57234 
L 222.890928 43.282979 
L 221.669084 44.993617 
L 220.757338 46.704255 
L 220.290092 47.987234 
L 219.933452 49.697872 
L 219.468665 53.974468 
L 218.731843 59.961702 
L 217.910045 64.665957 
L 216.061002 73.646809 
L 214.961889 77.923404 
L 213.866527 81.344681 
L 212.696004 84.338298 
L 211.28275 87.331915 
L 209.846194 89.897872 
L 207.920645 92.891489 
L 204.003056 98.451064 
L 201.087468 102.72766 
L 199.304239 105.721277 
L 198.048638 108.287234 
L 197.079004 110.853191 
L 196.054518 114.274468 
L 194.651092 118.978723 
L 193.648558 121.544681 
L 191.832723 125.821277 
L 191.374608 127.531915 
L 191.282985 128.814894 
L 191.429307 129.670213 
L 191.800901 130.525532 
L 192.44577 131.380851 
L 193.356591 132.23617 
L 195.09554 133.519149 
L 199.183659 136.085106 
L 203.070614 138.651064 
L 207.7937 142.07234 
L 212.777173 145.921277 
L 214.698117 147.631915 
L 215.905977 148.914894 
L 216.863391 150.197872 
L 217.593284 151.480851 
L 218.296904 153.191489 
L 218.906022 155.329787 
L 219.69368 158.323404 
L 220.282872 159.606383 
L 220.870815 160.461702 
L 221.668299 161.317021 
L 222.721113 162.17234 
L 224.067118 163.02766 
L 226.531872 164.310638 
L 234.462699 168.159574 
L 237.355741 169.870213 
L 240.475416 172.008511 
L 242.002293 173.291489 
L 242.734726 174.146809 
L 243.148145 175.002128 
L 243.180557 175.857447 
L 242.87247 176.712766 
L 242.305562 177.568085 
L 241.148824 178.851064 
L 238.462001 181.417021 
L 236.766981 182.7 
L 234.571554 183.982979 
L 232.722309 184.838298 
L 230.469211 185.693617 
L 227.728641 186.548936 
L 222.794092 187.831915 
L 207.129544 191.680851 
L 201.177588 193.391489 
L 196.086299 195.102128 
L 191.808185 196.812766 
L 189.094891 198.095745 
L 186.782724 199.378723 
L 184.893368 200.661702 
L 183.465315 201.944681 
L 182.788112 202.8 
L 182.318148 203.655319 
L 181.887114 204.938298 
L 181.090851 207.931915 
L 180.475656 208.787234 
L 179.451695 209.642553 
L 177.230925 210.925532 
L 172.463152 213.491489 
L 168.533885 215.629787 
L 164.803374 217.340426 
L 157.058443 220.761702 
L 154.742936 222.044681 
L 153.5869 222.9 
L 152.834573 223.755319 
L 152.634873 224.182979 
L 152.566187 224.610638 
L 152.638544 225.038298 
L 152.861973 225.465957 
L 153.246502 225.893617 
L 154.529841 226.748936 
L 156.488104 227.604255 
L 159.080998 228.459574 
L 163.856218 229.742553 
L 175.674638 232.73617 
L 179.518278 234.019149 
L 181.44148 234.874468 
L 182.83437 235.729787 
L 183.754134 236.585106 
L 184.322016 237.440426 
L 184.784057 238.723404 
L 185.284365 240.861702 
L 185.334662 242.144681 
L 185.151488 243 
L 184.732221 243.855319 
L 184.055028 244.710638 
L 183.143002 245.565957 
L 181.392578 246.848936 
L 179.262735 248.131915 
L 175.987213 249.842553 
L 169.651519 252.83617 
L 164.341827 255.402128 
L 161.294157 257.112766 
L 159.510678 258.395745 
L 158.646283 259.251064 
L 158.094708 260.106383 
L 157.901506 260.961702 
L 158.112231 261.817021 
L 158.766072 262.67234 
L 159.8681 263.52766 
L 161.412003 264.382979 
L 163.391241 265.238298 
L 168.267208 266.948936 
L 172.980655 268.659574 
L 174.84223 269.514894 
L 176.328099 270.370213 
L 177.436149 271.225532 
L 178.171261 272.080851 
L 178.599312 272.93617 
L 178.878688 274.219149 
L 179.205099 276.357447 
L 179.624406 277.212766 
L 180.408528 278.068085 
L 181.681779 278.923404 
L 183.419895 279.778723 
L 186.602325 281.061702 
L 195.457499 284.482979 
L 198.181919 285.765957 
L 200.353838 287.048936 
L 201.98862 288.331915 
L 203.168012 289.614894 
L 203.978524 290.897872 
L 204.499473 291.753191 
L 205.362445 292.608511 
L 206.026709 293.03617 
L 208.028579 293.891489 
L 211.006551 294.746809 
L 216.668458 296.029787 
L 228.384638 298.595745 
L 231.563169 299.451064 
L 234.081755 300.306383 
L 235.771846 301.161702 
L 236.293036 301.589362 
L 236.619785 302.017021 
L 236.769681 302.444681 
L 236.760312 302.87234 
L 236.608589 303.3 
L 236.31956 303.72766 
L 235.308995 304.582979 
L 233.649543 305.438298 
L 232.410439 305.865957 
L 230.731478 306.293617 
L 228.485077 306.721277 
L 222.156363 307.576596 
L 209.49168 308.859574 
L 186.763809 310.997872 
L 179.487303 311.853191 
L 174.461898 312.708511 
L 173.039818 313.13617 
L 172.444895 313.56383 
L 172.738383 313.991489 
L 173.924722 314.419149 
L 178.106635 315.274468 
L 186.084461 316.557447 
L 211.677994 320.406383 
L 215.35604 321.261702 
L 220.319989 322.544681 
L 224.541091 323.4 
L 231.706344 324.682979 
L 242.098492 326.821277 
L 248.285152 327.676596 
L 257.563859 328.959574 
L 261.714342 329.814894 
L 270.213572 331.953191 
L 278.604875 333.66383 
L 283.404096 334.946809 
L 289.357672 336.657447 
L 304.256188 340.506383 
L 306.369477 341.361702 
L 307.905739 342.217021 
L 308.859405 343.07234 
L 309.116039 343.5 
L 309.233985 344.355319 
L 309.010192 345.210638 
L 308.542358 346.493617 
L 308.465207 347.348936 
L 308.7442 348.631915 
L 309.093581 349.914894 
L 309.13874 350.770213 
L 308.875133 351.625532 
L 308.247048 352.480851 
L 305.372718 355.474468 
L 305.011011 356.329787 
L 305.025447 357.185106 
L 305.451089 358.040426 
L 306.226842 358.895745 
L 307.797261 360.178723 
L 310.544329 362.317021 
L 311.35428 363.17234 
L 311.64005 363.6 
L 311.64005 363.6 
" clip-path="url(#p07b7da3071)" style="fill: none; stroke: #008000; stroke-width: 1.5; stroke-linecap: square"/>
   </g>
   <g id="text_58">
    <g clip-path="url(#p07b7da3071)">
     <!-- -100 -->
     <g style="fill: #1f77b4" transform="translate(137.03847 40.504147) rotate(-45) scale(0.074 -0.074)">
      <defs>
       <path id="DejaVuSans-Bold-2d" d="M 347 2297 
L 2309 2297 
L 2309 1388 
L 347 1388 
L 347 2297 
z
" transform="scale(0.015625)"/>
      </defs>
      <use href="#DejaVuSans-Bold-2d"/>
      <use href="#DejaVuSans-Bold-31" transform="translate(41.503906 0)"/>
      <use href="#DejaVuSans-Bold-30" transform="translate(111.083984 0)"/>
      <use href="#DejaVuSans-Bold-30" transform="translate(180.664062 0)"/>
     </g>
    </g>
   </g>
   <g id="text_59">
    <g clip-path="url(#p07b7da3071)">
     <!-- -90 -->
     <g style="fill: #1f77b4" transform="translate(152.692836 69.052265) rotate(-45) scale(0.074 -0.074)">
      <defs>
       <path id="DejaVuSans-Bold-39" d="M 641 103 
L 641 966 
Q 928 831 1190 764 
Q 1453 697 1709 697 
Q 2247 697 2547 995 
Q 2847 1294 2900 1881 
Q 2688 1725 2447 1647 
Q 2206 1569 1925 1569 
Q 1209 1569 770 1986 
Q 331 2403 331 3084 
Q 331 3838 820 4291 
Q 1309 4744 2131 4744 
Q 3044 4744 3544 4128 
Q 4044 3513 4044 2388 
Q 4044 1231 3459 570 
Q 2875 -91 1856 -91 
Q 1528 -91 1228 -42 
Q 928 6 641 103 
z
M 2125 2350 
Q 2441 2350 2600 2554 
Q 2759 2759 2759 3169 
Q 2759 3575 2600 3781 
Q 2441 3988 2125 3988 
Q 1809 3988 1650 3781 
Q 1491 3575 1491 3169 
Q 1491 2759 1650 2554 
Q 1809 2350 2125 2350 
z
" transform="scale(0.015625)"/>
      </defs>
      <use href="#DejaVuSans-Bold-2d"/>
      <use href="#DejaVuSans-Bold-39" transform="translate(41.503906 0)"/>
      <use href="#DejaVuSans-Bold-30" transform="translate(111.083984 0)"/>
     </g>
    </g>
   </g>
   <g id="text_60">
    <g clip-path="url(#p07b7da3071)">
     <!-- -80 -->
     <g style="fill: #1f77b4" transform="translate(168.141672 97.805914) rotate(-45) scale(0.074 -0.074)">
      <use href="#DejaVuSans-Bold-2d"/>
      <use href="#DejaVuSans-Bold-38" transform="translate(41.503906 0)"/>
      <use href="#DejaVuSans-Bold-30" transform="translate(111.083984 0)"/>
     </g>
    </g>
   </g>
   <g id="text_61">
    <g clip-path="url(#p07b7da3071)">
     <!-- -70 -->
     <g style="fill: #1f77b4" transform="translate(185.042246 125.107825) rotate(-45) scale(0.074 -0.074)">
      <defs>
       <path id="DejaVuSans-Bold-37" d="M 428 4666 
L 3944 4666 
L 3944 3988 
L 2125 0 
L 953 0 
L 2675 3781 
L 428 3781 
L 428 4666 
z
" transform="scale(0.015625)"/>
      </defs>
      <use href="#DejaVuSans-Bold-2d"/>
      <use href="#DejaVuSans-Bold-37" transform="translate(41.503906 0)"/>
      <use href="#DejaVuSans-Bold-30" transform="translate(111.083984 0)"/>
     </g>
    </g>
   </g>
   <g id="text_62">
    <g clip-path="url(#p07b7da3071)">
     <!-- -60 -->
     <g style="fill: #1f77b4" transform="translate(203.254983 151.097572) rotate(-45) scale(0.074 -0.074)">
      <use href="#DejaVuSans-Bold-2d"/>
      <use href="#DejaVuSans-Bold-36" transform="translate(41.503906 0)"/>
      <use href="#DejaVuSans-Bold-30" transform="translate(111.083984 0)"/>
     </g>
    </g>
   </g>
   <g id="text_63">
    <g clip-path="url(#p07b7da3071)">
     <!-- -50 -->
     <g style="fill: #1f77b4" transform="translate(222.659519 175.895521) rotate(-45) scale(0.074 -0.074)">
      <use href="#DejaVuSans-Bold-2d"/>
      <use href="#DejaVuSans-Bold-35" transform="translate(41.503906 0)"/>
      <use href="#DejaVuSans-Bold-30" transform="translate(111.083984 0)"/>
     </g>
    </g>
   </g>
   <g id="text_64">
    <g clip-path="url(#p07b7da3071)">
     <!-- -40 -->
     <g style="fill: #1f77b4" transform="translate(243.151324 199.6062) rotate(-45) scale(0.074 -0.074)">
      <use href="#DejaVuSans-Bold-2d"/>
      <use href="#DejaVuSans-Bold-34" transform="translate(41.503906 0)"/>
      <use href="#DejaVuSans-Bold-30" transform="translate(111.083984 0)"/>
     </g>
    </g>
   </g>
   <g id="text_65">
    <g clip-path="url(#p07b7da3071)">
     <!-- -30 -->
     <g style="fill: #1f77b4" transform="translate(264.639048 222.32096) rotate(-45) scale(0.074 -0.074)">
      <use href="#DejaVuSans-Bold-2d"/>
      <use href="#DejaVuSans-Bold-33" transform="translate(41.503906 0)"/>
      <use href="#DejaVuSans-Bold-30" transform="translate(111.083984 0)"/>
     </g>
    </g>
   </g>
   <g id="text_66">
    <g clip-path="url(#p07b7da3071)">
     <!-- -20 -->
     <g style="fill: #1f77b4" transform="translate(287.04239 244.120103) rotate(-45) scale(0.074 -0.074)">
      <use href="#DejaVuSans-Bold-2d"/>
      <use href="#DejaVuSans-Bold-32" transform="translate(41.503906 0)"/>
      <use href="#DejaVuSans-Bold-30" transform="translate(111.083984 0)"/>
     </g>
    </g>
   </g>
   <g id="text_67">
    <g clip-path="url(#p07b7da3071)">
     <!-- -10 -->
     <g style="fill: #1f77b4" transform="translate(310.290384 265.074593) rotate(-45) scale(0.074 -0.074)">
      <use href="#DejaVuSans-Bold-2d"/>
      <use href="#DejaVuSans-Bold-31" transform="translate(41.503906 0)"/>
      <use href="#DejaVuSans-Bold-30" transform="translate(111.083984 0)"/>
     </g>
    </g>
   </g>
   <g id="text_68">
    <g clip-path="url(#p07b7da3071)">
     <!-- 0 -->
     <g style="fill: #808080" transform="translate(337.226141 282.341321) rotate(-45) scale(0.074 -0.074)">
      <use href="#DejaVuSans-Bold-30"/>
     </g>
    </g>
   </g>
   <g id="text_69">
    <g clip-path="url(#p07b7da3071)">
     <!-- 10 -->
     <g style="fill: #d62728" transform="translate(360.160807 303.609139) rotate(-45) scale(0.074 -0.074)">
      <use href="#DejaVuSans-Bold-31"/>
      <use href="#DejaVuSans-Bold-30" transform="translate(69.580078 0)"/>
     </g>
    </g>
   </g>
   <g id="text_70">
    <g clip-path="url(#p07b7da3071)">
     <!-- 20 -->
     <g style="fill: #d62728" transform="translate(385.590888 322.381543) rotate(-45) scale(0.074 -0.074)">
      <use href="#DejaVuSans-Bold-32"/>
      <use href="#DejaVuSans-Bold-30" transform="translate(69.580078 0)"/>
     </g>
    </g>
   </g>
   <g id="text_71">
    <g clip-path="url(#p07b7da3071)">
     <!-- 30 -->
     <g style="fill: #d62728" transform="translate(411.650718 340.524197) rotate(-45) scale(0.074 -0.074)">
      <use href="#DejaVuSans-Bold-33"/>
      <use href="#DejaVuSans-Bold-30" transform="translate(69.580078 0)"/>
     </g>
    </g>
   </g>
   <g id="text_72">
    <g clip-path="url(#p07b7da3071)">
     <!-- 40 -->
     <g style="fill: #d62728" transform="translate(438.299414 358.077986) rotate(-45) scale(0.074 -0.074)">
      <use href="#DejaVuSans-Bold-34"/>
      <use href="#DejaVuSans-Bold-30" transform="translate(69.580078 0)"/>
     </g>
    </g>
   </g>
  </g>
 </g>
 <defs>
  <clipPath id="p07b7da3071">
   <rect x="54.3" y="21.9" width="397.8" height="363.6"/>
  </clipPath>
 </defs>
</svg>

</body></html>
